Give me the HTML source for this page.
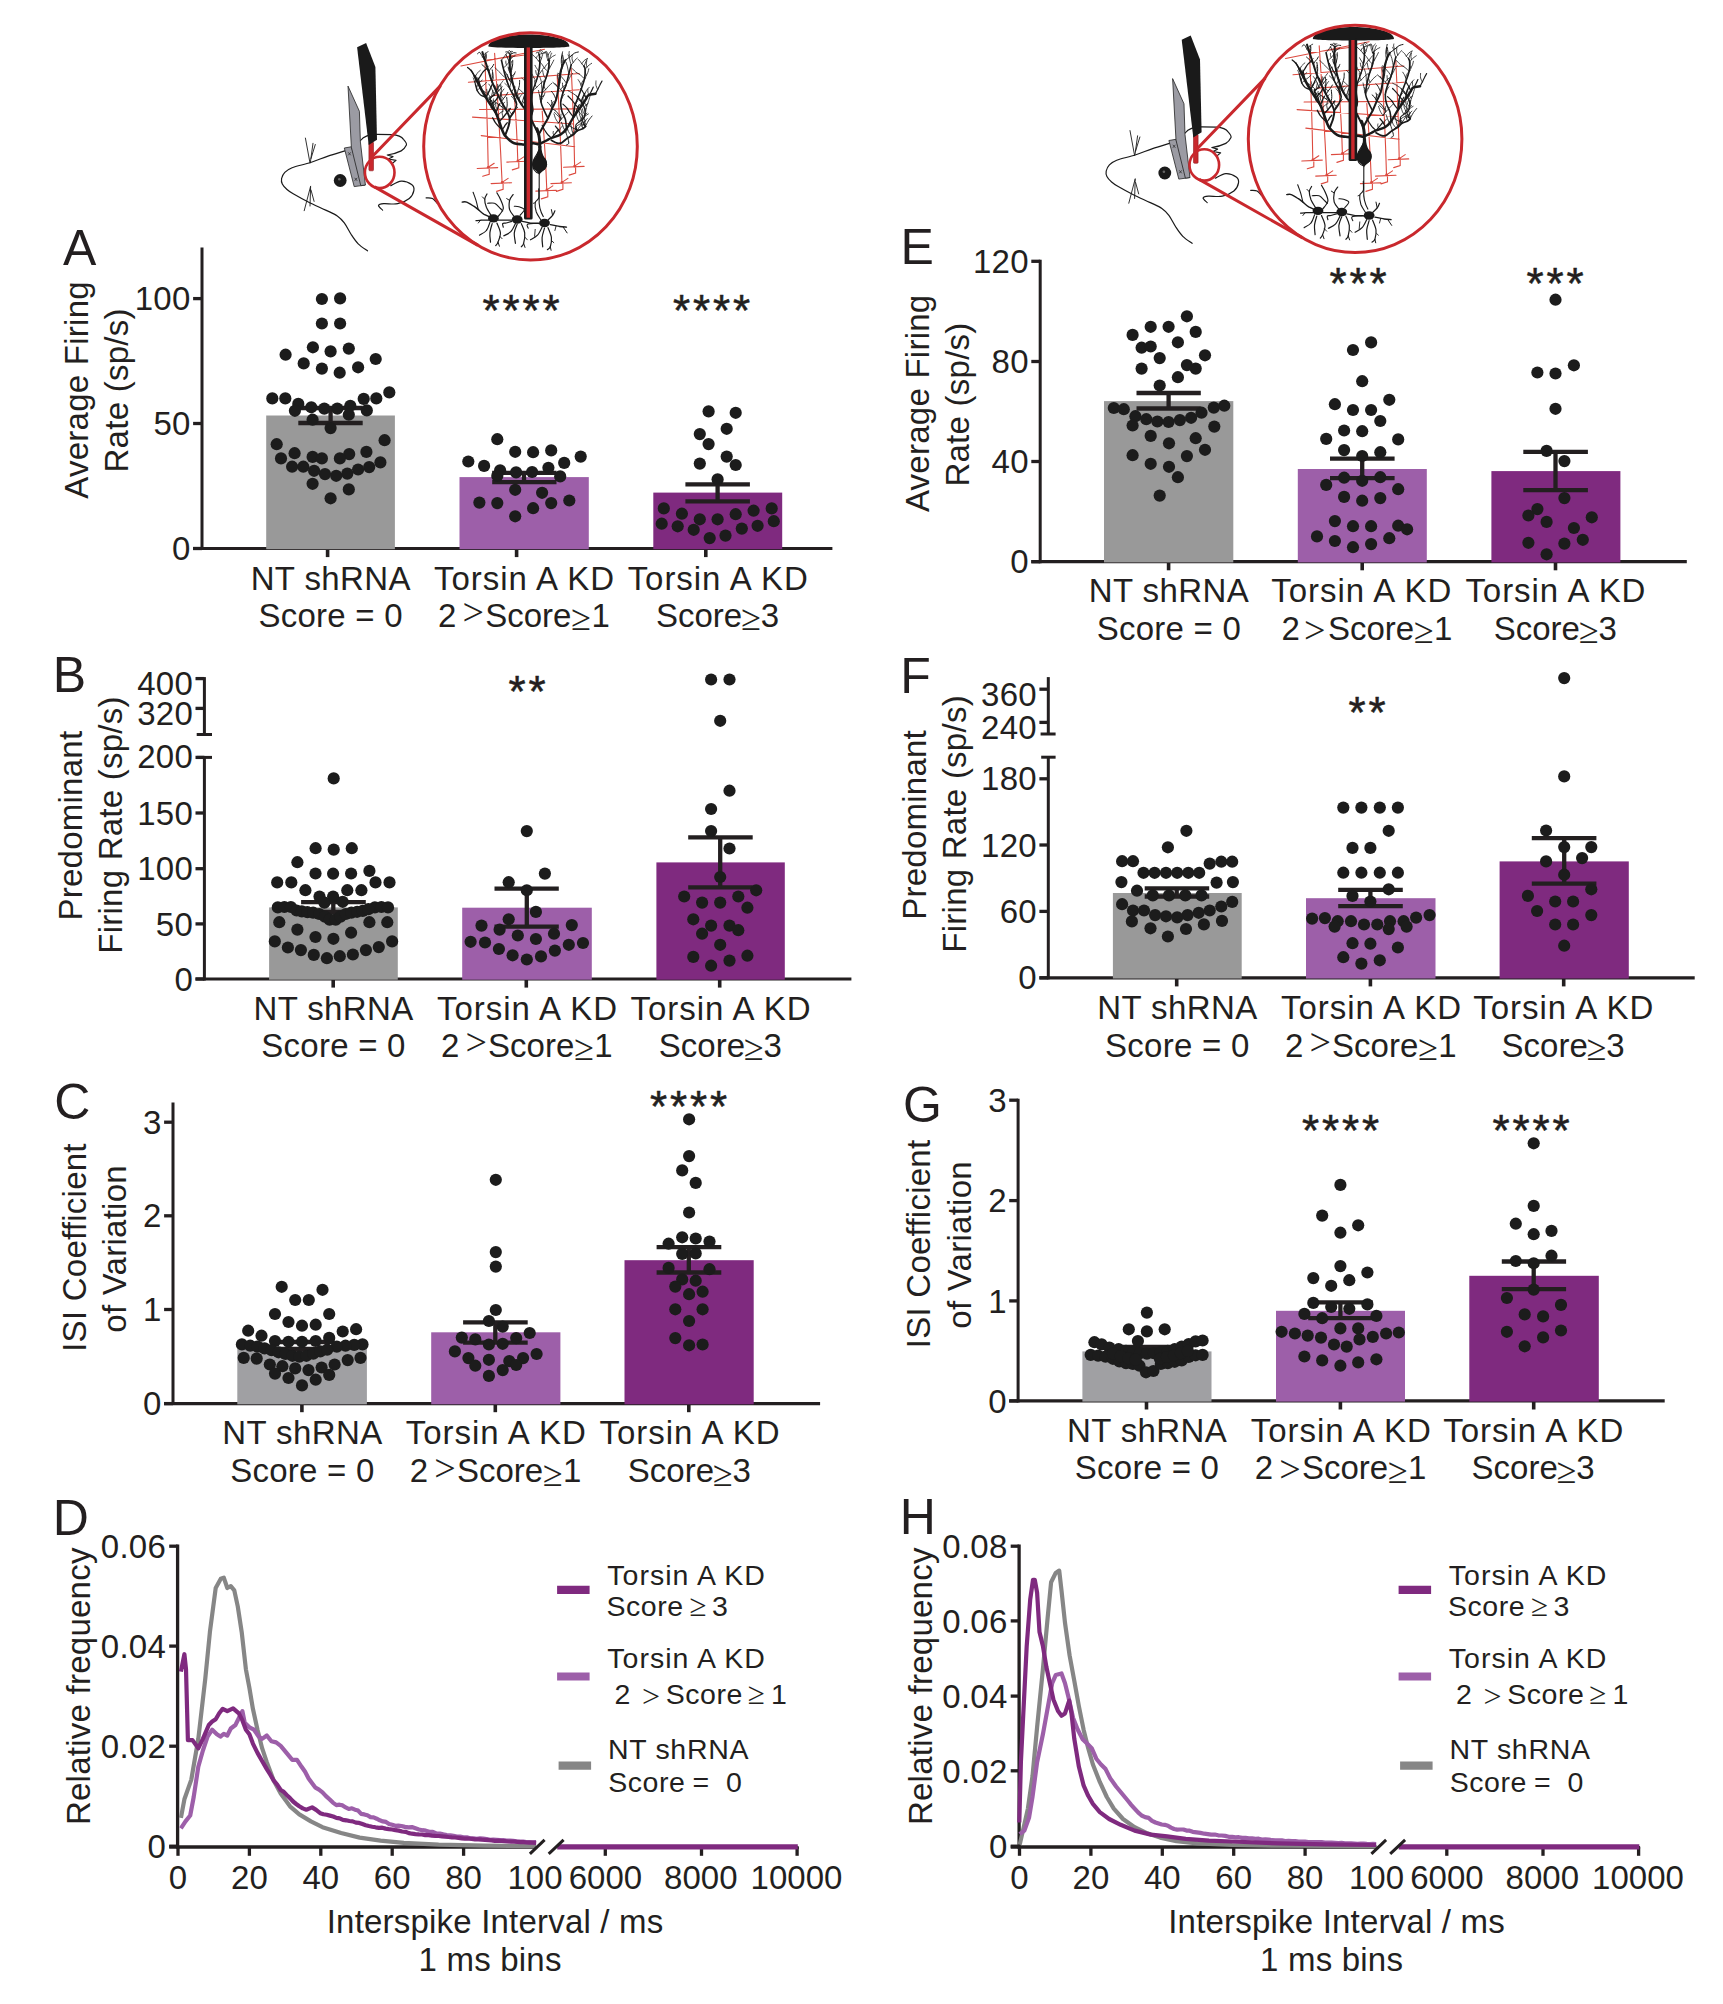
<!DOCTYPE html>
<html lang="en"><head><meta charset="utf-8"><title>Figure</title>
<style>html,body{margin:0;padding:0;background:#fff}body{width:1723px;height:2004px;overflow:hidden}svg{display:block}text{font-family:'Liberation Sans', Arial, Helvetica, sans-serif;fill:#231f20}</style>
</head><body>
<svg width="1723" height="2004" viewBox="0 0 1723 2004">
<rect width="1723" height="2004" fill="#fff"/>
<g transform="translate(0.0,0.0)">
<path d="M344.9,150.9 C342.1,151.8 333.7,154.2 328.0,156.1 C322.3,158.0 316.6,160.6 310.6,162.5 C304.6,164.4 296.4,166.1 292.1,167.7 C287.8,169.3 286.6,170.5 284.8,172.3 C283.1,174.1 282.0,176.6 281.6,178.5 C281.2,180.4 281.4,182.2 282.3,184.0 C283.2,185.8 285.2,187.9 287.0,189.5 C288.8,191.1 289.6,191.7 293.2,193.8 C296.8,195.9 302.9,199.3 308.3,202.0 C313.7,204.7 320.9,207.8 325.7,210.1 C330.5,212.4 334.2,213.8 337.3,215.9 C340.4,218.0 342.0,219.8 344.3,222.9 C346.6,226.0 348.9,231.0 351.2,234.5 C353.5,238.0 355.5,241.1 358.2,243.8 C360.9,246.5 365.9,249.6 367.5,250.8" fill="none" stroke="#1a1a1a" stroke-width="1.2" stroke-linecap="round" stroke-linejoin="round"/>
<path d="M305.4,138.1 L310,163 M313,143.3 L310.4,162 M315.3,144.5 L311,158.5 M304.2,210.7 L310.6,186.3 M310,206 L310.6,187 M314.1,201.4 L311,190" fill="none" stroke="#1a1a1a" stroke-width="0.9" stroke-linecap="round"/>
<path d="M360.5,140.5 C364,136 369,134.4 377,134.4 L391.9,134.6 C398,135 402,137 403.5,139.3 C406,142 406.8,144 406.4,145.1 C405,148 403,150 401.2,150.9 C397,153 392,154.5 387.2,155 L393,156.7 L388.4,159 L396,160.4 L391.9,163.7" fill="none" stroke="#1a1a1a" stroke-width="1.2" stroke-linecap="round" stroke-linejoin="round"/>
<path d="M390.7,185.7 C392.4,184.9 397.7,181.3 401.2,181.1 C404.7,180.9 409.5,183.0 411.6,184.6 C413.7,186.2 414.3,188.1 413.9,190.4 C413.5,192.7 412.0,196.3 409.3,198.5 C406.6,200.7 401.9,202.8 397.7,203.7 C393.4,204.6 387.0,203.4 383.8,203.7 C380.6,204.0 378.7,204.4 378.5,205.5 C378.3,206.6 381.9,209.3 382.6,210.1" fill="none" stroke="#1a1a1a" stroke-width="1.2" stroke-linecap="round" stroke-linejoin="round"/>
<path d="M426.1,197.9 C427.2,198.0 430.7,197.6 432.5,198.5 C434.3,199.4 436.3,202.3 437.1,203.1" fill="none" stroke="#1a1a1a" stroke-width="1.2" stroke-linecap="round" stroke-linejoin="round"/>
<circle cx="340.2" cy="180.5" r="6.4" fill="#1a1a1a"/><circle cx="339.3" cy="179.2" r="1.3" fill="#666"/>
<polygon points="344.3,148 351.3,146.8 365.2,185.1 354.2,186.6" fill="#9b9ba3" stroke="#222" stroke-width="0.8"/>
<polygon points="348,86.1 359.4,111.3 360.4,142 365.4,185 360.8,185.7 351.4,147.5" fill="#9b9ba3" stroke="#222" stroke-width="0.8" stroke-linejoin="round"/>
<path d="M348.2,152.3 l2.6,3 M350.8,152.3 l-2.6,3 M354.6,177.8 l2.6,3 M357.2,177.8 l-2.6,3" stroke="#222" stroke-width="0.7" fill="none"/>
<rect x="368.9" y="142" width="4.6" height="28.8" rx="1" fill="#c9282d" stroke="#8e1c20" stroke-width="0.6"/>
<polygon points="357.1,47.2 366.1,43.1 375.4,67.1 377,139.7 368.7,144.9" fill="#1a1a1a"/>
<ellipse cx="379.7" cy="172.4" rx="14.8" ry="15.7" fill="none" stroke="#c9282d" stroke-width="2.6"/>
<path d="M372.1,156.7 L440.6,85.6 M374.5,186.9 L478,245.4" fill="none" stroke="#c9282d" stroke-width="3" stroke-linecap="butt"/>
<path d="M460.9,66.0 L544.5,49.2 M485.3,60.2 L524.7,55.0 M468.4,82.2 L579.3,73.5 M492.2,95.6 L579.3,89.8 M479.5,109.5 L580.5,108.9 M472.5,117.1 L573.5,124.0 M481.2,135.6 L574.7,146.7 M484.7,56.7 Q487.4,117.5 488.2,167.3 M477.2,168.5 L497.7,167.6 M488.2,167.3 L494.2,163.3 M489.2,167.3 L489.2,174.3 L482.7,176.3 M494.6,53.2 Q499.5,124.3 502.1,182.4 M491.1,183.6 L511.6,182.7 M502.1,182.4 L508.1,178.4 M503.1,182.4 L503.1,189.4 L496.6,191.4 M514.3,95.0 Q517.0,131.2 517.8,160.9 M506.8,162.1 L527.3,161.2 M517.8,160.9 L523.8,156.9 M518.8,160.9 L518.8,167.9 L512.3,169.9 M542.2,111.0 Q545.5,154.4 546.8,189.9 M535.8,191.1 L556.3,190.2 M546.8,189.9 L552.8,185.9 M547.8,189.9 L547.8,196.9 L541.3,198.9 M557.2,76.4 Q560.6,134.7 561.9,182.4 M550.9,183.6 L571.4,182.7 M561.9,182.4 L567.9,178.4 M562.9,182.4 L562.9,189.4 L556.4,191.4 M571.2,68.3 Q573.9,122.1 574.6,166.1 M563.6,167.3 L584.1,166.4 M574.6,166.1 L580.6,162.1 M575.6,166.1 L575.6,173.1 L569.1,175.1 " fill="none" stroke="#dc4a3f" stroke-width="1.1" stroke-linecap="round"/>
<circle cx="488.2" cy="167.3" r="1.3" fill="#dc4a3f"/>
<circle cx="502.1" cy="182.4" r="1.3" fill="#dc4a3f"/>
<circle cx="517.8" cy="160.9" r="1.3" fill="#dc4a3f"/>
<circle cx="546.8" cy="189.9" r="1.3" fill="#dc4a3f"/>
<circle cx="561.9" cy="182.4" r="1.3" fill="#dc4a3f"/>
<circle cx="574.6" cy="166.1" r="1.3" fill="#dc4a3f"/>
<path d="M539.8,147.2 C539.8,146.1 539.8,142.4 539.6,140.3 C539.4,138.1 539.1,136.4 538.7,134.5 C538.2,132.5 537.2,129.6 536.9,128.7" fill="none" stroke="#1a1a1a" stroke-width="3.0" stroke-linecap="round" stroke-linejoin="round"/>
<path d="M538.7,134.5 C538.0,133.1 536.0,129.1 534.6,126.3 C533.2,123.6 532.0,120.9 530.5,118.2 C529.1,115.5 527.4,112.4 525.9,110.1 C524.3,107.8 522.8,106.8 521.3,104.3 C519.7,101.8 518.0,98.3 516.6,95.0 C515.3,91.7 514.1,88.0 513.1,84.6 C512.2,81.1 511.4,77.4 510.8,74.1 C510.2,70.8 509.7,68.1 509.6,64.8 C509.5,61.5 510.1,56.1 510.2,54.4" fill="none" stroke="#1a1a1a" stroke-width="2.0" stroke-linecap="round" stroke-linejoin="round"/>
<path d="M538.7,134.5 C539.4,133.1 541.8,129.1 543.3,126.3 C544.9,123.6 546.5,121.1 548.0,118.2 C549.4,115.3 550.7,112.0 552.0,108.9 C553.4,105.8 555.0,103.1 556.1,99.6 C557.1,96.2 557.8,91.9 558.4,88.0 C559.0,84.2 559.0,79.9 559.6,76.4 C560.1,72.9 560.9,69.9 561.9,67.1 C562.8,64.4 564.8,61.3 565.4,60.2" fill="none" stroke="#1a1a1a" stroke-width="2.0" stroke-linecap="round" stroke-linejoin="round"/>
<path d="M538.1,144.3 C537.2,144.1 534.5,143.1 532.9,143.2 C531.2,143.3 530.2,144.7 528.2,144.9 C526.3,145.1 523.6,144.6 521.3,144.3 C518.9,144.0 516.2,143.9 514.3,143.2 C512.4,142.5 511.2,141.5 509.6,140.3 C508.1,139.0 506.3,137.4 505.0,135.6 C503.7,133.9 503.1,132.1 502.1,129.8 C501.1,127.5 500.3,124.6 499.2,121.7 C498.1,118.8 497.1,115.1 495.7,112.4 C494.4,109.7 492.7,108.0 491.1,105.4 C489.4,102.9 487.6,100.2 485.9,97.3 C484.1,94.4 482.1,90.7 480.6,88.0 C479.2,85.3 478.1,83.0 477.1,81.1 C476.2,79.1 475.2,77.2 474.8,76.4" fill="none" stroke="#1a1a1a" stroke-width="2.6" stroke-linecap="round" stroke-linejoin="round"/>
<path d="M505.0,135.6 C505.6,134.1 507.7,129.2 508.5,126.3 C509.3,123.4 510.0,120.9 509.6,118.2 C509.3,115.5 507.5,112.8 506.2,110.1 C504.8,107.4 503.1,104.9 501.5,102.0 C500.0,99.1 498.4,96.0 496.9,92.7 C495.3,89.4 493.6,85.7 492.2,82.2 C490.9,78.8 489.9,75.3 488.8,71.8 C487.6,68.3 486.3,64.6 485.3,61.3 C484.2,58.1 482.9,53.6 482.4,52.1" fill="none" stroke="#1a1a1a" stroke-width="2.0" stroke-linecap="round" stroke-linejoin="round"/>
<path d="M509.6,118.2 C510.4,117.1 513.1,113.6 514.3,111.3 C515.4,108.9 516.6,106.6 516.6,104.3 C516.6,102.0 515.4,100.0 514.3,97.3 C513.1,94.6 511.0,91.1 509.6,88.0 C508.3,84.9 507.2,82.0 506.2,78.8 C505.1,75.5 504.0,71.4 503.3,68.3 C502.5,65.2 501.8,61.5 501.5,60.2" fill="none" stroke="#1a1a1a" stroke-width="1.6" stroke-linecap="round" stroke-linejoin="round"/>
<path d="M495.7,112.4 C495.1,110.7 493.2,104.1 492.2,102.0 C491.3,99.8 490.1,100.4 489.9,99.6 C489.7,98.9 490.3,98.1 491.1,97.3 C491.8,96.6 494.0,95.4 494.6,95.0" fill="none" stroke="#1a1a1a" stroke-width="1.2" stroke-linecap="round" stroke-linejoin="round"/>
<path d="M485.9,97.3 C485.0,96.9 482.1,96.2 480.6,95.0 C479.2,93.8 478.0,92.1 477.1,90.4 C476.3,88.6 475.7,85.5 475.4,84.6" fill="none" stroke="#1a1a1a" stroke-width="1.2" stroke-linecap="round" stroke-linejoin="round"/>
<path d="M541.0,143.2 C542.0,142.7 545.0,141.1 546.8,140.3 C548.5,139.4 549.1,138.9 551.4,138.0 C553.8,137.0 558.2,136.0 560.7,134.5 C563.2,132.9 564.4,131.6 566.5,128.7 C568.7,125.8 571.4,120.3 573.5,117.1 C575.6,113.8 577.7,111.1 579.3,108.9 C580.8,106.8 581.6,106.0 582.8,104.3 C583.9,102.5 585.3,100.0 586.3,98.5 C587.2,96.9 587.0,95.8 588.6,95.0 C590.1,94.2 594.4,94.0 595.5,93.8" fill="none" stroke="#1a1a1a" stroke-width="2.4" stroke-linecap="round" stroke-linejoin="round"/>
<path d="M566.5,128.7 C566.3,127.1 566.1,122.3 565.4,119.4 C564.6,116.5 562.7,114.2 561.9,111.3 C561.1,108.4 560.5,105.1 560.7,102.0 C560.9,98.9 562.1,95.8 563.0,92.7 C564.0,89.6 565.6,86.5 566.5,83.4 C567.5,80.3 568.1,77.2 568.8,74.1 C569.6,71.0 570.8,66.4 571.2,64.8" fill="none" stroke="#1a1a1a" stroke-width="1.6" stroke-linecap="round" stroke-linejoin="round"/>
<path d="M573.5,117.1 C573.7,115.3 573.9,109.9 574.6,106.6 C575.4,103.3 577.0,100.4 578.1,97.3 C579.3,94.2 580.5,91.1 581.6,88.0 C582.7,84.9 583.9,81.8 584.5,78.8 C585.1,75.7 585.2,71.6 585.1,69.5 C585.0,67.3 584.1,66.6 583.9,66.0" fill="none" stroke="#1a1a1a" stroke-width="1.6" stroke-linecap="round" stroke-linejoin="round"/>
<path d="M551.4,140.3 C552.4,140.8 555.5,142.8 557.2,143.2 C559.0,143.6 560.1,143.5 561.9,142.6 C563.6,141.7 565.7,139.3 567.7,138.0 C569.6,136.6 571.9,135.6 573.5,134.5 C575.0,133.3 575.4,132.0 577.0,131.0 C578.5,130.0 581.3,129.4 582.8,128.7 C584.2,127.9 585.5,127.0 585.7,126.3 C585.9,125.7 584.2,124.9 583.9,124.6" fill="none" stroke="#1a1a1a" stroke-width="1.8" stroke-linecap="round" stroke-linejoin="round"/>
<path d="M567.7,138.0 C567.9,138.8 569.0,142.0 568.8,143.2 C568.7,144.3 566.9,144.6 566.5,144.9" fill="none" stroke="#1a1a1a" stroke-width="1.0" stroke-linecap="round" stroke-linejoin="round"/>
<path d="M577.0,131.0 C576.8,130.0 575.4,126.7 575.8,125.2 C576.2,123.6 577.9,122.9 579.3,121.7 C580.6,120.5 583.0,120.0 583.9,118.2 C584.9,116.5 585.0,113.0 585.1,111.3 C585.2,109.5 584.6,108.4 584.5,107.8" fill="none" stroke="#1a1a1a" stroke-width="1.2" stroke-linecap="round" stroke-linejoin="round"/>
<path d="M548.0,118.2 C547.4,117.1 545.6,114.0 544.5,111.3 C543.3,108.5 541.4,105.1 541.0,102.0 C540.6,98.9 541.6,96.0 542.1,92.7 C542.7,89.4 543.5,85.7 544.5,82.2 C545.4,78.8 547.2,75.3 548.0,71.8 C548.7,68.3 549.1,63.3 549.1,61.3 C549.1,59.4 548.1,60.4 548.0,60.2" fill="none" stroke="#1a1a1a" stroke-width="1.6" stroke-linecap="round" stroke-linejoin="round"/>
<path d="M530.5,118.2 C530.9,116.9 532.7,113.2 532.9,110.1 C533.1,107.0 531.7,102.9 531.7,99.6 C531.7,96.4 532.1,93.5 532.9,90.4 C533.6,87.3 535.4,84.2 536.3,81.1 C537.3,78.0 538.1,74.9 538.7,71.8 C539.2,68.7 539.7,65.4 539.8,62.5 C539.9,59.6 539.3,55.7 539.2,54.4" fill="none" stroke="#1a1a1a" stroke-width="1.4" stroke-linecap="round" stroke-linejoin="round"/>
<path d="M552.0,108.9 C552.7,109.3 554.6,109.7 556.1,111.3 C557.5,112.8 560.3,116.3 560.7,118.2 C561.1,120.2 558.8,122.1 558.4,122.9" fill="none" stroke="#1a1a1a" stroke-width="1.0" stroke-linecap="round" stroke-linejoin="round"/>
<path d="M530.5,118.2 C530.1,117.6 529.0,115.6 528.2,114.3 C527.4,113.0 526.7,111.6 525.9,110.3 C525.1,109.0 523.8,107.1 523.4,106.5" fill="none" stroke="#1a1a1a" stroke-width="1.0" stroke-linecap="round" stroke-linejoin="round"/>
<path d="M528.2,114.3 C528.3,114.0 528.6,113.1 529.0,112.6 C529.4,112.1 530.2,111.6 530.4,111.3" fill="none" stroke="#1a1a1a" stroke-width="0.8" stroke-linecap="round" stroke-linejoin="round"/>
<path d="M530.5,118.2 C530.6,117.8 530.9,116.5 531.2,115.7 C531.5,114.8 532.0,114.1 532.2,113.2 C532.5,112.4 532.7,111.1 532.8,110.7" fill="none" stroke="#1a1a1a" stroke-width="1.0" stroke-linecap="round" stroke-linejoin="round"/>
<path d="M531.2,115.7 C530.8,115.0 529.4,113.2 529.0,111.7 C528.5,110.3 528.5,107.9 528.4,107.1" fill="none" stroke="#1a1a1a" stroke-width="0.8" stroke-linecap="round" stroke-linejoin="round"/>
<path d="M525.9,110.1 C525.3,109.3 523.4,107.2 522.3,105.6 C521.3,104.0 520.6,102.2 519.6,100.6 C518.6,99.0 516.9,96.7 516.4,95.9" fill="none" stroke="#1a1a1a" stroke-width="1.0" stroke-linecap="round" stroke-linejoin="round"/>
<path d="M522.3,105.6 C522.4,105.2 522.6,103.9 523.0,103.1 C523.4,102.3 524.4,101.3 524.7,100.9" fill="none" stroke="#1a1a1a" stroke-width="0.8" stroke-linecap="round" stroke-linejoin="round"/>
<path d="M521.3,104.3 C520.8,103.7 519.5,101.8 518.7,100.5 C517.8,99.3 517.1,97.9 516.2,96.7 C515.2,95.6 513.5,94.1 512.9,93.6" fill="none" stroke="#1a1a1a" stroke-width="1.0" stroke-linecap="round" stroke-linejoin="round"/>
<path d="M518.7,100.5 C518.9,100.0 519.2,98.1 519.8,97.0 C520.4,95.9 521.8,94.5 522.3,94.0" fill="none" stroke="#1a1a1a" stroke-width="0.8" stroke-linecap="round" stroke-linejoin="round"/>
<path d="M521.3,104.3 C521.5,103.6 522.4,101.6 522.9,100.2 C523.4,98.9 523.6,97.4 524.1,96.1 C524.6,94.7 525.6,92.8 525.9,92.1" fill="none" stroke="#1a1a1a" stroke-width="1.0" stroke-linecap="round" stroke-linejoin="round"/>
<path d="M516.6,95.0 C516.4,94.4 515.6,92.4 515.2,91.1 C514.8,89.8 514.6,88.4 514.2,87.1 C513.8,85.7 513.1,83.8 512.8,83.2" fill="none" stroke="#1a1a1a" stroke-width="1.0" stroke-linecap="round" stroke-linejoin="round"/>
<path d="M516.6,95.0 C516.8,94.2 517.5,91.8 518.0,90.2 C518.5,88.7 519.1,87.1 519.4,85.5 C519.6,83.9 519.6,81.4 519.6,80.5" fill="none" stroke="#1a1a1a" stroke-width="1.0" stroke-linecap="round" stroke-linejoin="round"/>
<path d="M513.1,84.6 C512.6,83.8 510.9,81.7 510.0,80.2 C509.0,78.7 508.1,77.2 507.2,75.6 C506.4,74.0 505.2,71.6 504.7,70.8" fill="none" stroke="#1a1a1a" stroke-width="1.0" stroke-linecap="round" stroke-linejoin="round"/>
<path d="M510.0,80.2 C510.3,79.6 510.9,77.5 511.7,76.4 C512.5,75.3 514.3,73.9 514.9,73.5" fill="none" stroke="#1a1a1a" stroke-width="0.8" stroke-linecap="round" stroke-linejoin="round"/>
<path d="M510.8,74.1 C510.6,73.7 510.0,72.6 509.6,71.9 C509.3,71.1 508.9,70.3 508.6,69.5 C508.4,68.7 508.3,67.5 508.2,67.0" fill="none" stroke="#1a1a1a" stroke-width="1.0" stroke-linecap="round" stroke-linejoin="round"/>
<path d="M510.8,74.1 C511.0,73.4 511.4,71.1 511.7,69.6 C512.0,68.0 512.4,66.5 512.6,65.0 C512.8,63.4 512.7,61.1 512.7,60.3" fill="none" stroke="#1a1a1a" stroke-width="1.0" stroke-linecap="round" stroke-linejoin="round"/>
<path d="M511.7,69.6 C511.6,68.9 510.9,67.0 510.8,65.7 C510.8,64.4 511.4,62.3 511.5,61.6" fill="none" stroke="#1a1a1a" stroke-width="0.8" stroke-linecap="round" stroke-linejoin="round"/>
<path d="M509.6,64.8 C509.5,64.2 509.3,62.4 509.0,61.2 C508.6,60.0 508.0,58.9 507.5,57.8 C507.0,56.7 506.3,55.0 506.0,54.5" fill="none" stroke="#1a1a1a" stroke-width="1.0" stroke-linecap="round" stroke-linejoin="round"/>
<path d="M509.0,61.2 C509.4,60.7 510.4,58.8 511.4,57.9 C512.4,57.0 514.5,56.1 515.1,55.7" fill="none" stroke="#1a1a1a" stroke-width="0.8" stroke-linecap="round" stroke-linejoin="round"/>
<path d="M510.2,54.4 C510.1,54.3 509.7,54.1 509.3,53.7 C508.9,53.3 508.3,52.2 507.8,51.9 C507.2,51.6 506.2,52.0 505.8,52.0" fill="none" stroke="#1a1a1a" stroke-width="1.0" stroke-linecap="round" stroke-linejoin="round"/>
<path d="M509.3,53.7 C509.5,53.3 509.9,51.9 510.5,51.5 C511.0,51.1 512.2,51.5 512.5,51.5" fill="none" stroke="#1a1a1a" stroke-width="0.8" stroke-linecap="round" stroke-linejoin="round"/>
<path d="M510.2,54.4 C510.5,54.3 511.3,54.0 511.9,53.7 C512.6,53.4 513.2,52.8 513.9,52.7 C514.6,52.6 515.7,53.0 516.1,53.0" fill="none" stroke="#1a1a1a" stroke-width="1.0" stroke-linecap="round" stroke-linejoin="round"/>
<path d="M511.9,53.7 C511.5,53.2 510.1,50.9 509.5,50.5 C508.9,50.1 508.6,51.3 508.5,51.5" fill="none" stroke="#1a1a1a" stroke-width="0.8" stroke-linecap="round" stroke-linejoin="round"/>
<path d="M552.0,108.9 C551.8,108.5 551.4,107.2 551.0,106.4 C550.6,105.7 550.1,104.9 549.5,104.2 C548.9,103.6 547.9,102.7 547.5,102.4" fill="none" stroke="#1a1a1a" stroke-width="1.0" stroke-linecap="round" stroke-linejoin="round"/>
<path d="M551.0,106.4 C551.1,106.0 551.3,104.6 551.8,103.8 C552.2,103.0 553.2,102.0 553.5,101.6" fill="none" stroke="#1a1a1a" stroke-width="0.8" stroke-linecap="round" stroke-linejoin="round"/>
<path d="M552.0,108.9 C552.0,108.5 552.1,107.0 552.2,106.1 C552.2,105.1 552.2,104.2 552.1,103.2 C552.0,102.3 551.5,100.9 551.4,100.5" fill="none" stroke="#1a1a1a" stroke-width="1.0" stroke-linecap="round" stroke-linejoin="round"/>
<path d="M556.1,99.6 C555.9,99.2 555.3,97.7 554.8,96.7 C554.4,95.7 554.0,94.7 553.4,93.8 C552.8,92.9 551.8,91.7 551.4,91.3" fill="none" stroke="#1a1a1a" stroke-width="1.0" stroke-linecap="round" stroke-linejoin="round"/>
<path d="M558.4,88.0 C558.1,87.7 557.3,86.7 556.7,86.0 C556.1,85.4 555.5,84.7 554.9,84.1 C554.3,83.5 553.2,82.8 552.9,82.5" fill="none" stroke="#1a1a1a" stroke-width="1.0" stroke-linecap="round" stroke-linejoin="round"/>
<path d="M558.4,88.0 C558.7,87.1 559.6,84.5 559.9,82.6 C560.3,80.8 560.3,78.9 560.5,77.0 C560.7,75.1 561.1,72.4 561.2,71.4" fill="none" stroke="#1a1a1a" stroke-width="1.0" stroke-linecap="round" stroke-linejoin="round"/>
<path d="M559.9,82.6 C559.6,81.9 558.3,80.0 557.9,78.5 C557.5,77.0 557.6,74.6 557.5,73.8" fill="none" stroke="#1a1a1a" stroke-width="0.8" stroke-linecap="round" stroke-linejoin="round"/>
<path d="M559.6,76.4 C559.7,75.8 560.0,74.1 560.3,72.9 C560.7,71.8 561.1,70.7 561.6,69.5 C562.0,68.4 562.6,66.7 562.8,66.2" fill="none" stroke="#1a1a1a" stroke-width="1.0" stroke-linecap="round" stroke-linejoin="round"/>
<path d="M561.9,67.1 C561.8,66.3 561.3,63.7 561.3,62.0 C561.2,60.3 561.3,58.6 561.6,56.9 C561.8,55.2 562.5,52.7 562.6,51.9" fill="none" stroke="#1a1a1a" stroke-width="1.0" stroke-linecap="round" stroke-linejoin="round"/>
<path d="M561.9,67.1 C562.1,66.5 562.8,64.5 563.1,63.2 C563.3,61.8 563.4,60.4 563.3,59.1 C563.2,57.7 562.7,55.7 562.6,55.0" fill="none" stroke="#1a1a1a" stroke-width="1.0" stroke-linecap="round" stroke-linejoin="round"/>
<path d="M563.1,63.2 C562.9,62.6 562.0,60.9 561.9,59.6 C561.7,58.4 562.1,56.4 562.1,55.8" fill="none" stroke="#1a1a1a" stroke-width="0.8" stroke-linecap="round" stroke-linejoin="round"/>
<path d="M565.4,60.2 C566.1,59.6 568.5,58.0 570.0,56.8 C571.6,55.6 573.1,53.9 574.5,53.1 C575.9,52.3 577.7,52.2 578.4,52.0" fill="none" stroke="#1a1a1a" stroke-width="1.0" stroke-linecap="round" stroke-linejoin="round"/>
<path d="M570.0,56.8 C569.9,56.2 569.1,54.3 569.0,53.4 C568.9,52.5 569.3,51.8 569.3,51.5" fill="none" stroke="#1a1a1a" stroke-width="0.8" stroke-linecap="round" stroke-linejoin="round"/>
<path d="M502.1,129.8 C501.5,129.2 499.6,127.5 498.5,126.2 C497.3,125.0 496.1,123.7 495.2,122.3 C494.2,120.9 493.2,118.6 492.7,117.8" fill="none" stroke="#1a1a1a" stroke-width="1.3" stroke-linecap="round" stroke-linejoin="round"/>
<path d="M502.1,129.8 C502.4,129.4 503.3,128.3 503.8,127.5 C504.4,126.6 504.8,125.7 505.4,124.9 C506.0,124.2 507.0,123.1 507.3,122.7" fill="none" stroke="#1a1a1a" stroke-width="1.3" stroke-linecap="round" stroke-linejoin="round"/>
<path d="M499.2,121.7 C498.9,120.8 498.1,118.1 497.3,116.4 C496.6,114.7 495.7,113.0 494.6,111.5 C493.6,109.9 491.6,107.9 491.0,107.1" fill="none" stroke="#1a1a1a" stroke-width="1.3" stroke-linecap="round" stroke-linejoin="round"/>
<path d="M497.3,116.4 C497.7,115.9 498.8,114.1 499.8,113.2 C500.8,112.3 502.9,111.4 503.5,111.0" fill="none" stroke="#1a1a1a" stroke-width="0.8" stroke-linecap="round" stroke-linejoin="round"/>
<path d="M499.2,121.7 C499.8,121.0 501.8,118.9 503.1,117.5 C504.3,116.0 505.4,114.5 506.6,113.0 C507.8,111.5 509.7,109.3 510.3,108.5" fill="none" stroke="#1a1a1a" stroke-width="1.3" stroke-linecap="round" stroke-linejoin="round"/>
<path d="M503.1,117.5 C502.9,116.7 502.1,114.5 502.1,113.0 C502.1,111.5 502.9,109.1 503.0,108.4" fill="none" stroke="#1a1a1a" stroke-width="0.8" stroke-linecap="round" stroke-linejoin="round"/>
<path d="M495.7,112.4 C495.2,111.6 493.6,109.3 492.8,107.7 C492.0,106.0 491.4,104.2 490.9,102.4 C490.3,100.7 489.9,97.9 489.8,97.0" fill="none" stroke="#1a1a1a" stroke-width="1.3" stroke-linecap="round" stroke-linejoin="round"/>
<path d="M492.8,107.7 C493.0,107.2 493.2,105.9 493.7,105.2 C494.1,104.5 495.1,103.5 495.4,103.2" fill="none" stroke="#1a1a1a" stroke-width="0.8" stroke-linecap="round" stroke-linejoin="round"/>
<path d="M495.7,112.4 C496.0,111.9 496.8,110.6 497.3,109.6 C497.7,108.6 497.8,107.5 498.3,106.5 C498.7,105.5 499.6,104.2 499.9,103.7" fill="none" stroke="#1a1a1a" stroke-width="1.3" stroke-linecap="round" stroke-linejoin="round"/>
<path d="M497.3,109.6 C497.0,109.1 496.1,107.6 495.8,106.5 C495.6,105.4 495.7,103.5 495.7,102.9" fill="none" stroke="#1a1a1a" stroke-width="0.8" stroke-linecap="round" stroke-linejoin="round"/>
<path d="M491.1,105.4 C491.5,104.9 492.9,103.4 493.8,102.4 C494.7,101.4 495.7,100.5 496.5,99.4 C497.3,98.3 498.1,96.4 498.4,95.8" fill="none" stroke="#1a1a1a" stroke-width="1.3" stroke-linecap="round" stroke-linejoin="round"/>
<path d="M493.8,102.4 C493.7,102.1 493.3,101.3 493.3,100.7 C493.2,100.1 493.4,99.2 493.5,98.9" fill="none" stroke="#1a1a1a" stroke-width="0.8" stroke-linecap="round" stroke-linejoin="round"/>
<path d="M485.9,97.3 C486.2,96.6 487.5,94.5 488.2,93.1 C489.0,91.7 489.6,90.2 490.2,88.7 C490.9,87.2 492.0,85.0 492.3,84.3" fill="none" stroke="#1a1a1a" stroke-width="1.3" stroke-linecap="round" stroke-linejoin="round"/>
<path d="M488.2,93.1 C488.0,92.8 487.4,92.0 487.1,91.4 C486.8,90.8 486.7,89.7 486.7,89.3" fill="none" stroke="#1a1a1a" stroke-width="0.8" stroke-linecap="round" stroke-linejoin="round"/>
<path d="M480.6,88.0 C480.5,87.5 480.1,85.9 479.9,84.8 C479.6,83.8 479.3,82.7 479.1,81.6 C478.9,80.6 478.5,79.0 478.4,78.4" fill="none" stroke="#1a1a1a" stroke-width="1.3" stroke-linecap="round" stroke-linejoin="round"/>
<path d="M477.1,81.1 C476.8,80.5 475.7,78.8 475.0,77.6 C474.4,76.4 473.8,75.1 473.2,73.9 C472.6,72.7 471.7,70.9 471.3,70.3" fill="none" stroke="#1a1a1a" stroke-width="1.3" stroke-linecap="round" stroke-linejoin="round"/>
<path d="M475.0,77.6 C475.3,76.9 476.0,74.7 476.9,73.5 C477.8,72.3 479.8,70.9 480.3,70.4" fill="none" stroke="#1a1a1a" stroke-width="0.8" stroke-linecap="round" stroke-linejoin="round"/>
<path d="M477.1,81.1 C477.6,80.3 479.1,77.9 480.2,76.4 C481.2,74.8 482.1,73.1 483.3,71.7 C484.5,70.3 486.7,68.5 487.4,67.9" fill="none" stroke="#1a1a1a" stroke-width="1.3" stroke-linecap="round" stroke-linejoin="round"/>
<path d="M474.8,76.4 C474.5,75.9 473.6,74.2 472.9,73.1 C472.2,72.0 471.4,71.0 470.5,70.0 C469.7,69.1 468.1,67.9 467.6,67.5" fill="none" stroke="#1a1a1a" stroke-width="1.3" stroke-linecap="round" stroke-linejoin="round"/>
<path d="M509.6,118.2 C510.0,117.5 510.8,115.3 511.6,114.0 C512.3,112.7 513.2,111.4 514.3,110.3 C515.3,109.1 517.2,107.7 517.7,107.2" fill="none" stroke="#1a1a1a" stroke-width="1.0" stroke-linecap="round" stroke-linejoin="round"/>
<path d="M511.6,114.0 C511.3,113.6 510.2,112.6 509.8,111.8 C509.3,110.9 509.1,109.3 508.9,108.9" fill="none" stroke="#1a1a1a" stroke-width="0.8" stroke-linecap="round" stroke-linejoin="round"/>
<path d="M506.2,110.1 C505.5,109.6 503.4,107.9 502.0,106.9 C500.6,105.9 499.2,104.9 497.8,103.9 C496.4,102.8 494.3,101.3 493.6,100.8" fill="none" stroke="#1a1a1a" stroke-width="1.0" stroke-linecap="round" stroke-linejoin="round"/>
<path d="M502.0,106.9 C502.2,106.5 502.4,105.1 502.8,104.4 C503.2,103.6 504.3,102.6 504.6,102.2" fill="none" stroke="#1a1a1a" stroke-width="0.8" stroke-linecap="round" stroke-linejoin="round"/>
<path d="M506.2,110.1 C506.3,109.4 507.0,107.4 507.1,106.0 C507.3,104.6 507.2,103.1 507.1,101.7 C507.0,100.3 506.7,98.2 506.7,97.5" fill="none" stroke="#1a1a1a" stroke-width="1.0" stroke-linecap="round" stroke-linejoin="round"/>
<path d="M501.5,102.0 C501.4,101.0 500.8,98.2 500.7,96.3 C500.7,94.4 501.3,92.5 501.3,90.5 C501.3,88.6 500.8,85.8 500.7,84.8" fill="none" stroke="#1a1a1a" stroke-width="1.0" stroke-linecap="round" stroke-linejoin="round"/>
<path d="M500.7,96.3 C500.9,95.6 501.1,93.6 501.6,92.4 C502.1,91.1 503.6,89.5 504.0,89.0" fill="none" stroke="#1a1a1a" stroke-width="0.8" stroke-linecap="round" stroke-linejoin="round"/>
<path d="M501.5,102.0 C501.8,101.4 502.7,99.7 503.4,98.7 C504.1,97.6 505.1,96.8 505.8,95.7 C506.5,94.7 507.5,93.1 507.8,92.5" fill="none" stroke="#1a1a1a" stroke-width="1.0" stroke-linecap="round" stroke-linejoin="round"/>
<path d="M503.4,98.7 C503.1,98.2 501.8,97.0 501.3,96.0 C500.8,95.0 500.5,93.2 500.4,92.6" fill="none" stroke="#1a1a1a" stroke-width="0.8" stroke-linecap="round" stroke-linejoin="round"/>
<path d="M496.9,92.7 C496.8,92.3 496.6,91.0 496.4,90.2 C496.2,89.4 496.1,88.5 495.8,87.8 C495.5,87.0 494.9,85.9 494.7,85.5" fill="none" stroke="#1a1a1a" stroke-width="1.0" stroke-linecap="round" stroke-linejoin="round"/>
<path d="M496.9,92.7 C497.2,92.4 498.2,91.6 498.8,90.9 C499.4,90.3 499.7,89.4 500.3,88.8 C500.9,88.1 501.9,87.3 502.2,86.9" fill="none" stroke="#1a1a1a" stroke-width="1.0" stroke-linecap="round" stroke-linejoin="round"/>
<path d="M498.8,90.9 C498.6,90.4 497.8,88.9 497.6,87.8 C497.4,86.7 497.7,84.9 497.7,84.3" fill="none" stroke="#1a1a1a" stroke-width="0.8" stroke-linecap="round" stroke-linejoin="round"/>
<path d="M492.2,82.2 C492.4,81.6 492.9,79.5 493.0,78.1 C493.1,76.8 493.1,75.4 492.9,74.0 C492.8,72.6 492.3,70.6 492.2,69.9" fill="none" stroke="#1a1a1a" stroke-width="1.0" stroke-linecap="round" stroke-linejoin="round"/>
<path d="M493.0,78.1 C492.9,77.7 492.3,76.5 492.2,75.6 C492.1,74.7 492.4,73.3 492.5,72.9" fill="none" stroke="#1a1a1a" stroke-width="0.8" stroke-linecap="round" stroke-linejoin="round"/>
<path d="M488.8,71.8 C488.4,71.3 487.5,69.9 486.8,69.1 C486.1,68.3 485.2,67.5 484.4,66.8 C483.6,66.0 482.3,65.0 481.9,64.6" fill="none" stroke="#1a1a1a" stroke-width="1.0" stroke-linecap="round" stroke-linejoin="round"/>
<path d="M486.8,69.1 C486.9,68.8 487.1,67.9 487.4,67.4 C487.7,66.9 488.4,66.2 488.6,66.0" fill="none" stroke="#1a1a1a" stroke-width="0.8" stroke-linecap="round" stroke-linejoin="round"/>
<path d="M488.8,71.8 C489.0,71.4 489.6,70.0 490.2,69.2 C490.8,68.4 491.6,67.8 492.2,67.0 C492.8,66.2 493.5,64.8 493.7,64.4" fill="none" stroke="#1a1a1a" stroke-width="1.0" stroke-linecap="round" stroke-linejoin="round"/>
<path d="M485.3,61.3 C484.8,60.6 483.4,58.4 482.5,56.9 C481.6,55.4 480.6,52.9 479.8,52.4 C479.0,51.9 477.9,53.5 477.5,53.8" fill="none" stroke="#1a1a1a" stroke-width="1.0" stroke-linecap="round" stroke-linejoin="round"/>
<path d="M482.5,56.9 C482.9,56.4 483.8,54.7 484.7,53.8 C485.6,52.9 487.5,52.0 488.1,51.7" fill="none" stroke="#1a1a1a" stroke-width="0.8" stroke-linecap="round" stroke-linejoin="round"/>
<path d="M485.3,61.3 C485.4,60.8 485.9,59.1 486.1,57.9 C486.2,56.7 486.3,55.2 486.2,54.4 C486.2,53.6 485.7,53.4 485.6,53.2" fill="none" stroke="#1a1a1a" stroke-width="1.0" stroke-linecap="round" stroke-linejoin="round"/>
<path d="M486.1,57.9 C486.0,57.6 485.6,56.7 485.5,56.0 C485.5,55.3 485.7,54.3 485.7,53.9" fill="none" stroke="#1a1a1a" stroke-width="0.8" stroke-linecap="round" stroke-linejoin="round"/>
<path d="M516.6,104.3 C516.4,103.8 515.6,102.4 515.1,101.5 C514.6,100.6 514.1,99.6 513.6,98.7 C513.0,97.9 511.9,96.7 511.5,96.3" fill="none" stroke="#1a1a1a" stroke-width="0.8" stroke-linecap="round" stroke-linejoin="round"/>
<path d="M515.1,101.5 C515.4,100.8 515.8,98.5 516.6,97.2 C517.4,95.9 519.2,94.3 519.7,93.7" fill="none" stroke="#1a1a1a" stroke-width="0.8" stroke-linecap="round" stroke-linejoin="round"/>
<path d="M514.3,97.3 C513.9,96.5 512.6,93.9 511.7,92.2 C510.8,90.6 510.0,88.9 508.8,87.4 C507.7,85.9 505.4,84.0 504.8,83.4" fill="none" stroke="#1a1a1a" stroke-width="0.8" stroke-linecap="round" stroke-linejoin="round"/>
<path d="M511.7,92.2 C512.0,91.8 512.4,90.2 513.1,89.4 C513.7,88.5 515.1,87.5 515.5,87.1" fill="none" stroke="#1a1a1a" stroke-width="0.8" stroke-linecap="round" stroke-linejoin="round"/>
<path d="M514.3,97.3 C514.4,97.0 515.0,95.9 515.2,95.2 C515.4,94.4 515.5,93.6 515.6,92.9 C515.7,92.1 515.8,90.9 515.9,90.5" fill="none" stroke="#1a1a1a" stroke-width="0.8" stroke-linecap="round" stroke-linejoin="round"/>
<path d="M515.2,95.2 C515.1,94.7 514.6,93.5 514.6,92.6 C514.6,91.7 515.0,90.4 515.1,89.9" fill="none" stroke="#1a1a1a" stroke-width="0.8" stroke-linecap="round" stroke-linejoin="round"/>
<path d="M509.6,88.0 C509.4,87.4 508.5,85.5 508.0,84.2 C507.4,82.9 507.0,81.6 506.6,80.3 C506.2,79.0 505.8,76.9 505.6,76.3" fill="none" stroke="#1a1a1a" stroke-width="0.8" stroke-linecap="round" stroke-linejoin="round"/>
<path d="M509.6,88.0 C509.9,87.1 510.4,84.3 511.0,82.4 C511.6,80.6 512.3,78.8 513.0,77.0 C513.7,75.3 514.9,72.7 515.3,71.8" fill="none" stroke="#1a1a1a" stroke-width="0.8" stroke-linecap="round" stroke-linejoin="round"/>
<path d="M511.0,82.4 C510.6,81.9 509.1,80.2 508.5,78.9 C507.9,77.6 507.7,75.3 507.5,74.5" fill="none" stroke="#1a1a1a" stroke-width="0.8" stroke-linecap="round" stroke-linejoin="round"/>
<path d="M506.2,78.8 C505.5,78.2 503.7,76.4 502.5,75.2 C501.3,73.9 500.1,72.7 498.8,71.5 C497.6,70.3 495.8,68.5 495.2,67.9" fill="none" stroke="#1a1a1a" stroke-width="0.8" stroke-linecap="round" stroke-linejoin="round"/>
<path d="M503.3,68.3 C503.8,67.8 505.6,66.2 506.6,65.0 C507.6,63.8 508.7,62.6 509.5,61.3 C510.3,60.0 511.1,57.7 511.4,57.0" fill="none" stroke="#1a1a1a" stroke-width="0.8" stroke-linecap="round" stroke-linejoin="round"/>
<path d="M506.6,65.0 C506.5,64.7 506.0,63.8 505.9,63.1 C505.7,62.4 505.9,61.3 505.9,61.0" fill="none" stroke="#1a1a1a" stroke-width="0.8" stroke-linecap="round" stroke-linejoin="round"/>
<path d="M501.5,60.2 C502.0,59.6 503.4,57.8 504.3,56.6 C505.2,55.4 506.2,53.6 507.0,53.0 C507.7,52.5 508.4,53.3 508.7,53.3" fill="none" stroke="#1a1a1a" stroke-width="0.8" stroke-linecap="round" stroke-linejoin="round"/>
<path d="M489.9,99.6 C489.4,99.1 487.8,97.4 486.8,96.2 C485.9,95.0 485.1,93.6 484.1,92.5 C483.2,91.3 481.6,89.6 481.0,89.0" fill="none" stroke="#1a1a1a" stroke-width="0.8" stroke-linecap="round" stroke-linejoin="round"/>
<path d="M486.8,96.2 C487.0,95.6 487.4,93.7 488.1,92.6 C488.7,91.5 490.3,90.1 490.7,89.6" fill="none" stroke="#1a1a1a" stroke-width="0.8" stroke-linecap="round" stroke-linejoin="round"/>
<path d="M489.9,99.6 C490.5,98.9 492.2,96.6 493.2,95.0 C494.3,93.4 495.2,91.8 496.3,90.1 C497.3,88.5 498.7,86.1 499.2,85.2" fill="none" stroke="#1a1a1a" stroke-width="0.8" stroke-linecap="round" stroke-linejoin="round"/>
<path d="M491.1,97.3 C490.5,96.8 489.0,95.0 487.9,94.1 C486.8,93.1 485.5,92.2 484.2,91.4 C482.9,90.6 480.9,89.6 480.2,89.2" fill="none" stroke="#1a1a1a" stroke-width="0.8" stroke-linecap="round" stroke-linejoin="round"/>
<path d="M491.1,97.3 C491.2,96.9 491.6,95.8 491.8,95.1 C492.0,94.3 492.1,93.5 492.3,92.8 C492.5,92.0 492.8,90.9 492.9,90.5" fill="none" stroke="#1a1a1a" stroke-width="0.8" stroke-linecap="round" stroke-linejoin="round"/>
<path d="M494.6,95.0 C494.3,94.4 493.5,92.5 492.9,91.2 C492.3,90.0 491.9,88.7 491.2,87.5 C490.5,86.3 489.2,84.7 488.8,84.1" fill="none" stroke="#1a1a1a" stroke-width="0.8" stroke-linecap="round" stroke-linejoin="round"/>
<path d="M494.6,95.0 C495.0,94.2 496.3,91.7 497.2,90.1 C498.1,88.5 498.8,86.7 499.8,85.1 C500.8,83.6 502.6,81.4 503.1,80.7" fill="none" stroke="#1a1a1a" stroke-width="0.8" stroke-linecap="round" stroke-linejoin="round"/>
<path d="M477.1,90.4 C477.1,89.9 476.9,88.3 476.7,87.3 C476.4,86.4 476.0,85.4 475.7,84.4 C475.4,83.5 475.1,82.0 474.9,81.5" fill="none" stroke="#1a1a1a" stroke-width="0.8" stroke-linecap="round" stroke-linejoin="round"/>
<path d="M476.7,87.3 C477.0,86.7 477.7,84.5 478.7,83.3 C479.6,82.1 481.6,80.8 482.2,80.2" fill="none" stroke="#1a1a1a" stroke-width="0.8" stroke-linecap="round" stroke-linejoin="round"/>
<path d="M477.1,90.4 C477.7,89.9 479.2,88.5 480.2,87.7 C481.3,86.8 482.5,86.2 483.6,85.3 C484.6,84.4 486.1,83.0 486.6,82.5" fill="none" stroke="#1a1a1a" stroke-width="0.8" stroke-linecap="round" stroke-linejoin="round"/>
<path d="M475.4,84.6 C475.3,84.2 475.0,83.1 474.8,82.3 C474.6,81.6 474.4,80.8 474.1,80.1 C473.9,79.3 473.4,78.3 473.2,77.9" fill="none" stroke="#1a1a1a" stroke-width="0.8" stroke-linecap="round" stroke-linejoin="round"/>
<path d="M474.8,82.3 C474.9,81.9 475.3,80.6 475.8,79.8 C476.2,79.1 477.3,78.2 477.7,77.8" fill="none" stroke="#1a1a1a" stroke-width="0.8" stroke-linecap="round" stroke-linejoin="round"/>
<path d="M551.4,138.0 C550.8,137.4 548.7,135.7 547.6,134.4 C546.5,133.0 545.6,131.5 544.6,130.0 C543.7,128.5 542.6,126.2 542.2,125.4" fill="none" stroke="#1a1a1a" stroke-width="1.2" stroke-linecap="round" stroke-linejoin="round"/>
<path d="M551.4,138.0 C551.8,137.5 553.0,136.0 553.8,135.1 C554.6,134.2 555.4,133.3 556.2,132.3 C557.0,131.4 558.1,129.9 558.5,129.4" fill="none" stroke="#1a1a1a" stroke-width="1.2" stroke-linecap="round" stroke-linejoin="round"/>
<path d="M553.8,135.1 C553.7,134.8 553.2,133.9 553.1,133.3 C553.1,132.7 553.2,131.7 553.3,131.4" fill="none" stroke="#1a1a1a" stroke-width="0.8" stroke-linecap="round" stroke-linejoin="round"/>
<path d="M560.7,134.5 C560.5,134.0 559.8,132.4 559.3,131.5 C558.7,130.5 558.1,129.6 557.5,128.7 C556.8,127.8 555.7,126.6 555.4,126.1" fill="none" stroke="#1a1a1a" stroke-width="1.2" stroke-linecap="round" stroke-linejoin="round"/>
<path d="M559.3,131.5 C559.4,131.0 559.7,129.6 560.1,128.8 C560.5,128.0 561.7,126.9 562.0,126.5" fill="none" stroke="#1a1a1a" stroke-width="0.8" stroke-linecap="round" stroke-linejoin="round"/>
<path d="M573.5,117.1 C572.9,116.3 571.1,114.2 570.0,112.7 C568.9,111.2 568.1,109.4 566.9,108.0 C565.8,106.6 563.6,104.7 562.9,104.1" fill="none" stroke="#1a1a1a" stroke-width="1.2" stroke-linecap="round" stroke-linejoin="round"/>
<path d="M573.5,117.1 C573.9,116.4 575.2,114.5 575.8,113.1 C576.4,111.7 576.5,110.1 577.1,108.7 C577.7,107.3 578.9,105.4 579.3,104.7" fill="none" stroke="#1a1a1a" stroke-width="1.2" stroke-linecap="round" stroke-linejoin="round"/>
<path d="M575.8,113.1 C575.6,112.7 574.8,111.5 574.6,110.6 C574.4,109.7 574.5,108.2 574.5,107.8" fill="none" stroke="#1a1a1a" stroke-width="0.8" stroke-linecap="round" stroke-linejoin="round"/>
<path d="M579.3,108.9 C578.6,108.2 576.7,106.2 575.4,104.7 C574.2,103.2 573.2,101.6 571.9,100.2 C570.7,98.7 568.6,96.7 568.0,96.0" fill="none" stroke="#1a1a1a" stroke-width="1.2" stroke-linecap="round" stroke-linejoin="round"/>
<path d="M575.4,104.7 C575.6,104.4 575.9,103.3 576.3,102.7 C576.7,102.0 577.7,101.3 577.9,101.0" fill="none" stroke="#1a1a1a" stroke-width="0.8" stroke-linecap="round" stroke-linejoin="round"/>
<path d="M579.3,108.9 C579.6,108.1 580.7,105.5 581.2,103.8 C581.7,102.0 581.8,100.2 582.3,98.4 C582.9,96.7 584.2,94.3 584.5,93.4" fill="none" stroke="#1a1a1a" stroke-width="1.2" stroke-linecap="round" stroke-linejoin="round"/>
<path d="M582.8,104.3 C582.5,103.9 581.8,102.5 581.3,101.7 C580.7,100.9 580.2,100.0 579.6,99.2 C578.9,98.5 577.8,97.5 577.4,97.2" fill="none" stroke="#1a1a1a" stroke-width="1.2" stroke-linecap="round" stroke-linejoin="round"/>
<path d="M581.3,101.7 C581.5,101.2 581.8,99.5 582.4,98.5 C582.9,97.5 584.3,96.3 584.7,95.8" fill="none" stroke="#1a1a1a" stroke-width="0.8" stroke-linecap="round" stroke-linejoin="round"/>
<path d="M586.3,98.5 C586.0,97.9 585.2,96.2 584.6,95.1 C584.1,94.0 583.5,92.9 582.8,91.8 C582.2,90.7 581.1,89.2 580.7,88.7" fill="none" stroke="#1a1a1a" stroke-width="1.2" stroke-linecap="round" stroke-linejoin="round"/>
<path d="M584.6,95.1 C584.9,94.4 585.4,92.1 586.2,90.8 C586.9,89.5 588.8,87.9 589.3,87.3" fill="none" stroke="#1a1a1a" stroke-width="0.8" stroke-linecap="round" stroke-linejoin="round"/>
<path d="M586.3,98.5 C586.7,97.9 588.2,96.2 589.1,95.0 C590.0,93.8 590.7,92.4 591.4,91.1 C592.1,89.8 593.0,87.7 593.3,87.0" fill="none" stroke="#1a1a1a" stroke-width="1.2" stroke-linecap="round" stroke-linejoin="round"/>
<path d="M589.1,95.0 C588.9,94.5 588.1,93.2 587.9,92.2 C587.7,91.2 587.9,89.6 587.9,89.0" fill="none" stroke="#1a1a1a" stroke-width="0.8" stroke-linecap="round" stroke-linejoin="round"/>
<path d="M595.5,93.8 C595.9,93.1 597.0,91.0 597.7,89.6 C598.4,88.1 599.0,86.7 599.8,85.2 C600.5,83.8 601.7,81.7 602.0,81.0" fill="none" stroke="#1a1a1a" stroke-width="1.2" stroke-linecap="round" stroke-linejoin="round"/>
<path d="M597.7,89.6 C597.4,88.9 596.3,86.9 596.0,85.5 C595.7,84.0 596.0,81.6 596.0,80.9" fill="none" stroke="#1a1a1a" stroke-width="0.8" stroke-linecap="round" stroke-linejoin="round"/>
<path d="M560.7,102.0 C560.9,101.5 561.3,100.1 561.6,99.2 C561.9,98.4 562.3,97.4 562.7,96.6 C563.2,95.8 564.1,94.7 564.4,94.3" fill="none" stroke="#1a1a1a" stroke-width="0.8" stroke-linecap="round" stroke-linejoin="round"/>
<path d="M563.0,92.7 C562.7,92.1 561.7,90.4 560.8,89.5 C560.0,88.5 558.8,87.8 557.9,86.8 C557.0,85.9 555.8,84.3 555.4,83.8" fill="none" stroke="#1a1a1a" stroke-width="0.8" stroke-linecap="round" stroke-linejoin="round"/>
<path d="M560.8,89.5 C561.2,89.0 562.1,87.4 563.0,86.6 C563.9,85.8 565.7,85.1 566.3,84.7" fill="none" stroke="#1a1a1a" stroke-width="0.8" stroke-linecap="round" stroke-linejoin="round"/>
<path d="M563.0,92.7 C563.2,92.2 563.8,90.7 564.2,89.7 C564.7,88.7 565.3,87.9 565.7,86.9 C566.1,85.9 566.5,84.3 566.6,83.8" fill="none" stroke="#1a1a1a" stroke-width="0.8" stroke-linecap="round" stroke-linejoin="round"/>
<path d="M564.2,89.7 C564.0,89.2 563.0,87.7 562.7,86.6 C562.4,85.5 562.5,83.7 562.5,83.1" fill="none" stroke="#1a1a1a" stroke-width="0.8" stroke-linecap="round" stroke-linejoin="round"/>
<path d="M566.5,83.4 C566.1,82.8 564.9,80.9 564.0,79.8 C563.1,78.6 562.1,77.5 561.1,76.4 C560.2,75.3 558.7,73.7 558.2,73.1" fill="none" stroke="#1a1a1a" stroke-width="0.8" stroke-linecap="round" stroke-linejoin="round"/>
<path d="M566.5,83.4 C566.9,82.8 568.0,81.2 568.6,80.0 C569.3,78.9 569.6,77.5 570.3,76.4 C571.0,75.3 572.3,73.8 572.7,73.3" fill="none" stroke="#1a1a1a" stroke-width="0.8" stroke-linecap="round" stroke-linejoin="round"/>
<path d="M568.8,74.1 C568.7,73.4 568.4,71.4 568.1,70.1 C567.9,68.8 567.6,67.4 567.3,66.1 C566.9,64.8 566.2,63.0 566.0,62.3" fill="none" stroke="#1a1a1a" stroke-width="0.8" stroke-linecap="round" stroke-linejoin="round"/>
<path d="M571.2,64.8 C571.0,64.3 570.4,62.6 570.1,61.5 C569.8,60.4 569.7,59.2 569.4,58.1 C569.0,57.0 568.3,55.3 568.1,54.8" fill="none" stroke="#1a1a1a" stroke-width="0.8" stroke-linecap="round" stroke-linejoin="round"/>
<path d="M571.2,64.8 C571.5,64.4 572.6,63.4 573.2,62.6 C573.9,61.8 574.4,60.9 575.0,60.1 C575.7,59.4 576.8,58.4 577.2,58.0" fill="none" stroke="#1a1a1a" stroke-width="0.8" stroke-linecap="round" stroke-linejoin="round"/>
<path d="M573.2,62.6 C573.0,61.9 572.1,60.1 572.0,58.8 C571.9,57.5 572.3,55.4 572.3,54.7" fill="none" stroke="#1a1a1a" stroke-width="0.8" stroke-linecap="round" stroke-linejoin="round"/>
<path d="M578.1,97.3 C577.6,96.9 576.1,95.5 575.0,94.8 C573.9,94.0 572.7,93.3 571.6,92.6 C570.4,92.0 568.6,91.0 568.0,90.7" fill="none" stroke="#1a1a1a" stroke-width="0.8" stroke-linecap="round" stroke-linejoin="round"/>
<path d="M581.6,88.0 C581.5,87.5 581.3,86.0 581.0,85.0 C580.7,84.1 580.3,83.1 579.8,82.2 C579.3,81.3 578.3,80.1 578.1,79.7" fill="none" stroke="#1a1a1a" stroke-width="0.8" stroke-linecap="round" stroke-linejoin="round"/>
<path d="M581.0,85.0 C581.3,84.4 581.8,82.2 582.7,81.0 C583.5,79.8 585.3,78.4 585.9,77.8" fill="none" stroke="#1a1a1a" stroke-width="0.8" stroke-linecap="round" stroke-linejoin="round"/>
<path d="M584.5,78.8 C583.8,78.1 581.9,76.1 580.4,75.0 C578.9,73.9 577.2,73.1 575.7,72.0 C574.3,70.8 572.5,68.6 571.8,68.0" fill="none" stroke="#1a1a1a" stroke-width="0.8" stroke-linecap="round" stroke-linejoin="round"/>
<path d="M584.5,78.8 C584.8,78.2 585.8,76.7 586.3,75.6 C586.9,74.5 587.4,73.4 587.9,72.3 C588.3,71.2 588.7,69.4 588.8,68.8" fill="none" stroke="#1a1a1a" stroke-width="0.8" stroke-linecap="round" stroke-linejoin="round"/>
<path d="M586.3,75.6 C586.2,75.2 585.5,73.9 585.4,73.0 C585.3,72.1 585.5,70.6 585.6,70.1" fill="none" stroke="#1a1a1a" stroke-width="0.8" stroke-linecap="round" stroke-linejoin="round"/>
<path d="M585.1,69.5 C585.4,69.1 586.3,67.8 587.0,67.1 C587.6,66.3 588.4,65.6 589.2,65.0 C590.0,64.4 591.3,63.6 591.7,63.3" fill="none" stroke="#1a1a1a" stroke-width="0.8" stroke-linecap="round" stroke-linejoin="round"/>
<path d="M587.0,67.1 C586.8,66.6 586.3,65.1 586.3,64.0 C586.2,63.0 586.7,61.4 586.8,60.8" fill="none" stroke="#1a1a1a" stroke-width="0.8" stroke-linecap="round" stroke-linejoin="round"/>
<path d="M583.9,66.0 C583.6,65.6 582.5,64.6 581.8,63.9 C581.2,63.1 580.8,62.1 580.2,61.3 C579.6,60.6 578.4,59.6 578.0,59.3" fill="none" stroke="#1a1a1a" stroke-width="0.8" stroke-linecap="round" stroke-linejoin="round"/>
<path d="M581.8,63.9 C582.2,63.3 583.1,61.5 584.1,60.6 C585.0,59.7 587.0,58.7 587.6,58.4" fill="none" stroke="#1a1a1a" stroke-width="0.8" stroke-linecap="round" stroke-linejoin="round"/>
<path d="M583.9,66.0 C584.1,65.6 584.8,64.5 585.1,63.7 C585.4,63.0 585.6,62.1 586.0,61.3 C586.3,60.6 587.0,59.5 587.2,59.1" fill="none" stroke="#1a1a1a" stroke-width="0.8" stroke-linecap="round" stroke-linejoin="round"/>
<path d="M567.7,138.0 C567.4,137.1 566.6,134.3 565.9,132.6 C565.2,130.9 564.1,129.2 563.4,127.5 C562.7,125.8 561.9,123.0 561.5,122.2" fill="none" stroke="#1a1a1a" stroke-width="0.9" stroke-linecap="round" stroke-linejoin="round"/>
<path d="M565.9,132.6 C566.0,132.3 566.1,131.4 566.4,130.9 C566.7,130.4 567.5,129.8 567.7,129.6" fill="none" stroke="#1a1a1a" stroke-width="0.8" stroke-linecap="round" stroke-linejoin="round"/>
<path d="M567.7,138.0 C568.3,137.5 570.2,136.3 571.3,135.2 C572.4,134.2 573.3,133.0 574.2,131.8 C575.1,130.5 576.2,128.6 576.6,127.9" fill="none" stroke="#1a1a1a" stroke-width="0.9" stroke-linecap="round" stroke-linejoin="round"/>
<path d="M571.3,135.2 C570.8,134.7 569.2,133.1 568.5,131.7 C567.8,130.4 567.4,128.0 567.2,127.2" fill="none" stroke="#1a1a1a" stroke-width="0.8" stroke-linecap="round" stroke-linejoin="round"/>
<path d="M573.5,134.5 C573.3,133.9 572.4,132.1 572.1,130.9 C571.7,129.7 571.8,128.4 571.4,127.2 C571.1,125.9 570.4,124.1 570.2,123.5" fill="none" stroke="#1a1a1a" stroke-width="0.9" stroke-linecap="round" stroke-linejoin="round"/>
<path d="M573.5,134.5 C574.0,133.8 575.7,132.0 576.8,130.7 C577.8,129.4 578.8,128.0 579.7,126.6 C580.6,125.2 581.9,123.0 582.3,122.3" fill="none" stroke="#1a1a1a" stroke-width="0.9" stroke-linecap="round" stroke-linejoin="round"/>
<path d="M576.8,130.7 C576.6,130.4 575.9,129.7 575.7,129.0 C575.4,128.4 575.3,127.4 575.3,127.0" fill="none" stroke="#1a1a1a" stroke-width="0.8" stroke-linecap="round" stroke-linejoin="round"/>
<path d="M577.0,131.0 C576.6,130.6 575.5,129.5 574.6,128.9 C573.7,128.3 572.7,127.9 571.8,127.4 C570.9,126.8 569.5,126.0 569.0,125.8" fill="none" stroke="#1a1a1a" stroke-width="0.9" stroke-linecap="round" stroke-linejoin="round"/>
<path d="M574.6,128.9 C575.0,128.3 576.2,126.5 577.3,125.6 C578.4,124.6 580.6,123.8 581.3,123.5" fill="none" stroke="#1a1a1a" stroke-width="0.8" stroke-linecap="round" stroke-linejoin="round"/>
<path d="M582.8,128.7 C582.6,128.2 582.2,127.0 582.0,126.1 C581.8,125.3 581.7,124.4 581.5,123.5 C581.3,122.6 581.0,121.3 580.9,120.9" fill="none" stroke="#1a1a1a" stroke-width="0.9" stroke-linecap="round" stroke-linejoin="round"/>
<path d="M582.0,126.1 C582.2,125.6 582.7,123.8 583.4,122.9 C584.1,121.9 585.6,120.7 586.1,120.3" fill="none" stroke="#1a1a1a" stroke-width="0.8" stroke-linecap="round" stroke-linejoin="round"/>
<path d="M582.8,128.7 C583.3,128.0 585.2,126.1 586.2,124.7 C587.2,123.2 587.8,121.5 588.8,120.1 C589.8,118.6 591.6,116.7 592.1,116.0" fill="none" stroke="#1a1a1a" stroke-width="0.9" stroke-linecap="round" stroke-linejoin="round"/>
<path d="M586.2,124.7 C586.0,124.2 585.1,123.1 584.9,122.2 C584.6,121.3 584.7,119.7 584.6,119.2" fill="none" stroke="#1a1a1a" stroke-width="0.8" stroke-linecap="round" stroke-linejoin="round"/>
<path d="M585.7,126.3 C585.4,125.9 584.8,124.4 584.2,123.5 C583.7,122.6 582.8,121.9 582.3,121.0 C581.7,120.1 581.1,118.6 580.9,118.1" fill="none" stroke="#1a1a1a" stroke-width="0.9" stroke-linecap="round" stroke-linejoin="round"/>
<path d="M584.2,123.5 C584.4,123.1 584.7,121.6 585.2,120.8 C585.8,120.0 587.0,119.0 587.3,118.6" fill="none" stroke="#1a1a1a" stroke-width="0.8" stroke-linecap="round" stroke-linejoin="round"/>
<path d="M583.9,124.6 C583.7,123.8 582.8,121.4 582.5,119.7 C582.2,118.0 582.5,116.2 582.2,114.5 C582.0,112.9 581.2,110.4 581.0,109.6" fill="none" stroke="#1a1a1a" stroke-width="0.9" stroke-linecap="round" stroke-linejoin="round"/>
<path d="M582.5,119.7 C582.9,119.1 583.9,117.2 584.9,116.3 C585.9,115.3 587.9,114.3 588.5,113.9" fill="none" stroke="#1a1a1a" stroke-width="0.8" stroke-linecap="round" stroke-linejoin="round"/>
<path d="M579.3,121.7 C579.1,121.3 578.2,120.2 577.9,119.4 C577.5,118.5 577.3,117.6 577.0,116.8 C576.7,115.9 576.4,114.6 576.3,114.1" fill="none" stroke="#1a1a1a" stroke-width="0.8" stroke-linecap="round" stroke-linejoin="round"/>
<path d="M579.3,121.7 C579.6,121.2 580.6,119.5 581.4,118.4 C582.1,117.4 582.9,116.3 583.9,115.4 C584.8,114.6 586.5,113.5 587.0,113.1" fill="none" stroke="#1a1a1a" stroke-width="0.8" stroke-linecap="round" stroke-linejoin="round"/>
<path d="M581.4,118.4 C581.1,117.9 580.0,116.4 579.7,115.3 C579.3,114.2 579.4,112.3 579.3,111.6" fill="none" stroke="#1a1a1a" stroke-width="0.8" stroke-linecap="round" stroke-linejoin="round"/>
<path d="M583.9,118.2 C583.7,117.8 582.9,116.6 582.4,115.9 C581.8,115.1 581.2,114.5 580.6,113.7 C580.0,113.0 579.1,111.9 578.8,111.5" fill="none" stroke="#1a1a1a" stroke-width="0.8" stroke-linecap="round" stroke-linejoin="round"/>
<path d="M583.9,118.2 C584.1,117.7 584.8,116.1 585.1,115.0 C585.4,113.9 585.6,112.7 585.7,111.6 C585.9,110.4 586.0,108.7 586.1,108.1" fill="none" stroke="#1a1a1a" stroke-width="0.8" stroke-linecap="round" stroke-linejoin="round"/>
<path d="M585.1,115.0 C584.8,114.5 583.7,113.2 583.2,112.2 C582.8,111.2 582.6,109.4 582.5,108.8" fill="none" stroke="#1a1a1a" stroke-width="0.8" stroke-linecap="round" stroke-linejoin="round"/>
<path d="M585.1,111.3 C584.9,110.7 584.4,108.9 584.1,107.7 C583.8,106.5 583.7,105.2 583.3,104.1 C583.0,102.9 582.1,101.2 581.9,100.7" fill="none" stroke="#1a1a1a" stroke-width="0.8" stroke-linecap="round" stroke-linejoin="round"/>
<path d="M584.1,107.7 C584.3,107.3 585.0,105.9 585.6,105.2 C586.3,104.5 587.7,103.7 588.1,103.4" fill="none" stroke="#1a1a1a" stroke-width="0.8" stroke-linecap="round" stroke-linejoin="round"/>
<path d="M585.1,111.3 C585.4,110.4 586.2,107.7 586.8,105.9 C587.4,104.1 588.1,102.4 588.7,100.6 C589.3,98.8 590.0,96.0 590.2,95.1" fill="none" stroke="#1a1a1a" stroke-width="0.8" stroke-linecap="round" stroke-linejoin="round"/>
<path d="M586.8,105.9 C586.4,105.3 584.7,103.5 584.1,102.1 C583.4,100.7 583.1,98.2 582.9,97.5" fill="none" stroke="#1a1a1a" stroke-width="0.8" stroke-linecap="round" stroke-linejoin="round"/>
<path d="M584.5,107.8 C584.1,107.1 583.1,104.8 582.2,103.5 C581.3,102.2 579.9,101.2 578.9,99.9 C577.9,98.6 576.8,96.5 576.4,95.8" fill="none" stroke="#1a1a1a" stroke-width="0.8" stroke-linecap="round" stroke-linejoin="round"/>
<path d="M582.2,103.5 C582.5,103.1 583.2,101.8 583.9,101.1 C584.6,100.4 586.0,99.7 586.4,99.5" fill="none" stroke="#1a1a1a" stroke-width="0.8" stroke-linecap="round" stroke-linejoin="round"/>
<path d="M541.0,102.0 C540.9,101.6 540.5,100.5 540.3,99.7 C540.1,98.9 539.8,98.2 539.7,97.4 C539.6,96.6 539.7,95.4 539.6,95.0" fill="none" stroke="#1a1a1a" stroke-width="0.8" stroke-linecap="round" stroke-linejoin="round"/>
<path d="M540.3,99.7 C540.5,99.3 541.0,98.0 541.7,97.2 C542.3,96.5 543.6,95.7 544.0,95.4" fill="none" stroke="#1a1a1a" stroke-width="0.8" stroke-linecap="round" stroke-linejoin="round"/>
<path d="M541.0,102.0 C541.2,101.4 541.6,99.8 542.1,98.8 C542.5,97.8 543.3,97.0 543.8,96.0 C544.3,95.0 544.7,93.4 544.9,92.9" fill="none" stroke="#1a1a1a" stroke-width="0.8" stroke-linecap="round" stroke-linejoin="round"/>
<path d="M542.1,98.8 C541.6,98.2 540.1,96.5 539.5,95.1 C538.9,93.7 538.7,91.2 538.5,90.5" fill="none" stroke="#1a1a1a" stroke-width="0.8" stroke-linecap="round" stroke-linejoin="round"/>
<path d="M542.1,92.7 C542.1,91.7 541.9,89.0 541.7,87.1 C541.6,85.2 541.6,83.3 541.3,81.5 C540.9,79.7 539.8,77.1 539.6,76.2" fill="none" stroke="#1a1a1a" stroke-width="0.8" stroke-linecap="round" stroke-linejoin="round"/>
<path d="M542.1,92.7 C542.7,92.2 544.5,90.8 545.6,89.8 C546.6,88.7 547.4,87.4 548.4,86.3 C549.5,85.3 551.2,83.8 551.8,83.3" fill="none" stroke="#1a1a1a" stroke-width="0.8" stroke-linecap="round" stroke-linejoin="round"/>
<path d="M545.6,89.8 C545.3,89.1 544.2,87.3 543.9,85.9 C543.6,84.5 543.9,82.3 543.9,81.5" fill="none" stroke="#1a1a1a" stroke-width="0.8" stroke-linecap="round" stroke-linejoin="round"/>
<path d="M544.5,82.2 C544.7,81.7 545.4,79.9 545.8,78.8 C546.2,77.6 546.7,76.4 546.9,75.2 C547.2,74.0 547.3,72.2 547.4,71.5" fill="none" stroke="#1a1a1a" stroke-width="0.8" stroke-linecap="round" stroke-linejoin="round"/>
<path d="M545.8,78.8 C545.4,78.2 544.0,76.4 543.5,75.1 C543.0,73.7 542.9,71.4 542.7,70.6" fill="none" stroke="#1a1a1a" stroke-width="0.8" stroke-linecap="round" stroke-linejoin="round"/>
<path d="M548.0,71.8 C547.4,71.2 545.6,69.5 544.5,68.2 C543.5,66.9 542.8,65.4 541.8,64.1 C540.7,62.8 538.8,61.2 538.3,60.6" fill="none" stroke="#1a1a1a" stroke-width="0.8" stroke-linecap="round" stroke-linejoin="round"/>
<path d="M544.5,68.2 C544.8,67.7 545.4,66.0 546.2,65.0 C546.9,64.1 548.5,63.0 549.0,62.6" fill="none" stroke="#1a1a1a" stroke-width="0.8" stroke-linecap="round" stroke-linejoin="round"/>
<path d="M548.0,71.8 C548.2,71.1 549.1,69.1 549.7,67.8 C550.4,66.5 551.2,65.3 551.8,64.0 C552.5,62.7 553.5,60.8 553.8,60.1" fill="none" stroke="#1a1a1a" stroke-width="0.8" stroke-linecap="round" stroke-linejoin="round"/>
<path d="M549.7,67.8 C549.6,67.2 549.0,65.5 549.0,64.4 C549.0,63.2 549.5,61.3 549.7,60.7" fill="none" stroke="#1a1a1a" stroke-width="0.8" stroke-linecap="round" stroke-linejoin="round"/>
<path d="M549.1,61.3 C548.9,60.5 548.4,58.1 548.0,56.5 C547.6,54.9 547.3,52.3 546.8,51.7 C546.2,51.0 545.1,52.4 544.8,52.6" fill="none" stroke="#1a1a1a" stroke-width="0.8" stroke-linecap="round" stroke-linejoin="round"/>
<path d="M548.0,56.5 C548.1,56.0 548.3,54.4 548.8,53.6 C549.2,52.8 550.3,51.8 550.7,51.5" fill="none" stroke="#1a1a1a" stroke-width="0.8" stroke-linecap="round" stroke-linejoin="round"/>
<path d="M549.1,61.3 C549.3,60.7 549.7,58.7 550.1,57.4 C550.5,56.0 551.1,54.2 551.3,53.5 C551.6,52.8 551.7,53.2 551.8,53.2" fill="none" stroke="#1a1a1a" stroke-width="0.8" stroke-linecap="round" stroke-linejoin="round"/>
<path d="M548.0,60.2 C547.7,59.5 546.9,57.7 546.6,56.3 C546.3,55.0 546.4,52.8 546.1,52.3 C545.9,51.8 545.2,53.3 545.0,53.5" fill="none" stroke="#1a1a1a" stroke-width="0.8" stroke-linecap="round" stroke-linejoin="round"/>
<path d="M548.0,60.2 C548.3,59.9 549.5,58.9 550.3,58.3 C551.1,57.7 551.8,57.0 552.6,56.4 C553.5,55.9 554.9,55.4 555.3,55.1" fill="none" stroke="#1a1a1a" stroke-width="0.8" stroke-linecap="round" stroke-linejoin="round"/>
<path d="M531.7,99.6 C531.0,99.0 528.9,97.2 527.5,96.0 C526.0,94.9 524.4,93.9 523.0,92.7 C521.6,91.5 519.7,89.5 519.0,88.9" fill="none" stroke="#1a1a1a" stroke-width="0.8" stroke-linecap="round" stroke-linejoin="round"/>
<path d="M527.5,96.0 C527.7,95.7 528.4,94.6 529.0,94.0 C529.6,93.4 530.9,92.9 531.3,92.7" fill="none" stroke="#1a1a1a" stroke-width="0.8" stroke-linecap="round" stroke-linejoin="round"/>
<path d="M532.9,90.4 C532.3,89.6 530.7,87.4 529.5,86.0 C528.3,84.6 527.0,83.3 525.7,82.0 C524.4,80.6 522.5,78.6 521.9,78.0" fill="none" stroke="#1a1a1a" stroke-width="0.8" stroke-linecap="round" stroke-linejoin="round"/>
<path d="M529.5,86.0 C529.6,85.6 529.7,84.4 530.0,83.7 C530.3,83.0 531.2,82.1 531.4,81.8" fill="none" stroke="#1a1a1a" stroke-width="0.8" stroke-linecap="round" stroke-linejoin="round"/>
<path d="M532.9,90.4 C533.5,89.9 535.4,88.6 536.6,87.5 C537.7,86.5 538.6,85.1 539.8,84.1 C540.9,83.0 542.8,81.6 543.4,81.1" fill="none" stroke="#1a1a1a" stroke-width="0.8" stroke-linecap="round" stroke-linejoin="round"/>
<path d="M536.6,87.5 C536.3,87.0 535.3,85.5 535.0,84.3 C534.7,83.1 534.7,81.2 534.7,80.6" fill="none" stroke="#1a1a1a" stroke-width="0.8" stroke-linecap="round" stroke-linejoin="round"/>
<path d="M536.3,81.1 C535.9,80.5 534.5,78.9 533.8,77.7 C533.0,76.5 532.7,75.1 531.9,73.9 C531.2,72.7 529.8,71.0 529.3,70.5" fill="none" stroke="#1a1a1a" stroke-width="0.8" stroke-linecap="round" stroke-linejoin="round"/>
<path d="M536.3,81.1 C536.6,80.3 537.3,77.8 538.0,76.2 C538.7,74.7 539.8,73.4 540.8,72.0 C541.7,70.6 543.2,68.5 543.7,67.8" fill="none" stroke="#1a1a1a" stroke-width="0.8" stroke-linecap="round" stroke-linejoin="round"/>
<path d="M538.0,76.2 C537.7,75.8 536.7,74.7 536.3,73.7 C536.0,72.8 535.8,71.2 535.7,70.6" fill="none" stroke="#1a1a1a" stroke-width="0.8" stroke-linecap="round" stroke-linejoin="round"/>
<path d="M538.7,71.8 C538.5,71.4 538.0,70.3 537.6,69.6 C537.1,68.8 536.6,68.2 536.2,67.5 C535.7,66.8 535.2,65.7 535.0,65.3" fill="none" stroke="#1a1a1a" stroke-width="0.8" stroke-linecap="round" stroke-linejoin="round"/>
<path d="M538.7,71.8 C538.9,71.3 539.5,69.7 539.8,68.6 C540.0,67.5 540.1,66.3 540.1,65.2 C540.1,64.0 539.9,62.3 539.9,61.8" fill="none" stroke="#1a1a1a" stroke-width="0.8" stroke-linecap="round" stroke-linejoin="round"/>
<path d="M539.8,62.5 C539.2,61.8 537.6,59.6 536.4,58.3 C535.1,57.0 533.6,55.8 532.4,54.6 C531.1,53.5 529.3,52.0 528.7,51.5" fill="none" stroke="#1a1a1a" stroke-width="0.8" stroke-linecap="round" stroke-linejoin="round"/>
<path d="M536.4,58.3 C536.5,58.0 536.7,57.0 537.1,56.4 C537.5,55.8 538.4,55.1 538.6,54.9" fill="none" stroke="#1a1a1a" stroke-width="0.8" stroke-linecap="round" stroke-linejoin="round"/>
<path d="M539.8,62.5 C540.1,61.8 541.1,59.9 541.5,58.5 C542.0,57.1 542.2,55.3 542.7,54.3 C543.1,53.3 543.8,52.9 544.0,52.6" fill="none" stroke="#1a1a1a" stroke-width="0.8" stroke-linecap="round" stroke-linejoin="round"/>
<path d="M541.5,58.5 C541.3,58.2 540.4,57.3 540.0,56.6 C539.7,55.9 539.5,54.5 539.3,54.1" fill="none" stroke="#1a1a1a" stroke-width="0.8" stroke-linecap="round" stroke-linejoin="round"/>
<path d="M539.2,54.4 C539.2,54.2 538.9,53.7 538.7,53.3 C538.5,52.9 538.4,52.1 538.0,52.1 C537.6,52.0 536.5,52.8 536.2,53.0" fill="none" stroke="#1a1a1a" stroke-width="0.8" stroke-linecap="round" stroke-linejoin="round"/>
<path d="M538.7,53.3 C539.0,52.7 539.4,50.2 540.1,49.9 C540.7,49.6 542.2,51.2 542.7,51.5" fill="none" stroke="#1a1a1a" stroke-width="0.8" stroke-linecap="round" stroke-linejoin="round"/>
<path d="M539.2,54.4 C539.7,54.2 541.2,53.8 542.0,53.6 C542.7,53.3 543.2,53.0 543.7,52.7 C544.3,52.5 545.0,52.1 545.2,52.0" fill="none" stroke="#1a1a1a" stroke-width="0.8" stroke-linecap="round" stroke-linejoin="round"/>
<path d="M542.0,53.6 C541.8,53.3 541.2,52.4 541.0,52.1 C540.8,51.7 540.7,51.6 540.6,51.5" fill="none" stroke="#1a1a1a" stroke-width="0.8" stroke-linecap="round" stroke-linejoin="round"/>
<path d="M560.7,118.2 C560.4,117.9 559.3,117.0 558.6,116.4 C557.9,115.8 557.2,115.1 556.5,114.5 C555.8,113.8 554.8,112.9 554.5,112.5" fill="none" stroke="#1a1a1a" stroke-width="0.8" stroke-linecap="round" stroke-linejoin="round"/>
<path d="M558.4,122.9 C558.1,122.4 557.0,121.1 556.4,120.1 C555.8,119.2 555.4,118.1 555.0,117.1 C554.6,116.0 554.2,114.4 554.0,113.9" fill="none" stroke="#1a1a1a" stroke-width="0.8" stroke-linecap="round" stroke-linejoin="round"/>
<path d="M558.4,122.9 C558.9,122.2 560.3,120.2 561.4,119.0 C562.5,117.7 563.7,116.6 564.8,115.5 C566.0,114.3 567.6,112.5 568.2,111.9" fill="none" stroke="#1a1a1a" stroke-width="0.8" stroke-linecap="round" stroke-linejoin="round"/>
<path d="M561.4,119.0 C561.3,118.6 560.8,117.4 560.8,116.6 C560.7,115.8 561.1,114.6 561.1,114.1" fill="none" stroke="#1a1a1a" stroke-width="0.8" stroke-linecap="round" stroke-linejoin="round"/>
<path d="M539.8,146 C541,152 533,156 532.6,164.4 C532.6,169.5 536,172.3 539.2,173.5 L539.2,198 C538.6,205 540,211 543.5,217" fill="none" stroke="#1a1a1a" stroke-width="1.1"/>
<path d="M538.4,146 C538.6,151 536.8,154.6 535.2,157.6 C531.4,160.6 531.6,168 535.6,170.6 C537.2,171.8 538.6,173 539.3,175 C540.4,173 541.8,171.8 543.6,170.6 C548,168 548.2,160.6 544.4,157.6 C542.6,154.6 541.4,151 541.4,146 Z" fill="#1a1a1a"/>
<circle cx="539.8" cy="164.2" r="7.3" fill="#1a1a1a"/>
<path d="M493.4,218.4 C491.8,217.7 486.6,215.7 484.1,214.3 C481.6,212.8 480.0,211.0 478.3,209.6 C476.6,208.3 475.6,207.4 473.7,206.2 C471.7,204.9 468.6,202.8 466.7,202.1 C464.8,201.4 462.8,202.1 462.1,202.1" fill="none" stroke="#1a1a1a" stroke-width="1.4" stroke-linecap="round" stroke-linejoin="round"/>
<path d="M478.3,209.6 C477.9,208.1 476.9,203.3 476.0,200.4 C475.1,197.5 473.6,193.6 473.1,192.2" fill="none" stroke="#1a1a1a" stroke-width="1.1" stroke-linecap="round" stroke-linejoin="round"/>
<path d="M491.1,215.4 C490.3,214.1 487.5,210.0 486.4,207.3 C485.4,204.6 484.6,201.4 484.7,199.2 C484.8,197.0 486.6,194.8 487.0,194.0" fill="none" stroke="#1a1a1a" stroke-width="1.2" stroke-linecap="round" stroke-linejoin="round"/>
<path d="M484.7,199.2 L482.4,196.9" fill="none" stroke="#1a1a1a" stroke-width="1.0" stroke-linecap="round" stroke-linejoin="round"/>
<path d="M487.6,203.3 C488.8,203.3 492.4,202.4 494.6,203.3 C496.7,204.1 499.0,207.2 500.4,208.5 C501.7,209.7 502.3,210.4 502.7,210.8" fill="none" stroke="#1a1a1a" stroke-width="1.1" stroke-linecap="round" stroke-linejoin="round"/>
<path d="M498.0,216.6 C498.9,215.3 502.9,211.4 503.3,208.5 C503.6,205.6 501.4,201.8 500.4,199.2 C499.3,196.6 497.5,193.9 496.9,192.8" fill="none" stroke="#1a1a1a" stroke-width="1.2" stroke-linecap="round" stroke-linejoin="round"/>
<path d="M488.8,220.1 C487.6,220.1 483.9,220.0 481.8,220.1 C479.7,220.2 477.0,220.6 476.0,220.7" fill="none" stroke="#1a1a1a" stroke-width="1.2" stroke-linecap="round" stroke-linejoin="round"/>
<path d="M480.6,220.1 L478.3,223.0" fill="none" stroke="#1a1a1a" stroke-width="0.9" stroke-linecap="round" stroke-linejoin="round"/>
<path d="M489.9,222.4 C489.3,223.8 488.2,228.4 486.4,230.5 C484.7,232.7 480.6,234.4 479.5,235.2" fill="none" stroke="#1a1a1a" stroke-width="1.2" stroke-linecap="round" stroke-linejoin="round"/>
<path d="M492.2,223.6 C491.8,225.1 490.2,229.8 489.9,232.9 C489.6,236.0 490.4,240.6 490.5,242.1" fill="none" stroke="#1a1a1a" stroke-width="1.2" stroke-linecap="round" stroke-linejoin="round"/>
<path d="M496.9,223.0 C497.5,224.6 500.2,229.7 500.4,232.9 C500.6,236.1 498.8,240.0 498.0,242.1 C497.3,244.3 496.1,245.0 495.7,245.6" fill="none" stroke="#1a1a1a" stroke-width="1.2" stroke-linecap="round" stroke-linejoin="round"/>
<path d="M498.0,242.1 L499.4,246.2" fill="none" stroke="#1a1a1a" stroke-width="1.0" stroke-linecap="round" stroke-linejoin="round"/>
<path d="M499.8,236.3 L502.1,238.7" fill="none" stroke="#1a1a1a" stroke-width="0.9" stroke-linecap="round" stroke-linejoin="round"/>
<path d="M498.0,220.1 C499.2,220.1 502.7,220.1 505.0,220.1 C507.3,220.1 510.8,220.1 512.0,220.1" fill="none" stroke="#1a1a1a" stroke-width="1.2" stroke-linecap="round" stroke-linejoin="round"/>
<path d="M514.3,216.6 C513.5,215.4 510.4,212.4 509.6,209.6 C508.9,206.9 509.1,202.9 509.6,200.4 C510.2,197.8 512.5,195.5 513.1,194.6" fill="none" stroke="#1a1a1a" stroke-width="1.2" stroke-linecap="round" stroke-linejoin="round"/>
<path d="M509.6,200.4 L506.7,198.6" fill="none" stroke="#1a1a1a" stroke-width="1.0" stroke-linecap="round" stroke-linejoin="round"/>
<path d="M520.1,215.4 C520.8,214.5 524.3,211.1 524.2,209.6 C524.0,208.2 520.6,207.3 518.9,206.7 C517.3,206.2 515.1,206.3 514.3,206.2" fill="none" stroke="#1a1a1a" stroke-width="1.1" stroke-linecap="round" stroke-linejoin="round"/>
<path d="M512.0,221.3 C511.0,221.5 507.7,222.6 506.2,223.0 C504.6,223.4 503.2,222.9 502.7,223.6 C502.2,224.3 503.2,226.5 503.3,227.1" fill="none" stroke="#1a1a1a" stroke-width="1.2" stroke-linecap="round" stroke-linejoin="round"/>
<path d="M515.4,223.6 C514.7,224.9 512.7,229.7 510.8,231.7 C508.9,233.7 505.0,235.1 503.8,235.8" fill="none" stroke="#1a1a1a" stroke-width="1.2" stroke-linecap="round" stroke-linejoin="round"/>
<path d="M517.2,224.2 C516.7,225.6 514.6,229.7 514.3,232.9 C514.0,236.1 515.3,241.6 515.4,243.3" fill="none" stroke="#1a1a1a" stroke-width="1.2" stroke-linecap="round" stroke-linejoin="round"/>
<path d="M521.3,223.6 C521.8,225.1 524.3,229.6 524.7,232.9 C525.1,236.2 524.2,241.0 523.6,243.3 C523.0,245.6 521.6,246.2 521.3,246.8" fill="none" stroke="#1a1a1a" stroke-width="1.2" stroke-linecap="round" stroke-linejoin="round"/>
<path d="M523.6,243.3 L525.0,247.4" fill="none" stroke="#1a1a1a" stroke-width="1.0" stroke-linecap="round" stroke-linejoin="round"/>
<path d="M525.3,237.5 L527.3,239.8" fill="none" stroke="#1a1a1a" stroke-width="0.9" stroke-linecap="round" stroke-linejoin="round"/>
<path d="M522.4,221.3 C523.8,221.5 527.8,222.7 530.5,223.0 C533.2,223.3 537.3,223.0 538.7,223.0" fill="none" stroke="#1a1a1a" stroke-width="1.2" stroke-linecap="round" stroke-linejoin="round"/>
<path d="M541.0,220.1 C540.2,218.7 537.3,214.9 536.3,212.0 C535.4,209.1 534.8,205.0 535.2,202.7 C535.6,200.4 538.1,200.4 538.7,198.0 C539.2,195.7 538.7,190.3 538.7,188.8" fill="none" stroke="#1a1a1a" stroke-width="1.1" stroke-linecap="round" stroke-linejoin="round"/>
<path d="M535.2,202.7 L533.4,203.3" fill="none" stroke="#1a1a1a" stroke-width="0.9" stroke-linecap="round" stroke-linejoin="round"/>
<path d="M548.0,220.1 C548.7,219.3 551.4,217.0 552.6,215.4 C553.8,213.9 554.5,211.6 554.9,210.8" fill="none" stroke="#1a1a1a" stroke-width="1.2" stroke-linecap="round" stroke-linejoin="round"/>
<path d="M552.6,215.4 L551.4,209.6" fill="none" stroke="#1a1a1a" stroke-width="1.0" stroke-linecap="round" stroke-linejoin="round"/>
<path d="M550.3,224.7 C551.8,225.0 556.9,226.1 559.6,226.5 C562.3,226.9 565.4,227.0 566.5,227.1" fill="none" stroke="#1a1a1a" stroke-width="1.3" stroke-linecap="round" stroke-linejoin="round"/>
<path d="M563.0,226.8 L567.1,232.9" fill="none" stroke="#1a1a1a" stroke-width="1.0" stroke-linecap="round" stroke-linejoin="round"/>
<path d="M556.1,225.9 L554.9,230.5" fill="none" stroke="#1a1a1a" stroke-width="0.9" stroke-linecap="round" stroke-linejoin="round"/>
<path d="M539.8,223.6 C538.3,223.6 532.7,223.4 530.5,223.6 C528.4,223.8 527.4,224.0 527.1,224.7 C526.7,225.5 528.0,227.6 528.2,228.2" fill="none" stroke="#1a1a1a" stroke-width="1.1" stroke-linecap="round" stroke-linejoin="round"/>
<path d="M542.1,227.1 C541.4,228.4 539.4,233.1 537.5,235.2 C535.6,237.3 531.7,239.1 530.5,239.8" fill="none" stroke="#1a1a1a" stroke-width="1.2" stroke-linecap="round" stroke-linejoin="round"/>
<path d="M535.2,229.4 L534.6,236.3" fill="none" stroke="#1a1a1a" stroke-width="0.9" stroke-linecap="round" stroke-linejoin="round"/>
<path d="M544.5,228.2 C544.1,229.8 542.4,234.4 542.1,237.5 C541.9,240.6 542.6,245.2 542.7,246.8" fill="none" stroke="#1a1a1a" stroke-width="1.2" stroke-linecap="round" stroke-linejoin="round"/>
<path d="M548.0,227.6 C548.5,229.3 551.0,234.3 551.4,237.5 C551.8,240.7 550.9,244.8 550.3,246.8 C549.6,248.8 547.9,249.2 547.4,249.7" fill="none" stroke="#1a1a1a" stroke-width="1.2" stroke-linecap="round" stroke-linejoin="round"/>
<path d="M550.3,246.8 L551.1,250.3" fill="none" stroke="#1a1a1a" stroke-width="1.0" stroke-linecap="round" stroke-linejoin="round"/>
<path d="M552.0,241.0 L553.8,242.7" fill="none" stroke="#1a1a1a" stroke-width="0.9" stroke-linecap="round" stroke-linejoin="round"/>
<ellipse cx="493.4" cy="218.4" rx="5.4" ry="4.2" fill="#1a1a1a"/>
<ellipse cx="517.2" cy="219.5" rx="5.4" ry="4.2" fill="#1a1a1a"/>
<ellipse cx="544.5" cy="223.0" rx="5.4" ry="4.2" fill="#1a1a1a"/>
<path d="M488.2,46.3 C489,38.5 510,34.6 528.8,34.6 C548,34.6 569,38.5 569.4,46.3 C569.4,48.6 488.2,48.6 488.2,46.3 Z" fill="#1a1a1a"/>
<rect x="524.0" y="46" width="8.6" height="173.5" rx="1.5" fill="#1a1a1a"/>
<rect x="526.6" y="47.5" width="3.4" height="170.2" fill="#c9282d"/>
<ellipse cx="530.5" cy="146.4" rx="106.8" ry="113.6" fill="none" stroke="#c9282d" stroke-width="3"/>
</g>
<g transform="translate(824.6,-7.5)">
<path d="M344.9,150.9 C342.1,151.8 333.7,154.2 328.0,156.1 C322.3,158.0 316.6,160.6 310.6,162.5 C304.6,164.4 296.4,166.1 292.1,167.7 C287.8,169.3 286.6,170.5 284.8,172.3 C283.1,174.1 282.0,176.6 281.6,178.5 C281.2,180.4 281.4,182.2 282.3,184.0 C283.2,185.8 285.2,187.9 287.0,189.5 C288.8,191.1 289.6,191.7 293.2,193.8 C296.8,195.9 302.9,199.3 308.3,202.0 C313.7,204.7 320.9,207.8 325.7,210.1 C330.5,212.4 334.2,213.8 337.3,215.9 C340.4,218.0 342.0,219.8 344.3,222.9 C346.6,226.0 348.9,231.0 351.2,234.5 C353.5,238.0 355.5,241.1 358.2,243.8 C360.9,246.5 365.9,249.6 367.5,250.8" fill="none" stroke="#1a1a1a" stroke-width="1.2" stroke-linecap="round" stroke-linejoin="round"/>
<path d="M305.4,138.1 L310,163 M313,143.3 L310.4,162 M315.3,144.5 L311,158.5 M304.2,210.7 L310.6,186.3 M310,206 L310.6,187 M314.1,201.4 L311,190" fill="none" stroke="#1a1a1a" stroke-width="0.9" stroke-linecap="round"/>
<path d="M360.5,140.5 C364,136 369,134.4 377,134.4 L391.9,134.6 C398,135 402,137 403.5,139.3 C406,142 406.8,144 406.4,145.1 C405,148 403,150 401.2,150.9 C397,153 392,154.5 387.2,155 L393,156.7 L388.4,159 L396,160.4 L391.9,163.7" fill="none" stroke="#1a1a1a" stroke-width="1.2" stroke-linecap="round" stroke-linejoin="round"/>
<path d="M390.7,185.7 C392.4,184.9 397.7,181.3 401.2,181.1 C404.7,180.9 409.5,183.0 411.6,184.6 C413.7,186.2 414.3,188.1 413.9,190.4 C413.5,192.7 412.0,196.3 409.3,198.5 C406.6,200.7 401.9,202.8 397.7,203.7 C393.4,204.6 387.0,203.4 383.8,203.7 C380.6,204.0 378.7,204.4 378.5,205.5 C378.3,206.6 381.9,209.3 382.6,210.1" fill="none" stroke="#1a1a1a" stroke-width="1.2" stroke-linecap="round" stroke-linejoin="round"/>
<path d="M426.1,197.9 C427.2,198.0 430.7,197.6 432.5,198.5 C434.3,199.4 436.3,202.3 437.1,203.1" fill="none" stroke="#1a1a1a" stroke-width="1.2" stroke-linecap="round" stroke-linejoin="round"/>
<circle cx="340.2" cy="180.5" r="6.4" fill="#1a1a1a"/><circle cx="339.3" cy="179.2" r="1.3" fill="#666"/>
<polygon points="344.3,148 351.3,146.8 365.2,185.1 354.2,186.6" fill="#9b9ba3" stroke="#222" stroke-width="0.8"/>
<polygon points="348,86.1 359.4,111.3 360.4,142 365.4,185 360.8,185.7 351.4,147.5" fill="#9b9ba3" stroke="#222" stroke-width="0.8" stroke-linejoin="round"/>
<path d="M348.2,152.3 l2.6,3 M350.8,152.3 l-2.6,3 M354.6,177.8 l2.6,3 M357.2,177.8 l-2.6,3" stroke="#222" stroke-width="0.7" fill="none"/>
<rect x="368.9" y="142" width="4.6" height="28.8" rx="1" fill="#c9282d" stroke="#8e1c20" stroke-width="0.6"/>
<polygon points="357.1,47.2 366.1,43.1 375.4,67.1 377,139.7 368.7,144.9" fill="#1a1a1a"/>
<ellipse cx="379.7" cy="172.4" rx="14.8" ry="15.7" fill="none" stroke="#c9282d" stroke-width="2.6"/>
<path d="M372.1,156.7 L440.6,85.6 M374.5,186.9 L478,245.4" fill="none" stroke="#c9282d" stroke-width="3" stroke-linecap="butt"/>
<path d="M460.9,66.0 L544.5,49.2 M485.3,60.2 L524.7,55.0 M468.4,82.2 L579.3,73.5 M492.2,95.6 L579.3,89.8 M479.5,109.5 L580.5,108.9 M472.5,117.1 L573.5,124.0 M481.2,135.6 L574.7,146.7 M484.7,56.7 Q487.4,117.5 488.2,167.3 M477.2,168.5 L497.7,167.6 M488.2,167.3 L494.2,163.3 M489.2,167.3 L489.2,174.3 L482.7,176.3 M494.6,53.2 Q499.5,124.3 502.1,182.4 M491.1,183.6 L511.6,182.7 M502.1,182.4 L508.1,178.4 M503.1,182.4 L503.1,189.4 L496.6,191.4 M514.3,95.0 Q517.0,131.2 517.8,160.9 M506.8,162.1 L527.3,161.2 M517.8,160.9 L523.8,156.9 M518.8,160.9 L518.8,167.9 L512.3,169.9 M542.2,111.0 Q545.5,154.4 546.8,189.9 M535.8,191.1 L556.3,190.2 M546.8,189.9 L552.8,185.9 M547.8,189.9 L547.8,196.9 L541.3,198.9 M557.2,76.4 Q560.6,134.7 561.9,182.4 M550.9,183.6 L571.4,182.7 M561.9,182.4 L567.9,178.4 M562.9,182.4 L562.9,189.4 L556.4,191.4 M571.2,68.3 Q573.9,122.1 574.6,166.1 M563.6,167.3 L584.1,166.4 M574.6,166.1 L580.6,162.1 M575.6,166.1 L575.6,173.1 L569.1,175.1 " fill="none" stroke="#dc4a3f" stroke-width="1.1" stroke-linecap="round"/>
<circle cx="488.2" cy="167.3" r="1.3" fill="#dc4a3f"/>
<circle cx="502.1" cy="182.4" r="1.3" fill="#dc4a3f"/>
<circle cx="517.8" cy="160.9" r="1.3" fill="#dc4a3f"/>
<circle cx="546.8" cy="189.9" r="1.3" fill="#dc4a3f"/>
<circle cx="561.9" cy="182.4" r="1.3" fill="#dc4a3f"/>
<circle cx="574.6" cy="166.1" r="1.3" fill="#dc4a3f"/>
<path d="M539.8,147.2 C539.8,146.1 539.8,142.4 539.6,140.3 C539.4,138.1 539.1,136.4 538.7,134.5 C538.2,132.5 537.2,129.6 536.9,128.7" fill="none" stroke="#1a1a1a" stroke-width="3.0" stroke-linecap="round" stroke-linejoin="round"/>
<path d="M538.7,134.5 C538.0,133.1 536.0,129.1 534.6,126.3 C533.2,123.6 532.0,120.9 530.5,118.2 C529.1,115.5 527.4,112.4 525.9,110.1 C524.3,107.8 522.8,106.8 521.3,104.3 C519.7,101.8 518.0,98.3 516.6,95.0 C515.3,91.7 514.1,88.0 513.1,84.6 C512.2,81.1 511.4,77.4 510.8,74.1 C510.2,70.8 509.7,68.1 509.6,64.8 C509.5,61.5 510.1,56.1 510.2,54.4" fill="none" stroke="#1a1a1a" stroke-width="2.0" stroke-linecap="round" stroke-linejoin="round"/>
<path d="M538.7,134.5 C539.4,133.1 541.8,129.1 543.3,126.3 C544.9,123.6 546.5,121.1 548.0,118.2 C549.4,115.3 550.7,112.0 552.0,108.9 C553.4,105.8 555.0,103.1 556.1,99.6 C557.1,96.2 557.8,91.9 558.4,88.0 C559.0,84.2 559.0,79.9 559.6,76.4 C560.1,72.9 560.9,69.9 561.9,67.1 C562.8,64.4 564.8,61.3 565.4,60.2" fill="none" stroke="#1a1a1a" stroke-width="2.0" stroke-linecap="round" stroke-linejoin="round"/>
<path d="M538.1,144.3 C537.2,144.1 534.5,143.1 532.9,143.2 C531.2,143.3 530.2,144.7 528.2,144.9 C526.3,145.1 523.6,144.6 521.3,144.3 C518.9,144.0 516.2,143.9 514.3,143.2 C512.4,142.5 511.2,141.5 509.6,140.3 C508.1,139.0 506.3,137.4 505.0,135.6 C503.7,133.9 503.1,132.1 502.1,129.8 C501.1,127.5 500.3,124.6 499.2,121.7 C498.1,118.8 497.1,115.1 495.7,112.4 C494.4,109.7 492.7,108.0 491.1,105.4 C489.4,102.9 487.6,100.2 485.9,97.3 C484.1,94.4 482.1,90.7 480.6,88.0 C479.2,85.3 478.1,83.0 477.1,81.1 C476.2,79.1 475.2,77.2 474.8,76.4" fill="none" stroke="#1a1a1a" stroke-width="2.6" stroke-linecap="round" stroke-linejoin="round"/>
<path d="M505.0,135.6 C505.6,134.1 507.7,129.2 508.5,126.3 C509.3,123.4 510.0,120.9 509.6,118.2 C509.3,115.5 507.5,112.8 506.2,110.1 C504.8,107.4 503.1,104.9 501.5,102.0 C500.0,99.1 498.4,96.0 496.9,92.7 C495.3,89.4 493.6,85.7 492.2,82.2 C490.9,78.8 489.9,75.3 488.8,71.8 C487.6,68.3 486.3,64.6 485.3,61.3 C484.2,58.1 482.9,53.6 482.4,52.1" fill="none" stroke="#1a1a1a" stroke-width="2.0" stroke-linecap="round" stroke-linejoin="round"/>
<path d="M509.6,118.2 C510.4,117.1 513.1,113.6 514.3,111.3 C515.4,108.9 516.6,106.6 516.6,104.3 C516.6,102.0 515.4,100.0 514.3,97.3 C513.1,94.6 511.0,91.1 509.6,88.0 C508.3,84.9 507.2,82.0 506.2,78.8 C505.1,75.5 504.0,71.4 503.3,68.3 C502.5,65.2 501.8,61.5 501.5,60.2" fill="none" stroke="#1a1a1a" stroke-width="1.6" stroke-linecap="round" stroke-linejoin="round"/>
<path d="M495.7,112.4 C495.1,110.7 493.2,104.1 492.2,102.0 C491.3,99.8 490.1,100.4 489.9,99.6 C489.7,98.9 490.3,98.1 491.1,97.3 C491.8,96.6 494.0,95.4 494.6,95.0" fill="none" stroke="#1a1a1a" stroke-width="1.2" stroke-linecap="round" stroke-linejoin="round"/>
<path d="M485.9,97.3 C485.0,96.9 482.1,96.2 480.6,95.0 C479.2,93.8 478.0,92.1 477.1,90.4 C476.3,88.6 475.7,85.5 475.4,84.6" fill="none" stroke="#1a1a1a" stroke-width="1.2" stroke-linecap="round" stroke-linejoin="round"/>
<path d="M541.0,143.2 C542.0,142.7 545.0,141.1 546.8,140.3 C548.5,139.4 549.1,138.9 551.4,138.0 C553.8,137.0 558.2,136.0 560.7,134.5 C563.2,132.9 564.4,131.6 566.5,128.7 C568.7,125.8 571.4,120.3 573.5,117.1 C575.6,113.8 577.7,111.1 579.3,108.9 C580.8,106.8 581.6,106.0 582.8,104.3 C583.9,102.5 585.3,100.0 586.3,98.5 C587.2,96.9 587.0,95.8 588.6,95.0 C590.1,94.2 594.4,94.0 595.5,93.8" fill="none" stroke="#1a1a1a" stroke-width="2.4" stroke-linecap="round" stroke-linejoin="round"/>
<path d="M566.5,128.7 C566.3,127.1 566.1,122.3 565.4,119.4 C564.6,116.5 562.7,114.2 561.9,111.3 C561.1,108.4 560.5,105.1 560.7,102.0 C560.9,98.9 562.1,95.8 563.0,92.7 C564.0,89.6 565.6,86.5 566.5,83.4 C567.5,80.3 568.1,77.2 568.8,74.1 C569.6,71.0 570.8,66.4 571.2,64.8" fill="none" stroke="#1a1a1a" stroke-width="1.6" stroke-linecap="round" stroke-linejoin="round"/>
<path d="M573.5,117.1 C573.7,115.3 573.9,109.9 574.6,106.6 C575.4,103.3 577.0,100.4 578.1,97.3 C579.3,94.2 580.5,91.1 581.6,88.0 C582.7,84.9 583.9,81.8 584.5,78.8 C585.1,75.7 585.2,71.6 585.1,69.5 C585.0,67.3 584.1,66.6 583.9,66.0" fill="none" stroke="#1a1a1a" stroke-width="1.6" stroke-linecap="round" stroke-linejoin="round"/>
<path d="M551.4,140.3 C552.4,140.8 555.5,142.8 557.2,143.2 C559.0,143.6 560.1,143.5 561.9,142.6 C563.6,141.7 565.7,139.3 567.7,138.0 C569.6,136.6 571.9,135.6 573.5,134.5 C575.0,133.3 575.4,132.0 577.0,131.0 C578.5,130.0 581.3,129.4 582.8,128.7 C584.2,127.9 585.5,127.0 585.7,126.3 C585.9,125.7 584.2,124.9 583.9,124.6" fill="none" stroke="#1a1a1a" stroke-width="1.8" stroke-linecap="round" stroke-linejoin="round"/>
<path d="M567.7,138.0 C567.9,138.8 569.0,142.0 568.8,143.2 C568.7,144.3 566.9,144.6 566.5,144.9" fill="none" stroke="#1a1a1a" stroke-width="1.0" stroke-linecap="round" stroke-linejoin="round"/>
<path d="M577.0,131.0 C576.8,130.0 575.4,126.7 575.8,125.2 C576.2,123.6 577.9,122.9 579.3,121.7 C580.6,120.5 583.0,120.0 583.9,118.2 C584.9,116.5 585.0,113.0 585.1,111.3 C585.2,109.5 584.6,108.4 584.5,107.8" fill="none" stroke="#1a1a1a" stroke-width="1.2" stroke-linecap="round" stroke-linejoin="round"/>
<path d="M548.0,118.2 C547.4,117.1 545.6,114.0 544.5,111.3 C543.3,108.5 541.4,105.1 541.0,102.0 C540.6,98.9 541.6,96.0 542.1,92.7 C542.7,89.4 543.5,85.7 544.5,82.2 C545.4,78.8 547.2,75.3 548.0,71.8 C548.7,68.3 549.1,63.3 549.1,61.3 C549.1,59.4 548.1,60.4 548.0,60.2" fill="none" stroke="#1a1a1a" stroke-width="1.6" stroke-linecap="round" stroke-linejoin="round"/>
<path d="M530.5,118.2 C530.9,116.9 532.7,113.2 532.9,110.1 C533.1,107.0 531.7,102.9 531.7,99.6 C531.7,96.4 532.1,93.5 532.9,90.4 C533.6,87.3 535.4,84.2 536.3,81.1 C537.3,78.0 538.1,74.9 538.7,71.8 C539.2,68.7 539.7,65.4 539.8,62.5 C539.9,59.6 539.3,55.7 539.2,54.4" fill="none" stroke="#1a1a1a" stroke-width="1.4" stroke-linecap="round" stroke-linejoin="round"/>
<path d="M552.0,108.9 C552.7,109.3 554.6,109.7 556.1,111.3 C557.5,112.8 560.3,116.3 560.7,118.2 C561.1,120.2 558.8,122.1 558.4,122.9" fill="none" stroke="#1a1a1a" stroke-width="1.0" stroke-linecap="round" stroke-linejoin="round"/>
<path d="M530.5,118.2 C530.1,117.6 529.0,115.6 528.2,114.3 C527.4,113.0 526.7,111.6 525.9,110.3 C525.1,109.0 523.8,107.1 523.4,106.5" fill="none" stroke="#1a1a1a" stroke-width="1.0" stroke-linecap="round" stroke-linejoin="round"/>
<path d="M528.2,114.3 C528.3,114.0 528.6,113.1 529.0,112.6 C529.4,112.1 530.2,111.6 530.4,111.3" fill="none" stroke="#1a1a1a" stroke-width="0.8" stroke-linecap="round" stroke-linejoin="round"/>
<path d="M530.5,118.2 C530.6,117.8 530.9,116.5 531.2,115.7 C531.5,114.8 532.0,114.1 532.2,113.2 C532.5,112.4 532.7,111.1 532.8,110.7" fill="none" stroke="#1a1a1a" stroke-width="1.0" stroke-linecap="round" stroke-linejoin="round"/>
<path d="M531.2,115.7 C530.8,115.0 529.4,113.2 529.0,111.7 C528.5,110.3 528.5,107.9 528.4,107.1" fill="none" stroke="#1a1a1a" stroke-width="0.8" stroke-linecap="round" stroke-linejoin="round"/>
<path d="M525.9,110.1 C525.3,109.3 523.4,107.2 522.3,105.6 C521.3,104.0 520.6,102.2 519.6,100.6 C518.6,99.0 516.9,96.7 516.4,95.9" fill="none" stroke="#1a1a1a" stroke-width="1.0" stroke-linecap="round" stroke-linejoin="round"/>
<path d="M522.3,105.6 C522.4,105.2 522.6,103.9 523.0,103.1 C523.4,102.3 524.4,101.3 524.7,100.9" fill="none" stroke="#1a1a1a" stroke-width="0.8" stroke-linecap="round" stroke-linejoin="round"/>
<path d="M521.3,104.3 C520.8,103.7 519.5,101.8 518.7,100.5 C517.8,99.3 517.1,97.9 516.2,96.7 C515.2,95.6 513.5,94.1 512.9,93.6" fill="none" stroke="#1a1a1a" stroke-width="1.0" stroke-linecap="round" stroke-linejoin="round"/>
<path d="M518.7,100.5 C518.9,100.0 519.2,98.1 519.8,97.0 C520.4,95.9 521.8,94.5 522.3,94.0" fill="none" stroke="#1a1a1a" stroke-width="0.8" stroke-linecap="round" stroke-linejoin="round"/>
<path d="M521.3,104.3 C521.5,103.6 522.4,101.6 522.9,100.2 C523.4,98.9 523.6,97.4 524.1,96.1 C524.6,94.7 525.6,92.8 525.9,92.1" fill="none" stroke="#1a1a1a" stroke-width="1.0" stroke-linecap="round" stroke-linejoin="round"/>
<path d="M516.6,95.0 C516.4,94.4 515.6,92.4 515.2,91.1 C514.8,89.8 514.6,88.4 514.2,87.1 C513.8,85.7 513.1,83.8 512.8,83.2" fill="none" stroke="#1a1a1a" stroke-width="1.0" stroke-linecap="round" stroke-linejoin="round"/>
<path d="M516.6,95.0 C516.8,94.2 517.5,91.8 518.0,90.2 C518.5,88.7 519.1,87.1 519.4,85.5 C519.6,83.9 519.6,81.4 519.6,80.5" fill="none" stroke="#1a1a1a" stroke-width="1.0" stroke-linecap="round" stroke-linejoin="round"/>
<path d="M513.1,84.6 C512.6,83.8 510.9,81.7 510.0,80.2 C509.0,78.7 508.1,77.2 507.2,75.6 C506.4,74.0 505.2,71.6 504.7,70.8" fill="none" stroke="#1a1a1a" stroke-width="1.0" stroke-linecap="round" stroke-linejoin="round"/>
<path d="M510.0,80.2 C510.3,79.6 510.9,77.5 511.7,76.4 C512.5,75.3 514.3,73.9 514.9,73.5" fill="none" stroke="#1a1a1a" stroke-width="0.8" stroke-linecap="round" stroke-linejoin="round"/>
<path d="M510.8,74.1 C510.6,73.7 510.0,72.6 509.6,71.9 C509.3,71.1 508.9,70.3 508.6,69.5 C508.4,68.7 508.3,67.5 508.2,67.0" fill="none" stroke="#1a1a1a" stroke-width="1.0" stroke-linecap="round" stroke-linejoin="round"/>
<path d="M510.8,74.1 C511.0,73.4 511.4,71.1 511.7,69.6 C512.0,68.0 512.4,66.5 512.6,65.0 C512.8,63.4 512.7,61.1 512.7,60.3" fill="none" stroke="#1a1a1a" stroke-width="1.0" stroke-linecap="round" stroke-linejoin="round"/>
<path d="M511.7,69.6 C511.6,68.9 510.9,67.0 510.8,65.7 C510.8,64.4 511.4,62.3 511.5,61.6" fill="none" stroke="#1a1a1a" stroke-width="0.8" stroke-linecap="round" stroke-linejoin="round"/>
<path d="M509.6,64.8 C509.5,64.2 509.3,62.4 509.0,61.2 C508.6,60.0 508.0,58.9 507.5,57.8 C507.0,56.7 506.3,55.0 506.0,54.5" fill="none" stroke="#1a1a1a" stroke-width="1.0" stroke-linecap="round" stroke-linejoin="round"/>
<path d="M509.0,61.2 C509.4,60.7 510.4,58.8 511.4,57.9 C512.4,57.0 514.5,56.1 515.1,55.7" fill="none" stroke="#1a1a1a" stroke-width="0.8" stroke-linecap="round" stroke-linejoin="round"/>
<path d="M510.2,54.4 C510.1,54.3 509.7,54.1 509.3,53.7 C508.9,53.3 508.3,52.2 507.8,51.9 C507.2,51.6 506.2,52.0 505.8,52.0" fill="none" stroke="#1a1a1a" stroke-width="1.0" stroke-linecap="round" stroke-linejoin="round"/>
<path d="M509.3,53.7 C509.5,53.3 509.9,51.9 510.5,51.5 C511.0,51.1 512.2,51.5 512.5,51.5" fill="none" stroke="#1a1a1a" stroke-width="0.8" stroke-linecap="round" stroke-linejoin="round"/>
<path d="M510.2,54.4 C510.5,54.3 511.3,54.0 511.9,53.7 C512.6,53.4 513.2,52.8 513.9,52.7 C514.6,52.6 515.7,53.0 516.1,53.0" fill="none" stroke="#1a1a1a" stroke-width="1.0" stroke-linecap="round" stroke-linejoin="round"/>
<path d="M511.9,53.7 C511.5,53.2 510.1,50.9 509.5,50.5 C508.9,50.1 508.6,51.3 508.5,51.5" fill="none" stroke="#1a1a1a" stroke-width="0.8" stroke-linecap="round" stroke-linejoin="round"/>
<path d="M552.0,108.9 C551.8,108.5 551.4,107.2 551.0,106.4 C550.6,105.7 550.1,104.9 549.5,104.2 C548.9,103.6 547.9,102.7 547.5,102.4" fill="none" stroke="#1a1a1a" stroke-width="1.0" stroke-linecap="round" stroke-linejoin="round"/>
<path d="M551.0,106.4 C551.1,106.0 551.3,104.6 551.8,103.8 C552.2,103.0 553.2,102.0 553.5,101.6" fill="none" stroke="#1a1a1a" stroke-width="0.8" stroke-linecap="round" stroke-linejoin="round"/>
<path d="M552.0,108.9 C552.0,108.5 552.1,107.0 552.2,106.1 C552.2,105.1 552.2,104.2 552.1,103.2 C552.0,102.3 551.5,100.9 551.4,100.5" fill="none" stroke="#1a1a1a" stroke-width="1.0" stroke-linecap="round" stroke-linejoin="round"/>
<path d="M556.1,99.6 C555.9,99.2 555.3,97.7 554.8,96.7 C554.4,95.7 554.0,94.7 553.4,93.8 C552.8,92.9 551.8,91.7 551.4,91.3" fill="none" stroke="#1a1a1a" stroke-width="1.0" stroke-linecap="round" stroke-linejoin="round"/>
<path d="M558.4,88.0 C558.1,87.7 557.3,86.7 556.7,86.0 C556.1,85.4 555.5,84.7 554.9,84.1 C554.3,83.5 553.2,82.8 552.9,82.5" fill="none" stroke="#1a1a1a" stroke-width="1.0" stroke-linecap="round" stroke-linejoin="round"/>
<path d="M558.4,88.0 C558.7,87.1 559.6,84.5 559.9,82.6 C560.3,80.8 560.3,78.9 560.5,77.0 C560.7,75.1 561.1,72.4 561.2,71.4" fill="none" stroke="#1a1a1a" stroke-width="1.0" stroke-linecap="round" stroke-linejoin="round"/>
<path d="M559.9,82.6 C559.6,81.9 558.3,80.0 557.9,78.5 C557.5,77.0 557.6,74.6 557.5,73.8" fill="none" stroke="#1a1a1a" stroke-width="0.8" stroke-linecap="round" stroke-linejoin="round"/>
<path d="M559.6,76.4 C559.7,75.8 560.0,74.1 560.3,72.9 C560.7,71.8 561.1,70.7 561.6,69.5 C562.0,68.4 562.6,66.7 562.8,66.2" fill="none" stroke="#1a1a1a" stroke-width="1.0" stroke-linecap="round" stroke-linejoin="round"/>
<path d="M561.9,67.1 C561.8,66.3 561.3,63.7 561.3,62.0 C561.2,60.3 561.3,58.6 561.6,56.9 C561.8,55.2 562.5,52.7 562.6,51.9" fill="none" stroke="#1a1a1a" stroke-width="1.0" stroke-linecap="round" stroke-linejoin="round"/>
<path d="M561.9,67.1 C562.1,66.5 562.8,64.5 563.1,63.2 C563.3,61.8 563.4,60.4 563.3,59.1 C563.2,57.7 562.7,55.7 562.6,55.0" fill="none" stroke="#1a1a1a" stroke-width="1.0" stroke-linecap="round" stroke-linejoin="round"/>
<path d="M563.1,63.2 C562.9,62.6 562.0,60.9 561.9,59.6 C561.7,58.4 562.1,56.4 562.1,55.8" fill="none" stroke="#1a1a1a" stroke-width="0.8" stroke-linecap="round" stroke-linejoin="round"/>
<path d="M565.4,60.2 C566.1,59.6 568.5,58.0 570.0,56.8 C571.6,55.6 573.1,53.9 574.5,53.1 C575.9,52.3 577.7,52.2 578.4,52.0" fill="none" stroke="#1a1a1a" stroke-width="1.0" stroke-linecap="round" stroke-linejoin="round"/>
<path d="M570.0,56.8 C569.9,56.2 569.1,54.3 569.0,53.4 C568.9,52.5 569.3,51.8 569.3,51.5" fill="none" stroke="#1a1a1a" stroke-width="0.8" stroke-linecap="round" stroke-linejoin="round"/>
<path d="M502.1,129.8 C501.5,129.2 499.6,127.5 498.5,126.2 C497.3,125.0 496.1,123.7 495.2,122.3 C494.2,120.9 493.2,118.6 492.7,117.8" fill="none" stroke="#1a1a1a" stroke-width="1.3" stroke-linecap="round" stroke-linejoin="round"/>
<path d="M502.1,129.8 C502.4,129.4 503.3,128.3 503.8,127.5 C504.4,126.6 504.8,125.7 505.4,124.9 C506.0,124.2 507.0,123.1 507.3,122.7" fill="none" stroke="#1a1a1a" stroke-width="1.3" stroke-linecap="round" stroke-linejoin="round"/>
<path d="M499.2,121.7 C498.9,120.8 498.1,118.1 497.3,116.4 C496.6,114.7 495.7,113.0 494.6,111.5 C493.6,109.9 491.6,107.9 491.0,107.1" fill="none" stroke="#1a1a1a" stroke-width="1.3" stroke-linecap="round" stroke-linejoin="round"/>
<path d="M497.3,116.4 C497.7,115.9 498.8,114.1 499.8,113.2 C500.8,112.3 502.9,111.4 503.5,111.0" fill="none" stroke="#1a1a1a" stroke-width="0.8" stroke-linecap="round" stroke-linejoin="round"/>
<path d="M499.2,121.7 C499.8,121.0 501.8,118.9 503.1,117.5 C504.3,116.0 505.4,114.5 506.6,113.0 C507.8,111.5 509.7,109.3 510.3,108.5" fill="none" stroke="#1a1a1a" stroke-width="1.3" stroke-linecap="round" stroke-linejoin="round"/>
<path d="M503.1,117.5 C502.9,116.7 502.1,114.5 502.1,113.0 C502.1,111.5 502.9,109.1 503.0,108.4" fill="none" stroke="#1a1a1a" stroke-width="0.8" stroke-linecap="round" stroke-linejoin="round"/>
<path d="M495.7,112.4 C495.2,111.6 493.6,109.3 492.8,107.7 C492.0,106.0 491.4,104.2 490.9,102.4 C490.3,100.7 489.9,97.9 489.8,97.0" fill="none" stroke="#1a1a1a" stroke-width="1.3" stroke-linecap="round" stroke-linejoin="round"/>
<path d="M492.8,107.7 C493.0,107.2 493.2,105.9 493.7,105.2 C494.1,104.5 495.1,103.5 495.4,103.2" fill="none" stroke="#1a1a1a" stroke-width="0.8" stroke-linecap="round" stroke-linejoin="round"/>
<path d="M495.7,112.4 C496.0,111.9 496.8,110.6 497.3,109.6 C497.7,108.6 497.8,107.5 498.3,106.5 C498.7,105.5 499.6,104.2 499.9,103.7" fill="none" stroke="#1a1a1a" stroke-width="1.3" stroke-linecap="round" stroke-linejoin="round"/>
<path d="M497.3,109.6 C497.0,109.1 496.1,107.6 495.8,106.5 C495.6,105.4 495.7,103.5 495.7,102.9" fill="none" stroke="#1a1a1a" stroke-width="0.8" stroke-linecap="round" stroke-linejoin="round"/>
<path d="M491.1,105.4 C491.5,104.9 492.9,103.4 493.8,102.4 C494.7,101.4 495.7,100.5 496.5,99.4 C497.3,98.3 498.1,96.4 498.4,95.8" fill="none" stroke="#1a1a1a" stroke-width="1.3" stroke-linecap="round" stroke-linejoin="round"/>
<path d="M493.8,102.4 C493.7,102.1 493.3,101.3 493.3,100.7 C493.2,100.1 493.4,99.2 493.5,98.9" fill="none" stroke="#1a1a1a" stroke-width="0.8" stroke-linecap="round" stroke-linejoin="round"/>
<path d="M485.9,97.3 C486.2,96.6 487.5,94.5 488.2,93.1 C489.0,91.7 489.6,90.2 490.2,88.7 C490.9,87.2 492.0,85.0 492.3,84.3" fill="none" stroke="#1a1a1a" stroke-width="1.3" stroke-linecap="round" stroke-linejoin="round"/>
<path d="M488.2,93.1 C488.0,92.8 487.4,92.0 487.1,91.4 C486.8,90.8 486.7,89.7 486.7,89.3" fill="none" stroke="#1a1a1a" stroke-width="0.8" stroke-linecap="round" stroke-linejoin="round"/>
<path d="M480.6,88.0 C480.5,87.5 480.1,85.9 479.9,84.8 C479.6,83.8 479.3,82.7 479.1,81.6 C478.9,80.6 478.5,79.0 478.4,78.4" fill="none" stroke="#1a1a1a" stroke-width="1.3" stroke-linecap="round" stroke-linejoin="round"/>
<path d="M477.1,81.1 C476.8,80.5 475.7,78.8 475.0,77.6 C474.4,76.4 473.8,75.1 473.2,73.9 C472.6,72.7 471.7,70.9 471.3,70.3" fill="none" stroke="#1a1a1a" stroke-width="1.3" stroke-linecap="round" stroke-linejoin="round"/>
<path d="M475.0,77.6 C475.3,76.9 476.0,74.7 476.9,73.5 C477.8,72.3 479.8,70.9 480.3,70.4" fill="none" stroke="#1a1a1a" stroke-width="0.8" stroke-linecap="round" stroke-linejoin="round"/>
<path d="M477.1,81.1 C477.6,80.3 479.1,77.9 480.2,76.4 C481.2,74.8 482.1,73.1 483.3,71.7 C484.5,70.3 486.7,68.5 487.4,67.9" fill="none" stroke="#1a1a1a" stroke-width="1.3" stroke-linecap="round" stroke-linejoin="round"/>
<path d="M474.8,76.4 C474.5,75.9 473.6,74.2 472.9,73.1 C472.2,72.0 471.4,71.0 470.5,70.0 C469.7,69.1 468.1,67.9 467.6,67.5" fill="none" stroke="#1a1a1a" stroke-width="1.3" stroke-linecap="round" stroke-linejoin="round"/>
<path d="M509.6,118.2 C510.0,117.5 510.8,115.3 511.6,114.0 C512.3,112.7 513.2,111.4 514.3,110.3 C515.3,109.1 517.2,107.7 517.7,107.2" fill="none" stroke="#1a1a1a" stroke-width="1.0" stroke-linecap="round" stroke-linejoin="round"/>
<path d="M511.6,114.0 C511.3,113.6 510.2,112.6 509.8,111.8 C509.3,110.9 509.1,109.3 508.9,108.9" fill="none" stroke="#1a1a1a" stroke-width="0.8" stroke-linecap="round" stroke-linejoin="round"/>
<path d="M506.2,110.1 C505.5,109.6 503.4,107.9 502.0,106.9 C500.6,105.9 499.2,104.9 497.8,103.9 C496.4,102.8 494.3,101.3 493.6,100.8" fill="none" stroke="#1a1a1a" stroke-width="1.0" stroke-linecap="round" stroke-linejoin="round"/>
<path d="M502.0,106.9 C502.2,106.5 502.4,105.1 502.8,104.4 C503.2,103.6 504.3,102.6 504.6,102.2" fill="none" stroke="#1a1a1a" stroke-width="0.8" stroke-linecap="round" stroke-linejoin="round"/>
<path d="M506.2,110.1 C506.3,109.4 507.0,107.4 507.1,106.0 C507.3,104.6 507.2,103.1 507.1,101.7 C507.0,100.3 506.7,98.2 506.7,97.5" fill="none" stroke="#1a1a1a" stroke-width="1.0" stroke-linecap="round" stroke-linejoin="round"/>
<path d="M501.5,102.0 C501.4,101.0 500.8,98.2 500.7,96.3 C500.7,94.4 501.3,92.5 501.3,90.5 C501.3,88.6 500.8,85.8 500.7,84.8" fill="none" stroke="#1a1a1a" stroke-width="1.0" stroke-linecap="round" stroke-linejoin="round"/>
<path d="M500.7,96.3 C500.9,95.6 501.1,93.6 501.6,92.4 C502.1,91.1 503.6,89.5 504.0,89.0" fill="none" stroke="#1a1a1a" stroke-width="0.8" stroke-linecap="round" stroke-linejoin="round"/>
<path d="M501.5,102.0 C501.8,101.4 502.7,99.7 503.4,98.7 C504.1,97.6 505.1,96.8 505.8,95.7 C506.5,94.7 507.5,93.1 507.8,92.5" fill="none" stroke="#1a1a1a" stroke-width="1.0" stroke-linecap="round" stroke-linejoin="round"/>
<path d="M503.4,98.7 C503.1,98.2 501.8,97.0 501.3,96.0 C500.8,95.0 500.5,93.2 500.4,92.6" fill="none" stroke="#1a1a1a" stroke-width="0.8" stroke-linecap="round" stroke-linejoin="round"/>
<path d="M496.9,92.7 C496.8,92.3 496.6,91.0 496.4,90.2 C496.2,89.4 496.1,88.5 495.8,87.8 C495.5,87.0 494.9,85.9 494.7,85.5" fill="none" stroke="#1a1a1a" stroke-width="1.0" stroke-linecap="round" stroke-linejoin="round"/>
<path d="M496.9,92.7 C497.2,92.4 498.2,91.6 498.8,90.9 C499.4,90.3 499.7,89.4 500.3,88.8 C500.9,88.1 501.9,87.3 502.2,86.9" fill="none" stroke="#1a1a1a" stroke-width="1.0" stroke-linecap="round" stroke-linejoin="round"/>
<path d="M498.8,90.9 C498.6,90.4 497.8,88.9 497.6,87.8 C497.4,86.7 497.7,84.9 497.7,84.3" fill="none" stroke="#1a1a1a" stroke-width="0.8" stroke-linecap="round" stroke-linejoin="round"/>
<path d="M492.2,82.2 C492.4,81.6 492.9,79.5 493.0,78.1 C493.1,76.8 493.1,75.4 492.9,74.0 C492.8,72.6 492.3,70.6 492.2,69.9" fill="none" stroke="#1a1a1a" stroke-width="1.0" stroke-linecap="round" stroke-linejoin="round"/>
<path d="M493.0,78.1 C492.9,77.7 492.3,76.5 492.2,75.6 C492.1,74.7 492.4,73.3 492.5,72.9" fill="none" stroke="#1a1a1a" stroke-width="0.8" stroke-linecap="round" stroke-linejoin="round"/>
<path d="M488.8,71.8 C488.4,71.3 487.5,69.9 486.8,69.1 C486.1,68.3 485.2,67.5 484.4,66.8 C483.6,66.0 482.3,65.0 481.9,64.6" fill="none" stroke="#1a1a1a" stroke-width="1.0" stroke-linecap="round" stroke-linejoin="round"/>
<path d="M486.8,69.1 C486.9,68.8 487.1,67.9 487.4,67.4 C487.7,66.9 488.4,66.2 488.6,66.0" fill="none" stroke="#1a1a1a" stroke-width="0.8" stroke-linecap="round" stroke-linejoin="round"/>
<path d="M488.8,71.8 C489.0,71.4 489.6,70.0 490.2,69.2 C490.8,68.4 491.6,67.8 492.2,67.0 C492.8,66.2 493.5,64.8 493.7,64.4" fill="none" stroke="#1a1a1a" stroke-width="1.0" stroke-linecap="round" stroke-linejoin="round"/>
<path d="M485.3,61.3 C484.8,60.6 483.4,58.4 482.5,56.9 C481.6,55.4 480.6,52.9 479.8,52.4 C479.0,51.9 477.9,53.5 477.5,53.8" fill="none" stroke="#1a1a1a" stroke-width="1.0" stroke-linecap="round" stroke-linejoin="round"/>
<path d="M482.5,56.9 C482.9,56.4 483.8,54.7 484.7,53.8 C485.6,52.9 487.5,52.0 488.1,51.7" fill="none" stroke="#1a1a1a" stroke-width="0.8" stroke-linecap="round" stroke-linejoin="round"/>
<path d="M485.3,61.3 C485.4,60.8 485.9,59.1 486.1,57.9 C486.2,56.7 486.3,55.2 486.2,54.4 C486.2,53.6 485.7,53.4 485.6,53.2" fill="none" stroke="#1a1a1a" stroke-width="1.0" stroke-linecap="round" stroke-linejoin="round"/>
<path d="M486.1,57.9 C486.0,57.6 485.6,56.7 485.5,56.0 C485.5,55.3 485.7,54.3 485.7,53.9" fill="none" stroke="#1a1a1a" stroke-width="0.8" stroke-linecap="round" stroke-linejoin="round"/>
<path d="M516.6,104.3 C516.4,103.8 515.6,102.4 515.1,101.5 C514.6,100.6 514.1,99.6 513.6,98.7 C513.0,97.9 511.9,96.7 511.5,96.3" fill="none" stroke="#1a1a1a" stroke-width="0.8" stroke-linecap="round" stroke-linejoin="round"/>
<path d="M515.1,101.5 C515.4,100.8 515.8,98.5 516.6,97.2 C517.4,95.9 519.2,94.3 519.7,93.7" fill="none" stroke="#1a1a1a" stroke-width="0.8" stroke-linecap="round" stroke-linejoin="round"/>
<path d="M514.3,97.3 C513.9,96.5 512.6,93.9 511.7,92.2 C510.8,90.6 510.0,88.9 508.8,87.4 C507.7,85.9 505.4,84.0 504.8,83.4" fill="none" stroke="#1a1a1a" stroke-width="0.8" stroke-linecap="round" stroke-linejoin="round"/>
<path d="M511.7,92.2 C512.0,91.8 512.4,90.2 513.1,89.4 C513.7,88.5 515.1,87.5 515.5,87.1" fill="none" stroke="#1a1a1a" stroke-width="0.8" stroke-linecap="round" stroke-linejoin="round"/>
<path d="M514.3,97.3 C514.4,97.0 515.0,95.9 515.2,95.2 C515.4,94.4 515.5,93.6 515.6,92.9 C515.7,92.1 515.8,90.9 515.9,90.5" fill="none" stroke="#1a1a1a" stroke-width="0.8" stroke-linecap="round" stroke-linejoin="round"/>
<path d="M515.2,95.2 C515.1,94.7 514.6,93.5 514.6,92.6 C514.6,91.7 515.0,90.4 515.1,89.9" fill="none" stroke="#1a1a1a" stroke-width="0.8" stroke-linecap="round" stroke-linejoin="round"/>
<path d="M509.6,88.0 C509.4,87.4 508.5,85.5 508.0,84.2 C507.4,82.9 507.0,81.6 506.6,80.3 C506.2,79.0 505.8,76.9 505.6,76.3" fill="none" stroke="#1a1a1a" stroke-width="0.8" stroke-linecap="round" stroke-linejoin="round"/>
<path d="M509.6,88.0 C509.9,87.1 510.4,84.3 511.0,82.4 C511.6,80.6 512.3,78.8 513.0,77.0 C513.7,75.3 514.9,72.7 515.3,71.8" fill="none" stroke="#1a1a1a" stroke-width="0.8" stroke-linecap="round" stroke-linejoin="round"/>
<path d="M511.0,82.4 C510.6,81.9 509.1,80.2 508.5,78.9 C507.9,77.6 507.7,75.3 507.5,74.5" fill="none" stroke="#1a1a1a" stroke-width="0.8" stroke-linecap="round" stroke-linejoin="round"/>
<path d="M506.2,78.8 C505.5,78.2 503.7,76.4 502.5,75.2 C501.3,73.9 500.1,72.7 498.8,71.5 C497.6,70.3 495.8,68.5 495.2,67.9" fill="none" stroke="#1a1a1a" stroke-width="0.8" stroke-linecap="round" stroke-linejoin="round"/>
<path d="M503.3,68.3 C503.8,67.8 505.6,66.2 506.6,65.0 C507.6,63.8 508.7,62.6 509.5,61.3 C510.3,60.0 511.1,57.7 511.4,57.0" fill="none" stroke="#1a1a1a" stroke-width="0.8" stroke-linecap="round" stroke-linejoin="round"/>
<path d="M506.6,65.0 C506.5,64.7 506.0,63.8 505.9,63.1 C505.7,62.4 505.9,61.3 505.9,61.0" fill="none" stroke="#1a1a1a" stroke-width="0.8" stroke-linecap="round" stroke-linejoin="round"/>
<path d="M501.5,60.2 C502.0,59.6 503.4,57.8 504.3,56.6 C505.2,55.4 506.2,53.6 507.0,53.0 C507.7,52.5 508.4,53.3 508.7,53.3" fill="none" stroke="#1a1a1a" stroke-width="0.8" stroke-linecap="round" stroke-linejoin="round"/>
<path d="M489.9,99.6 C489.4,99.1 487.8,97.4 486.8,96.2 C485.9,95.0 485.1,93.6 484.1,92.5 C483.2,91.3 481.6,89.6 481.0,89.0" fill="none" stroke="#1a1a1a" stroke-width="0.8" stroke-linecap="round" stroke-linejoin="round"/>
<path d="M486.8,96.2 C487.0,95.6 487.4,93.7 488.1,92.6 C488.7,91.5 490.3,90.1 490.7,89.6" fill="none" stroke="#1a1a1a" stroke-width="0.8" stroke-linecap="round" stroke-linejoin="round"/>
<path d="M489.9,99.6 C490.5,98.9 492.2,96.6 493.2,95.0 C494.3,93.4 495.2,91.8 496.3,90.1 C497.3,88.5 498.7,86.1 499.2,85.2" fill="none" stroke="#1a1a1a" stroke-width="0.8" stroke-linecap="round" stroke-linejoin="round"/>
<path d="M491.1,97.3 C490.5,96.8 489.0,95.0 487.9,94.1 C486.8,93.1 485.5,92.2 484.2,91.4 C482.9,90.6 480.9,89.6 480.2,89.2" fill="none" stroke="#1a1a1a" stroke-width="0.8" stroke-linecap="round" stroke-linejoin="round"/>
<path d="M491.1,97.3 C491.2,96.9 491.6,95.8 491.8,95.1 C492.0,94.3 492.1,93.5 492.3,92.8 C492.5,92.0 492.8,90.9 492.9,90.5" fill="none" stroke="#1a1a1a" stroke-width="0.8" stroke-linecap="round" stroke-linejoin="round"/>
<path d="M494.6,95.0 C494.3,94.4 493.5,92.5 492.9,91.2 C492.3,90.0 491.9,88.7 491.2,87.5 C490.5,86.3 489.2,84.7 488.8,84.1" fill="none" stroke="#1a1a1a" stroke-width="0.8" stroke-linecap="round" stroke-linejoin="round"/>
<path d="M494.6,95.0 C495.0,94.2 496.3,91.7 497.2,90.1 C498.1,88.5 498.8,86.7 499.8,85.1 C500.8,83.6 502.6,81.4 503.1,80.7" fill="none" stroke="#1a1a1a" stroke-width="0.8" stroke-linecap="round" stroke-linejoin="round"/>
<path d="M477.1,90.4 C477.1,89.9 476.9,88.3 476.7,87.3 C476.4,86.4 476.0,85.4 475.7,84.4 C475.4,83.5 475.1,82.0 474.9,81.5" fill="none" stroke="#1a1a1a" stroke-width="0.8" stroke-linecap="round" stroke-linejoin="round"/>
<path d="M476.7,87.3 C477.0,86.7 477.7,84.5 478.7,83.3 C479.6,82.1 481.6,80.8 482.2,80.2" fill="none" stroke="#1a1a1a" stroke-width="0.8" stroke-linecap="round" stroke-linejoin="round"/>
<path d="M477.1,90.4 C477.7,89.9 479.2,88.5 480.2,87.7 C481.3,86.8 482.5,86.2 483.6,85.3 C484.6,84.4 486.1,83.0 486.6,82.5" fill="none" stroke="#1a1a1a" stroke-width="0.8" stroke-linecap="round" stroke-linejoin="round"/>
<path d="M475.4,84.6 C475.3,84.2 475.0,83.1 474.8,82.3 C474.6,81.6 474.4,80.8 474.1,80.1 C473.9,79.3 473.4,78.3 473.2,77.9" fill="none" stroke="#1a1a1a" stroke-width="0.8" stroke-linecap="round" stroke-linejoin="round"/>
<path d="M474.8,82.3 C474.9,81.9 475.3,80.6 475.8,79.8 C476.2,79.1 477.3,78.2 477.7,77.8" fill="none" stroke="#1a1a1a" stroke-width="0.8" stroke-linecap="round" stroke-linejoin="round"/>
<path d="M551.4,138.0 C550.8,137.4 548.7,135.7 547.6,134.4 C546.5,133.0 545.6,131.5 544.6,130.0 C543.7,128.5 542.6,126.2 542.2,125.4" fill="none" stroke="#1a1a1a" stroke-width="1.2" stroke-linecap="round" stroke-linejoin="round"/>
<path d="M551.4,138.0 C551.8,137.5 553.0,136.0 553.8,135.1 C554.6,134.2 555.4,133.3 556.2,132.3 C557.0,131.4 558.1,129.9 558.5,129.4" fill="none" stroke="#1a1a1a" stroke-width="1.2" stroke-linecap="round" stroke-linejoin="round"/>
<path d="M553.8,135.1 C553.7,134.8 553.2,133.9 553.1,133.3 C553.1,132.7 553.2,131.7 553.3,131.4" fill="none" stroke="#1a1a1a" stroke-width="0.8" stroke-linecap="round" stroke-linejoin="round"/>
<path d="M560.7,134.5 C560.5,134.0 559.8,132.4 559.3,131.5 C558.7,130.5 558.1,129.6 557.5,128.7 C556.8,127.8 555.7,126.6 555.4,126.1" fill="none" stroke="#1a1a1a" stroke-width="1.2" stroke-linecap="round" stroke-linejoin="round"/>
<path d="M559.3,131.5 C559.4,131.0 559.7,129.6 560.1,128.8 C560.5,128.0 561.7,126.9 562.0,126.5" fill="none" stroke="#1a1a1a" stroke-width="0.8" stroke-linecap="round" stroke-linejoin="round"/>
<path d="M573.5,117.1 C572.9,116.3 571.1,114.2 570.0,112.7 C568.9,111.2 568.1,109.4 566.9,108.0 C565.8,106.6 563.6,104.7 562.9,104.1" fill="none" stroke="#1a1a1a" stroke-width="1.2" stroke-linecap="round" stroke-linejoin="round"/>
<path d="M573.5,117.1 C573.9,116.4 575.2,114.5 575.8,113.1 C576.4,111.7 576.5,110.1 577.1,108.7 C577.7,107.3 578.9,105.4 579.3,104.7" fill="none" stroke="#1a1a1a" stroke-width="1.2" stroke-linecap="round" stroke-linejoin="round"/>
<path d="M575.8,113.1 C575.6,112.7 574.8,111.5 574.6,110.6 C574.4,109.7 574.5,108.2 574.5,107.8" fill="none" stroke="#1a1a1a" stroke-width="0.8" stroke-linecap="round" stroke-linejoin="round"/>
<path d="M579.3,108.9 C578.6,108.2 576.7,106.2 575.4,104.7 C574.2,103.2 573.2,101.6 571.9,100.2 C570.7,98.7 568.6,96.7 568.0,96.0" fill="none" stroke="#1a1a1a" stroke-width="1.2" stroke-linecap="round" stroke-linejoin="round"/>
<path d="M575.4,104.7 C575.6,104.4 575.9,103.3 576.3,102.7 C576.7,102.0 577.7,101.3 577.9,101.0" fill="none" stroke="#1a1a1a" stroke-width="0.8" stroke-linecap="round" stroke-linejoin="round"/>
<path d="M579.3,108.9 C579.6,108.1 580.7,105.5 581.2,103.8 C581.7,102.0 581.8,100.2 582.3,98.4 C582.9,96.7 584.2,94.3 584.5,93.4" fill="none" stroke="#1a1a1a" stroke-width="1.2" stroke-linecap="round" stroke-linejoin="round"/>
<path d="M582.8,104.3 C582.5,103.9 581.8,102.5 581.3,101.7 C580.7,100.9 580.2,100.0 579.6,99.2 C578.9,98.5 577.8,97.5 577.4,97.2" fill="none" stroke="#1a1a1a" stroke-width="1.2" stroke-linecap="round" stroke-linejoin="round"/>
<path d="M581.3,101.7 C581.5,101.2 581.8,99.5 582.4,98.5 C582.9,97.5 584.3,96.3 584.7,95.8" fill="none" stroke="#1a1a1a" stroke-width="0.8" stroke-linecap="round" stroke-linejoin="round"/>
<path d="M586.3,98.5 C586.0,97.9 585.2,96.2 584.6,95.1 C584.1,94.0 583.5,92.9 582.8,91.8 C582.2,90.7 581.1,89.2 580.7,88.7" fill="none" stroke="#1a1a1a" stroke-width="1.2" stroke-linecap="round" stroke-linejoin="round"/>
<path d="M584.6,95.1 C584.9,94.4 585.4,92.1 586.2,90.8 C586.9,89.5 588.8,87.9 589.3,87.3" fill="none" stroke="#1a1a1a" stroke-width="0.8" stroke-linecap="round" stroke-linejoin="round"/>
<path d="M586.3,98.5 C586.7,97.9 588.2,96.2 589.1,95.0 C590.0,93.8 590.7,92.4 591.4,91.1 C592.1,89.8 593.0,87.7 593.3,87.0" fill="none" stroke="#1a1a1a" stroke-width="1.2" stroke-linecap="round" stroke-linejoin="round"/>
<path d="M589.1,95.0 C588.9,94.5 588.1,93.2 587.9,92.2 C587.7,91.2 587.9,89.6 587.9,89.0" fill="none" stroke="#1a1a1a" stroke-width="0.8" stroke-linecap="round" stroke-linejoin="round"/>
<path d="M595.5,93.8 C595.9,93.1 597.0,91.0 597.7,89.6 C598.4,88.1 599.0,86.7 599.8,85.2 C600.5,83.8 601.7,81.7 602.0,81.0" fill="none" stroke="#1a1a1a" stroke-width="1.2" stroke-linecap="round" stroke-linejoin="round"/>
<path d="M597.7,89.6 C597.4,88.9 596.3,86.9 596.0,85.5 C595.7,84.0 596.0,81.6 596.0,80.9" fill="none" stroke="#1a1a1a" stroke-width="0.8" stroke-linecap="round" stroke-linejoin="round"/>
<path d="M560.7,102.0 C560.9,101.5 561.3,100.1 561.6,99.2 C561.9,98.4 562.3,97.4 562.7,96.6 C563.2,95.8 564.1,94.7 564.4,94.3" fill="none" stroke="#1a1a1a" stroke-width="0.8" stroke-linecap="round" stroke-linejoin="round"/>
<path d="M563.0,92.7 C562.7,92.1 561.7,90.4 560.8,89.5 C560.0,88.5 558.8,87.8 557.9,86.8 C557.0,85.9 555.8,84.3 555.4,83.8" fill="none" stroke="#1a1a1a" stroke-width="0.8" stroke-linecap="round" stroke-linejoin="round"/>
<path d="M560.8,89.5 C561.2,89.0 562.1,87.4 563.0,86.6 C563.9,85.8 565.7,85.1 566.3,84.7" fill="none" stroke="#1a1a1a" stroke-width="0.8" stroke-linecap="round" stroke-linejoin="round"/>
<path d="M563.0,92.7 C563.2,92.2 563.8,90.7 564.2,89.7 C564.7,88.7 565.3,87.9 565.7,86.9 C566.1,85.9 566.5,84.3 566.6,83.8" fill="none" stroke="#1a1a1a" stroke-width="0.8" stroke-linecap="round" stroke-linejoin="round"/>
<path d="M564.2,89.7 C564.0,89.2 563.0,87.7 562.7,86.6 C562.4,85.5 562.5,83.7 562.5,83.1" fill="none" stroke="#1a1a1a" stroke-width="0.8" stroke-linecap="round" stroke-linejoin="round"/>
<path d="M566.5,83.4 C566.1,82.8 564.9,80.9 564.0,79.8 C563.1,78.6 562.1,77.5 561.1,76.4 C560.2,75.3 558.7,73.7 558.2,73.1" fill="none" stroke="#1a1a1a" stroke-width="0.8" stroke-linecap="round" stroke-linejoin="round"/>
<path d="M566.5,83.4 C566.9,82.8 568.0,81.2 568.6,80.0 C569.3,78.9 569.6,77.5 570.3,76.4 C571.0,75.3 572.3,73.8 572.7,73.3" fill="none" stroke="#1a1a1a" stroke-width="0.8" stroke-linecap="round" stroke-linejoin="round"/>
<path d="M568.8,74.1 C568.7,73.4 568.4,71.4 568.1,70.1 C567.9,68.8 567.6,67.4 567.3,66.1 C566.9,64.8 566.2,63.0 566.0,62.3" fill="none" stroke="#1a1a1a" stroke-width="0.8" stroke-linecap="round" stroke-linejoin="round"/>
<path d="M571.2,64.8 C571.0,64.3 570.4,62.6 570.1,61.5 C569.8,60.4 569.7,59.2 569.4,58.1 C569.0,57.0 568.3,55.3 568.1,54.8" fill="none" stroke="#1a1a1a" stroke-width="0.8" stroke-linecap="round" stroke-linejoin="round"/>
<path d="M571.2,64.8 C571.5,64.4 572.6,63.4 573.2,62.6 C573.9,61.8 574.4,60.9 575.0,60.1 C575.7,59.4 576.8,58.4 577.2,58.0" fill="none" stroke="#1a1a1a" stroke-width="0.8" stroke-linecap="round" stroke-linejoin="round"/>
<path d="M573.2,62.6 C573.0,61.9 572.1,60.1 572.0,58.8 C571.9,57.5 572.3,55.4 572.3,54.7" fill="none" stroke="#1a1a1a" stroke-width="0.8" stroke-linecap="round" stroke-linejoin="round"/>
<path d="M578.1,97.3 C577.6,96.9 576.1,95.5 575.0,94.8 C573.9,94.0 572.7,93.3 571.6,92.6 C570.4,92.0 568.6,91.0 568.0,90.7" fill="none" stroke="#1a1a1a" stroke-width="0.8" stroke-linecap="round" stroke-linejoin="round"/>
<path d="M581.6,88.0 C581.5,87.5 581.3,86.0 581.0,85.0 C580.7,84.1 580.3,83.1 579.8,82.2 C579.3,81.3 578.3,80.1 578.1,79.7" fill="none" stroke="#1a1a1a" stroke-width="0.8" stroke-linecap="round" stroke-linejoin="round"/>
<path d="M581.0,85.0 C581.3,84.4 581.8,82.2 582.7,81.0 C583.5,79.8 585.3,78.4 585.9,77.8" fill="none" stroke="#1a1a1a" stroke-width="0.8" stroke-linecap="round" stroke-linejoin="round"/>
<path d="M584.5,78.8 C583.8,78.1 581.9,76.1 580.4,75.0 C578.9,73.9 577.2,73.1 575.7,72.0 C574.3,70.8 572.5,68.6 571.8,68.0" fill="none" stroke="#1a1a1a" stroke-width="0.8" stroke-linecap="round" stroke-linejoin="round"/>
<path d="M584.5,78.8 C584.8,78.2 585.8,76.7 586.3,75.6 C586.9,74.5 587.4,73.4 587.9,72.3 C588.3,71.2 588.7,69.4 588.8,68.8" fill="none" stroke="#1a1a1a" stroke-width="0.8" stroke-linecap="round" stroke-linejoin="round"/>
<path d="M586.3,75.6 C586.2,75.2 585.5,73.9 585.4,73.0 C585.3,72.1 585.5,70.6 585.6,70.1" fill="none" stroke="#1a1a1a" stroke-width="0.8" stroke-linecap="round" stroke-linejoin="round"/>
<path d="M585.1,69.5 C585.4,69.1 586.3,67.8 587.0,67.1 C587.6,66.3 588.4,65.6 589.2,65.0 C590.0,64.4 591.3,63.6 591.7,63.3" fill="none" stroke="#1a1a1a" stroke-width="0.8" stroke-linecap="round" stroke-linejoin="round"/>
<path d="M587.0,67.1 C586.8,66.6 586.3,65.1 586.3,64.0 C586.2,63.0 586.7,61.4 586.8,60.8" fill="none" stroke="#1a1a1a" stroke-width="0.8" stroke-linecap="round" stroke-linejoin="round"/>
<path d="M583.9,66.0 C583.6,65.6 582.5,64.6 581.8,63.9 C581.2,63.1 580.8,62.1 580.2,61.3 C579.6,60.6 578.4,59.6 578.0,59.3" fill="none" stroke="#1a1a1a" stroke-width="0.8" stroke-linecap="round" stroke-linejoin="round"/>
<path d="M581.8,63.9 C582.2,63.3 583.1,61.5 584.1,60.6 C585.0,59.7 587.0,58.7 587.6,58.4" fill="none" stroke="#1a1a1a" stroke-width="0.8" stroke-linecap="round" stroke-linejoin="round"/>
<path d="M583.9,66.0 C584.1,65.6 584.8,64.5 585.1,63.7 C585.4,63.0 585.6,62.1 586.0,61.3 C586.3,60.6 587.0,59.5 587.2,59.1" fill="none" stroke="#1a1a1a" stroke-width="0.8" stroke-linecap="round" stroke-linejoin="round"/>
<path d="M567.7,138.0 C567.4,137.1 566.6,134.3 565.9,132.6 C565.2,130.9 564.1,129.2 563.4,127.5 C562.7,125.8 561.9,123.0 561.5,122.2" fill="none" stroke="#1a1a1a" stroke-width="0.9" stroke-linecap="round" stroke-linejoin="round"/>
<path d="M565.9,132.6 C566.0,132.3 566.1,131.4 566.4,130.9 C566.7,130.4 567.5,129.8 567.7,129.6" fill="none" stroke="#1a1a1a" stroke-width="0.8" stroke-linecap="round" stroke-linejoin="round"/>
<path d="M567.7,138.0 C568.3,137.5 570.2,136.3 571.3,135.2 C572.4,134.2 573.3,133.0 574.2,131.8 C575.1,130.5 576.2,128.6 576.6,127.9" fill="none" stroke="#1a1a1a" stroke-width="0.9" stroke-linecap="round" stroke-linejoin="round"/>
<path d="M571.3,135.2 C570.8,134.7 569.2,133.1 568.5,131.7 C567.8,130.4 567.4,128.0 567.2,127.2" fill="none" stroke="#1a1a1a" stroke-width="0.8" stroke-linecap="round" stroke-linejoin="round"/>
<path d="M573.5,134.5 C573.3,133.9 572.4,132.1 572.1,130.9 C571.7,129.7 571.8,128.4 571.4,127.2 C571.1,125.9 570.4,124.1 570.2,123.5" fill="none" stroke="#1a1a1a" stroke-width="0.9" stroke-linecap="round" stroke-linejoin="round"/>
<path d="M573.5,134.5 C574.0,133.8 575.7,132.0 576.8,130.7 C577.8,129.4 578.8,128.0 579.7,126.6 C580.6,125.2 581.9,123.0 582.3,122.3" fill="none" stroke="#1a1a1a" stroke-width="0.9" stroke-linecap="round" stroke-linejoin="round"/>
<path d="M576.8,130.7 C576.6,130.4 575.9,129.7 575.7,129.0 C575.4,128.4 575.3,127.4 575.3,127.0" fill="none" stroke="#1a1a1a" stroke-width="0.8" stroke-linecap="round" stroke-linejoin="round"/>
<path d="M577.0,131.0 C576.6,130.6 575.5,129.5 574.6,128.9 C573.7,128.3 572.7,127.9 571.8,127.4 C570.9,126.8 569.5,126.0 569.0,125.8" fill="none" stroke="#1a1a1a" stroke-width="0.9" stroke-linecap="round" stroke-linejoin="round"/>
<path d="M574.6,128.9 C575.0,128.3 576.2,126.5 577.3,125.6 C578.4,124.6 580.6,123.8 581.3,123.5" fill="none" stroke="#1a1a1a" stroke-width="0.8" stroke-linecap="round" stroke-linejoin="round"/>
<path d="M582.8,128.7 C582.6,128.2 582.2,127.0 582.0,126.1 C581.8,125.3 581.7,124.4 581.5,123.5 C581.3,122.6 581.0,121.3 580.9,120.9" fill="none" stroke="#1a1a1a" stroke-width="0.9" stroke-linecap="round" stroke-linejoin="round"/>
<path d="M582.0,126.1 C582.2,125.6 582.7,123.8 583.4,122.9 C584.1,121.9 585.6,120.7 586.1,120.3" fill="none" stroke="#1a1a1a" stroke-width="0.8" stroke-linecap="round" stroke-linejoin="round"/>
<path d="M582.8,128.7 C583.3,128.0 585.2,126.1 586.2,124.7 C587.2,123.2 587.8,121.5 588.8,120.1 C589.8,118.6 591.6,116.7 592.1,116.0" fill="none" stroke="#1a1a1a" stroke-width="0.9" stroke-linecap="round" stroke-linejoin="round"/>
<path d="M586.2,124.7 C586.0,124.2 585.1,123.1 584.9,122.2 C584.6,121.3 584.7,119.7 584.6,119.2" fill="none" stroke="#1a1a1a" stroke-width="0.8" stroke-linecap="round" stroke-linejoin="round"/>
<path d="M585.7,126.3 C585.4,125.9 584.8,124.4 584.2,123.5 C583.7,122.6 582.8,121.9 582.3,121.0 C581.7,120.1 581.1,118.6 580.9,118.1" fill="none" stroke="#1a1a1a" stroke-width="0.9" stroke-linecap="round" stroke-linejoin="round"/>
<path d="M584.2,123.5 C584.4,123.1 584.7,121.6 585.2,120.8 C585.8,120.0 587.0,119.0 587.3,118.6" fill="none" stroke="#1a1a1a" stroke-width="0.8" stroke-linecap="round" stroke-linejoin="round"/>
<path d="M583.9,124.6 C583.7,123.8 582.8,121.4 582.5,119.7 C582.2,118.0 582.5,116.2 582.2,114.5 C582.0,112.9 581.2,110.4 581.0,109.6" fill="none" stroke="#1a1a1a" stroke-width="0.9" stroke-linecap="round" stroke-linejoin="round"/>
<path d="M582.5,119.7 C582.9,119.1 583.9,117.2 584.9,116.3 C585.9,115.3 587.9,114.3 588.5,113.9" fill="none" stroke="#1a1a1a" stroke-width="0.8" stroke-linecap="round" stroke-linejoin="round"/>
<path d="M579.3,121.7 C579.1,121.3 578.2,120.2 577.9,119.4 C577.5,118.5 577.3,117.6 577.0,116.8 C576.7,115.9 576.4,114.6 576.3,114.1" fill="none" stroke="#1a1a1a" stroke-width="0.8" stroke-linecap="round" stroke-linejoin="round"/>
<path d="M579.3,121.7 C579.6,121.2 580.6,119.5 581.4,118.4 C582.1,117.4 582.9,116.3 583.9,115.4 C584.8,114.6 586.5,113.5 587.0,113.1" fill="none" stroke="#1a1a1a" stroke-width="0.8" stroke-linecap="round" stroke-linejoin="round"/>
<path d="M581.4,118.4 C581.1,117.9 580.0,116.4 579.7,115.3 C579.3,114.2 579.4,112.3 579.3,111.6" fill="none" stroke="#1a1a1a" stroke-width="0.8" stroke-linecap="round" stroke-linejoin="round"/>
<path d="M583.9,118.2 C583.7,117.8 582.9,116.6 582.4,115.9 C581.8,115.1 581.2,114.5 580.6,113.7 C580.0,113.0 579.1,111.9 578.8,111.5" fill="none" stroke="#1a1a1a" stroke-width="0.8" stroke-linecap="round" stroke-linejoin="round"/>
<path d="M583.9,118.2 C584.1,117.7 584.8,116.1 585.1,115.0 C585.4,113.9 585.6,112.7 585.7,111.6 C585.9,110.4 586.0,108.7 586.1,108.1" fill="none" stroke="#1a1a1a" stroke-width="0.8" stroke-linecap="round" stroke-linejoin="round"/>
<path d="M585.1,115.0 C584.8,114.5 583.7,113.2 583.2,112.2 C582.8,111.2 582.6,109.4 582.5,108.8" fill="none" stroke="#1a1a1a" stroke-width="0.8" stroke-linecap="round" stroke-linejoin="round"/>
<path d="M585.1,111.3 C584.9,110.7 584.4,108.9 584.1,107.7 C583.8,106.5 583.7,105.2 583.3,104.1 C583.0,102.9 582.1,101.2 581.9,100.7" fill="none" stroke="#1a1a1a" stroke-width="0.8" stroke-linecap="round" stroke-linejoin="round"/>
<path d="M584.1,107.7 C584.3,107.3 585.0,105.9 585.6,105.2 C586.3,104.5 587.7,103.7 588.1,103.4" fill="none" stroke="#1a1a1a" stroke-width="0.8" stroke-linecap="round" stroke-linejoin="round"/>
<path d="M585.1,111.3 C585.4,110.4 586.2,107.7 586.8,105.9 C587.4,104.1 588.1,102.4 588.7,100.6 C589.3,98.8 590.0,96.0 590.2,95.1" fill="none" stroke="#1a1a1a" stroke-width="0.8" stroke-linecap="round" stroke-linejoin="round"/>
<path d="M586.8,105.9 C586.4,105.3 584.7,103.5 584.1,102.1 C583.4,100.7 583.1,98.2 582.9,97.5" fill="none" stroke="#1a1a1a" stroke-width="0.8" stroke-linecap="round" stroke-linejoin="round"/>
<path d="M584.5,107.8 C584.1,107.1 583.1,104.8 582.2,103.5 C581.3,102.2 579.9,101.2 578.9,99.9 C577.9,98.6 576.8,96.5 576.4,95.8" fill="none" stroke="#1a1a1a" stroke-width="0.8" stroke-linecap="round" stroke-linejoin="round"/>
<path d="M582.2,103.5 C582.5,103.1 583.2,101.8 583.9,101.1 C584.6,100.4 586.0,99.7 586.4,99.5" fill="none" stroke="#1a1a1a" stroke-width="0.8" stroke-linecap="round" stroke-linejoin="round"/>
<path d="M541.0,102.0 C540.9,101.6 540.5,100.5 540.3,99.7 C540.1,98.9 539.8,98.2 539.7,97.4 C539.6,96.6 539.7,95.4 539.6,95.0" fill="none" stroke="#1a1a1a" stroke-width="0.8" stroke-linecap="round" stroke-linejoin="round"/>
<path d="M540.3,99.7 C540.5,99.3 541.0,98.0 541.7,97.2 C542.3,96.5 543.6,95.7 544.0,95.4" fill="none" stroke="#1a1a1a" stroke-width="0.8" stroke-linecap="round" stroke-linejoin="round"/>
<path d="M541.0,102.0 C541.2,101.4 541.6,99.8 542.1,98.8 C542.5,97.8 543.3,97.0 543.8,96.0 C544.3,95.0 544.7,93.4 544.9,92.9" fill="none" stroke="#1a1a1a" stroke-width="0.8" stroke-linecap="round" stroke-linejoin="round"/>
<path d="M542.1,98.8 C541.6,98.2 540.1,96.5 539.5,95.1 C538.9,93.7 538.7,91.2 538.5,90.5" fill="none" stroke="#1a1a1a" stroke-width="0.8" stroke-linecap="round" stroke-linejoin="round"/>
<path d="M542.1,92.7 C542.1,91.7 541.9,89.0 541.7,87.1 C541.6,85.2 541.6,83.3 541.3,81.5 C540.9,79.7 539.8,77.1 539.6,76.2" fill="none" stroke="#1a1a1a" stroke-width="0.8" stroke-linecap="round" stroke-linejoin="round"/>
<path d="M542.1,92.7 C542.7,92.2 544.5,90.8 545.6,89.8 C546.6,88.7 547.4,87.4 548.4,86.3 C549.5,85.3 551.2,83.8 551.8,83.3" fill="none" stroke="#1a1a1a" stroke-width="0.8" stroke-linecap="round" stroke-linejoin="round"/>
<path d="M545.6,89.8 C545.3,89.1 544.2,87.3 543.9,85.9 C543.6,84.5 543.9,82.3 543.9,81.5" fill="none" stroke="#1a1a1a" stroke-width="0.8" stroke-linecap="round" stroke-linejoin="round"/>
<path d="M544.5,82.2 C544.7,81.7 545.4,79.9 545.8,78.8 C546.2,77.6 546.7,76.4 546.9,75.2 C547.2,74.0 547.3,72.2 547.4,71.5" fill="none" stroke="#1a1a1a" stroke-width="0.8" stroke-linecap="round" stroke-linejoin="round"/>
<path d="M545.8,78.8 C545.4,78.2 544.0,76.4 543.5,75.1 C543.0,73.7 542.9,71.4 542.7,70.6" fill="none" stroke="#1a1a1a" stroke-width="0.8" stroke-linecap="round" stroke-linejoin="round"/>
<path d="M548.0,71.8 C547.4,71.2 545.6,69.5 544.5,68.2 C543.5,66.9 542.8,65.4 541.8,64.1 C540.7,62.8 538.8,61.2 538.3,60.6" fill="none" stroke="#1a1a1a" stroke-width="0.8" stroke-linecap="round" stroke-linejoin="round"/>
<path d="M544.5,68.2 C544.8,67.7 545.4,66.0 546.2,65.0 C546.9,64.1 548.5,63.0 549.0,62.6" fill="none" stroke="#1a1a1a" stroke-width="0.8" stroke-linecap="round" stroke-linejoin="round"/>
<path d="M548.0,71.8 C548.2,71.1 549.1,69.1 549.7,67.8 C550.4,66.5 551.2,65.3 551.8,64.0 C552.5,62.7 553.5,60.8 553.8,60.1" fill="none" stroke="#1a1a1a" stroke-width="0.8" stroke-linecap="round" stroke-linejoin="round"/>
<path d="M549.7,67.8 C549.6,67.2 549.0,65.5 549.0,64.4 C549.0,63.2 549.5,61.3 549.7,60.7" fill="none" stroke="#1a1a1a" stroke-width="0.8" stroke-linecap="round" stroke-linejoin="round"/>
<path d="M549.1,61.3 C548.9,60.5 548.4,58.1 548.0,56.5 C547.6,54.9 547.3,52.3 546.8,51.7 C546.2,51.0 545.1,52.4 544.8,52.6" fill="none" stroke="#1a1a1a" stroke-width="0.8" stroke-linecap="round" stroke-linejoin="round"/>
<path d="M548.0,56.5 C548.1,56.0 548.3,54.4 548.8,53.6 C549.2,52.8 550.3,51.8 550.7,51.5" fill="none" stroke="#1a1a1a" stroke-width="0.8" stroke-linecap="round" stroke-linejoin="round"/>
<path d="M549.1,61.3 C549.3,60.7 549.7,58.7 550.1,57.4 C550.5,56.0 551.1,54.2 551.3,53.5 C551.6,52.8 551.7,53.2 551.8,53.2" fill="none" stroke="#1a1a1a" stroke-width="0.8" stroke-linecap="round" stroke-linejoin="round"/>
<path d="M548.0,60.2 C547.7,59.5 546.9,57.7 546.6,56.3 C546.3,55.0 546.4,52.8 546.1,52.3 C545.9,51.8 545.2,53.3 545.0,53.5" fill="none" stroke="#1a1a1a" stroke-width="0.8" stroke-linecap="round" stroke-linejoin="round"/>
<path d="M548.0,60.2 C548.3,59.9 549.5,58.9 550.3,58.3 C551.1,57.7 551.8,57.0 552.6,56.4 C553.5,55.9 554.9,55.4 555.3,55.1" fill="none" stroke="#1a1a1a" stroke-width="0.8" stroke-linecap="round" stroke-linejoin="round"/>
<path d="M531.7,99.6 C531.0,99.0 528.9,97.2 527.5,96.0 C526.0,94.9 524.4,93.9 523.0,92.7 C521.6,91.5 519.7,89.5 519.0,88.9" fill="none" stroke="#1a1a1a" stroke-width="0.8" stroke-linecap="round" stroke-linejoin="round"/>
<path d="M527.5,96.0 C527.7,95.7 528.4,94.6 529.0,94.0 C529.6,93.4 530.9,92.9 531.3,92.7" fill="none" stroke="#1a1a1a" stroke-width="0.8" stroke-linecap="round" stroke-linejoin="round"/>
<path d="M532.9,90.4 C532.3,89.6 530.7,87.4 529.5,86.0 C528.3,84.6 527.0,83.3 525.7,82.0 C524.4,80.6 522.5,78.6 521.9,78.0" fill="none" stroke="#1a1a1a" stroke-width="0.8" stroke-linecap="round" stroke-linejoin="round"/>
<path d="M529.5,86.0 C529.6,85.6 529.7,84.4 530.0,83.7 C530.3,83.0 531.2,82.1 531.4,81.8" fill="none" stroke="#1a1a1a" stroke-width="0.8" stroke-linecap="round" stroke-linejoin="round"/>
<path d="M532.9,90.4 C533.5,89.9 535.4,88.6 536.6,87.5 C537.7,86.5 538.6,85.1 539.8,84.1 C540.9,83.0 542.8,81.6 543.4,81.1" fill="none" stroke="#1a1a1a" stroke-width="0.8" stroke-linecap="round" stroke-linejoin="round"/>
<path d="M536.6,87.5 C536.3,87.0 535.3,85.5 535.0,84.3 C534.7,83.1 534.7,81.2 534.7,80.6" fill="none" stroke="#1a1a1a" stroke-width="0.8" stroke-linecap="round" stroke-linejoin="round"/>
<path d="M536.3,81.1 C535.9,80.5 534.5,78.9 533.8,77.7 C533.0,76.5 532.7,75.1 531.9,73.9 C531.2,72.7 529.8,71.0 529.3,70.5" fill="none" stroke="#1a1a1a" stroke-width="0.8" stroke-linecap="round" stroke-linejoin="round"/>
<path d="M536.3,81.1 C536.6,80.3 537.3,77.8 538.0,76.2 C538.7,74.7 539.8,73.4 540.8,72.0 C541.7,70.6 543.2,68.5 543.7,67.8" fill="none" stroke="#1a1a1a" stroke-width="0.8" stroke-linecap="round" stroke-linejoin="round"/>
<path d="M538.0,76.2 C537.7,75.8 536.7,74.7 536.3,73.7 C536.0,72.8 535.8,71.2 535.7,70.6" fill="none" stroke="#1a1a1a" stroke-width="0.8" stroke-linecap="round" stroke-linejoin="round"/>
<path d="M538.7,71.8 C538.5,71.4 538.0,70.3 537.6,69.6 C537.1,68.8 536.6,68.2 536.2,67.5 C535.7,66.8 535.2,65.7 535.0,65.3" fill="none" stroke="#1a1a1a" stroke-width="0.8" stroke-linecap="round" stroke-linejoin="round"/>
<path d="M538.7,71.8 C538.9,71.3 539.5,69.7 539.8,68.6 C540.0,67.5 540.1,66.3 540.1,65.2 C540.1,64.0 539.9,62.3 539.9,61.8" fill="none" stroke="#1a1a1a" stroke-width="0.8" stroke-linecap="round" stroke-linejoin="round"/>
<path d="M539.8,62.5 C539.2,61.8 537.6,59.6 536.4,58.3 C535.1,57.0 533.6,55.8 532.4,54.6 C531.1,53.5 529.3,52.0 528.7,51.5" fill="none" stroke="#1a1a1a" stroke-width="0.8" stroke-linecap="round" stroke-linejoin="round"/>
<path d="M536.4,58.3 C536.5,58.0 536.7,57.0 537.1,56.4 C537.5,55.8 538.4,55.1 538.6,54.9" fill="none" stroke="#1a1a1a" stroke-width="0.8" stroke-linecap="round" stroke-linejoin="round"/>
<path d="M539.8,62.5 C540.1,61.8 541.1,59.9 541.5,58.5 C542.0,57.1 542.2,55.3 542.7,54.3 C543.1,53.3 543.8,52.9 544.0,52.6" fill="none" stroke="#1a1a1a" stroke-width="0.8" stroke-linecap="round" stroke-linejoin="round"/>
<path d="M541.5,58.5 C541.3,58.2 540.4,57.3 540.0,56.6 C539.7,55.9 539.5,54.5 539.3,54.1" fill="none" stroke="#1a1a1a" stroke-width="0.8" stroke-linecap="round" stroke-linejoin="round"/>
<path d="M539.2,54.4 C539.2,54.2 538.9,53.7 538.7,53.3 C538.5,52.9 538.4,52.1 538.0,52.1 C537.6,52.0 536.5,52.8 536.2,53.0" fill="none" stroke="#1a1a1a" stroke-width="0.8" stroke-linecap="round" stroke-linejoin="round"/>
<path d="M538.7,53.3 C539.0,52.7 539.4,50.2 540.1,49.9 C540.7,49.6 542.2,51.2 542.7,51.5" fill="none" stroke="#1a1a1a" stroke-width="0.8" stroke-linecap="round" stroke-linejoin="round"/>
<path d="M539.2,54.4 C539.7,54.2 541.2,53.8 542.0,53.6 C542.7,53.3 543.2,53.0 543.7,52.7 C544.3,52.5 545.0,52.1 545.2,52.0" fill="none" stroke="#1a1a1a" stroke-width="0.8" stroke-linecap="round" stroke-linejoin="round"/>
<path d="M542.0,53.6 C541.8,53.3 541.2,52.4 541.0,52.1 C540.8,51.7 540.7,51.6 540.6,51.5" fill="none" stroke="#1a1a1a" stroke-width="0.8" stroke-linecap="round" stroke-linejoin="round"/>
<path d="M560.7,118.2 C560.4,117.9 559.3,117.0 558.6,116.4 C557.9,115.8 557.2,115.1 556.5,114.5 C555.8,113.8 554.8,112.9 554.5,112.5" fill="none" stroke="#1a1a1a" stroke-width="0.8" stroke-linecap="round" stroke-linejoin="round"/>
<path d="M558.4,122.9 C558.1,122.4 557.0,121.1 556.4,120.1 C555.8,119.2 555.4,118.1 555.0,117.1 C554.6,116.0 554.2,114.4 554.0,113.9" fill="none" stroke="#1a1a1a" stroke-width="0.8" stroke-linecap="round" stroke-linejoin="round"/>
<path d="M558.4,122.9 C558.9,122.2 560.3,120.2 561.4,119.0 C562.5,117.7 563.7,116.6 564.8,115.5 C566.0,114.3 567.6,112.5 568.2,111.9" fill="none" stroke="#1a1a1a" stroke-width="0.8" stroke-linecap="round" stroke-linejoin="round"/>
<path d="M561.4,119.0 C561.3,118.6 560.8,117.4 560.8,116.6 C560.7,115.8 561.1,114.6 561.1,114.1" fill="none" stroke="#1a1a1a" stroke-width="0.8" stroke-linecap="round" stroke-linejoin="round"/>
<path d="M539.8,146 C541,152 533,156 532.6,164.4 C532.6,169.5 536,172.3 539.2,173.5 L539.2,198 C538.6,205 540,211 543.5,217" fill="none" stroke="#1a1a1a" stroke-width="1.1"/>
<path d="M538.4,146 C538.6,151 536.8,154.6 535.2,157.6 C531.4,160.6 531.6,168 535.6,170.6 C537.2,171.8 538.6,173 539.3,175 C540.4,173 541.8,171.8 543.6,170.6 C548,168 548.2,160.6 544.4,157.6 C542.6,154.6 541.4,151 541.4,146 Z" fill="#1a1a1a"/>
<circle cx="539.8" cy="164.2" r="7.3" fill="#1a1a1a"/>
<path d="M493.4,218.4 C491.8,217.7 486.6,215.7 484.1,214.3 C481.6,212.8 480.0,211.0 478.3,209.6 C476.6,208.3 475.6,207.4 473.7,206.2 C471.7,204.9 468.6,202.8 466.7,202.1 C464.8,201.4 462.8,202.1 462.1,202.1" fill="none" stroke="#1a1a1a" stroke-width="1.4" stroke-linecap="round" stroke-linejoin="round"/>
<path d="M478.3,209.6 C477.9,208.1 476.9,203.3 476.0,200.4 C475.1,197.5 473.6,193.6 473.1,192.2" fill="none" stroke="#1a1a1a" stroke-width="1.1" stroke-linecap="round" stroke-linejoin="round"/>
<path d="M491.1,215.4 C490.3,214.1 487.5,210.0 486.4,207.3 C485.4,204.6 484.6,201.4 484.7,199.2 C484.8,197.0 486.6,194.8 487.0,194.0" fill="none" stroke="#1a1a1a" stroke-width="1.2" stroke-linecap="round" stroke-linejoin="round"/>
<path d="M484.7,199.2 L482.4,196.9" fill="none" stroke="#1a1a1a" stroke-width="1.0" stroke-linecap="round" stroke-linejoin="round"/>
<path d="M487.6,203.3 C488.8,203.3 492.4,202.4 494.6,203.3 C496.7,204.1 499.0,207.2 500.4,208.5 C501.7,209.7 502.3,210.4 502.7,210.8" fill="none" stroke="#1a1a1a" stroke-width="1.1" stroke-linecap="round" stroke-linejoin="round"/>
<path d="M498.0,216.6 C498.9,215.3 502.9,211.4 503.3,208.5 C503.6,205.6 501.4,201.8 500.4,199.2 C499.3,196.6 497.5,193.9 496.9,192.8" fill="none" stroke="#1a1a1a" stroke-width="1.2" stroke-linecap="round" stroke-linejoin="round"/>
<path d="M488.8,220.1 C487.6,220.1 483.9,220.0 481.8,220.1 C479.7,220.2 477.0,220.6 476.0,220.7" fill="none" stroke="#1a1a1a" stroke-width="1.2" stroke-linecap="round" stroke-linejoin="round"/>
<path d="M480.6,220.1 L478.3,223.0" fill="none" stroke="#1a1a1a" stroke-width="0.9" stroke-linecap="round" stroke-linejoin="round"/>
<path d="M489.9,222.4 C489.3,223.8 488.2,228.4 486.4,230.5 C484.7,232.7 480.6,234.4 479.5,235.2" fill="none" stroke="#1a1a1a" stroke-width="1.2" stroke-linecap="round" stroke-linejoin="round"/>
<path d="M492.2,223.6 C491.8,225.1 490.2,229.8 489.9,232.9 C489.6,236.0 490.4,240.6 490.5,242.1" fill="none" stroke="#1a1a1a" stroke-width="1.2" stroke-linecap="round" stroke-linejoin="round"/>
<path d="M496.9,223.0 C497.5,224.6 500.2,229.7 500.4,232.9 C500.6,236.1 498.8,240.0 498.0,242.1 C497.3,244.3 496.1,245.0 495.7,245.6" fill="none" stroke="#1a1a1a" stroke-width="1.2" stroke-linecap="round" stroke-linejoin="round"/>
<path d="M498.0,242.1 L499.4,246.2" fill="none" stroke="#1a1a1a" stroke-width="1.0" stroke-linecap="round" stroke-linejoin="round"/>
<path d="M499.8,236.3 L502.1,238.7" fill="none" stroke="#1a1a1a" stroke-width="0.9" stroke-linecap="round" stroke-linejoin="round"/>
<path d="M498.0,220.1 C499.2,220.1 502.7,220.1 505.0,220.1 C507.3,220.1 510.8,220.1 512.0,220.1" fill="none" stroke="#1a1a1a" stroke-width="1.2" stroke-linecap="round" stroke-linejoin="round"/>
<path d="M514.3,216.6 C513.5,215.4 510.4,212.4 509.6,209.6 C508.9,206.9 509.1,202.9 509.6,200.4 C510.2,197.8 512.5,195.5 513.1,194.6" fill="none" stroke="#1a1a1a" stroke-width="1.2" stroke-linecap="round" stroke-linejoin="round"/>
<path d="M509.6,200.4 L506.7,198.6" fill="none" stroke="#1a1a1a" stroke-width="1.0" stroke-linecap="round" stroke-linejoin="round"/>
<path d="M520.1,215.4 C520.8,214.5 524.3,211.1 524.2,209.6 C524.0,208.2 520.6,207.3 518.9,206.7 C517.3,206.2 515.1,206.3 514.3,206.2" fill="none" stroke="#1a1a1a" stroke-width="1.1" stroke-linecap="round" stroke-linejoin="round"/>
<path d="M512.0,221.3 C511.0,221.5 507.7,222.6 506.2,223.0 C504.6,223.4 503.2,222.9 502.7,223.6 C502.2,224.3 503.2,226.5 503.3,227.1" fill="none" stroke="#1a1a1a" stroke-width="1.2" stroke-linecap="round" stroke-linejoin="round"/>
<path d="M515.4,223.6 C514.7,224.9 512.7,229.7 510.8,231.7 C508.9,233.7 505.0,235.1 503.8,235.8" fill="none" stroke="#1a1a1a" stroke-width="1.2" stroke-linecap="round" stroke-linejoin="round"/>
<path d="M517.2,224.2 C516.7,225.6 514.6,229.7 514.3,232.9 C514.0,236.1 515.3,241.6 515.4,243.3" fill="none" stroke="#1a1a1a" stroke-width="1.2" stroke-linecap="round" stroke-linejoin="round"/>
<path d="M521.3,223.6 C521.8,225.1 524.3,229.6 524.7,232.9 C525.1,236.2 524.2,241.0 523.6,243.3 C523.0,245.6 521.6,246.2 521.3,246.8" fill="none" stroke="#1a1a1a" stroke-width="1.2" stroke-linecap="round" stroke-linejoin="round"/>
<path d="M523.6,243.3 L525.0,247.4" fill="none" stroke="#1a1a1a" stroke-width="1.0" stroke-linecap="round" stroke-linejoin="round"/>
<path d="M525.3,237.5 L527.3,239.8" fill="none" stroke="#1a1a1a" stroke-width="0.9" stroke-linecap="round" stroke-linejoin="round"/>
<path d="M522.4,221.3 C523.8,221.5 527.8,222.7 530.5,223.0 C533.2,223.3 537.3,223.0 538.7,223.0" fill="none" stroke="#1a1a1a" stroke-width="1.2" stroke-linecap="round" stroke-linejoin="round"/>
<path d="M541.0,220.1 C540.2,218.7 537.3,214.9 536.3,212.0 C535.4,209.1 534.8,205.0 535.2,202.7 C535.6,200.4 538.1,200.4 538.7,198.0 C539.2,195.7 538.7,190.3 538.7,188.8" fill="none" stroke="#1a1a1a" stroke-width="1.1" stroke-linecap="round" stroke-linejoin="round"/>
<path d="M535.2,202.7 L533.4,203.3" fill="none" stroke="#1a1a1a" stroke-width="0.9" stroke-linecap="round" stroke-linejoin="round"/>
<path d="M548.0,220.1 C548.7,219.3 551.4,217.0 552.6,215.4 C553.8,213.9 554.5,211.6 554.9,210.8" fill="none" stroke="#1a1a1a" stroke-width="1.2" stroke-linecap="round" stroke-linejoin="round"/>
<path d="M552.6,215.4 L551.4,209.6" fill="none" stroke="#1a1a1a" stroke-width="1.0" stroke-linecap="round" stroke-linejoin="round"/>
<path d="M550.3,224.7 C551.8,225.0 556.9,226.1 559.6,226.5 C562.3,226.9 565.4,227.0 566.5,227.1" fill="none" stroke="#1a1a1a" stroke-width="1.3" stroke-linecap="round" stroke-linejoin="round"/>
<path d="M563.0,226.8 L567.1,232.9" fill="none" stroke="#1a1a1a" stroke-width="1.0" stroke-linecap="round" stroke-linejoin="round"/>
<path d="M556.1,225.9 L554.9,230.5" fill="none" stroke="#1a1a1a" stroke-width="0.9" stroke-linecap="round" stroke-linejoin="round"/>
<path d="M539.8,223.6 C538.3,223.6 532.7,223.4 530.5,223.6 C528.4,223.8 527.4,224.0 527.1,224.7 C526.7,225.5 528.0,227.6 528.2,228.2" fill="none" stroke="#1a1a1a" stroke-width="1.1" stroke-linecap="round" stroke-linejoin="round"/>
<path d="M542.1,227.1 C541.4,228.4 539.4,233.1 537.5,235.2 C535.6,237.3 531.7,239.1 530.5,239.8" fill="none" stroke="#1a1a1a" stroke-width="1.2" stroke-linecap="round" stroke-linejoin="round"/>
<path d="M535.2,229.4 L534.6,236.3" fill="none" stroke="#1a1a1a" stroke-width="0.9" stroke-linecap="round" stroke-linejoin="round"/>
<path d="M544.5,228.2 C544.1,229.8 542.4,234.4 542.1,237.5 C541.9,240.6 542.6,245.2 542.7,246.8" fill="none" stroke="#1a1a1a" stroke-width="1.2" stroke-linecap="round" stroke-linejoin="round"/>
<path d="M548.0,227.6 C548.5,229.3 551.0,234.3 551.4,237.5 C551.8,240.7 550.9,244.8 550.3,246.8 C549.6,248.8 547.9,249.2 547.4,249.7" fill="none" stroke="#1a1a1a" stroke-width="1.2" stroke-linecap="round" stroke-linejoin="round"/>
<path d="M550.3,246.8 L551.1,250.3" fill="none" stroke="#1a1a1a" stroke-width="1.0" stroke-linecap="round" stroke-linejoin="round"/>
<path d="M552.0,241.0 L553.8,242.7" fill="none" stroke="#1a1a1a" stroke-width="0.9" stroke-linecap="round" stroke-linejoin="round"/>
<ellipse cx="493.4" cy="218.4" rx="5.4" ry="4.2" fill="#1a1a1a"/>
<ellipse cx="517.2" cy="219.5" rx="5.4" ry="4.2" fill="#1a1a1a"/>
<ellipse cx="544.5" cy="223.0" rx="5.4" ry="4.2" fill="#1a1a1a"/>
<path d="M488.2,46.3 C489,38.5 510,34.6 528.8,34.6 C548,34.6 569,38.5 569.4,46.3 C569.4,48.6 488.2,48.6 488.2,46.3 Z" fill="#1a1a1a"/>
<rect x="524.0" y="46" width="8.6" height="122.4" rx="1.5" fill="#1a1a1a"/>
<rect x="526.6" y="47.5" width="3.4" height="119.1" fill="#c9282d"/>
<ellipse cx="530.5" cy="146.4" rx="106.8" ry="113.6" fill="none" stroke="#c9282d" stroke-width="3"/>
</g>
<line x1="202.0" y1="247.4" x2="202.0" y2="550.0" stroke="#231f20" stroke-width="3.0" stroke-linecap="butt"/>
<line x1="193.1" y1="548.5" x2="832.4" y2="548.5" stroke="#231f20" stroke-width="3.2" stroke-linecap="butt"/>
<line x1="193.1" y1="298.6" x2="202.0" y2="298.6" stroke="#231f20" stroke-width="3.3" stroke-linecap="butt"/>
<text x="190.7" y="310.2" font-size="33" text-anchor="end"  letter-spacing="0.30">100</text>
<line x1="193.1" y1="423.5" x2="202.0" y2="423.5" stroke="#231f20" stroke-width="3.3" stroke-linecap="butt"/>
<text x="190.7" y="435.1" font-size="33" text-anchor="end"  letter-spacing="0.30">50</text>
<line x1="193.1" y1="548.5" x2="202.0" y2="548.5" stroke="#231f20" stroke-width="3.3" stroke-linecap="butt"/>
<text x="190.7" y="560.1" font-size="33" text-anchor="end"  letter-spacing="0.30">0</text>
<line x1="327.6" y1="548.5" x2="327.6" y2="557.1" stroke="#231f20" stroke-width="3.6" stroke-linecap="butt"/>
<line x1="516.6" y1="548.5" x2="516.6" y2="557.1" stroke="#231f20" stroke-width="3.6" stroke-linecap="butt"/>
<line x1="705.8" y1="548.5" x2="705.8" y2="557.1" stroke="#231f20" stroke-width="3.6" stroke-linecap="butt"/>
<rect x="266.2" y="415.5" width="128.7" height="133.7" fill="#999999"/>
<rect x="459.5" y="477.1" width="129.3" height="72.1" fill="#9d5fa9"/>
<rect x="653.3" y="492.6" width="128.9" height="56.6" fill="#7f2a7f"/>
<line x1="330.6" y1="408.0" x2="330.6" y2="423.0" stroke="#231f20" stroke-width="4.3" stroke-linecap="butt"/>
<line x1="298.3" y1="408.0" x2="362.7" y2="408.0" stroke="#231f20" stroke-width="4.3" stroke-linecap="butt"/>
<line x1="298.3" y1="423.0" x2="362.7" y2="423.0" stroke="#231f20" stroke-width="4.3" stroke-linecap="butt"/>
<line x1="524.0" y1="472.9" x2="524.0" y2="482.2" stroke="#231f20" stroke-width="4.3" stroke-linecap="butt"/>
<line x1="492.2" y1="472.9" x2="556.5" y2="472.9" stroke="#231f20" stroke-width="4.3" stroke-linecap="butt"/>
<line x1="492.2" y1="482.2" x2="556.5" y2="482.2" stroke="#231f20" stroke-width="4.3" stroke-linecap="butt"/>
<line x1="717.6" y1="484.3" x2="717.6" y2="501.4" stroke="#231f20" stroke-width="4.3" stroke-linecap="butt"/>
<line x1="685.4" y1="484.3" x2="749.9" y2="484.3" stroke="#231f20" stroke-width="4.3" stroke-linecap="butt"/>
<line x1="685.4" y1="501.4" x2="749.9" y2="501.4" stroke="#231f20" stroke-width="4.3" stroke-linecap="butt"/>
<g fill="#1c1c1c"><circle cx="321.9" cy="299.0" r="6.1"/><circle cx="340.1" cy="298.4" r="6.1"/><circle cx="321.9" cy="323.5" r="6.1"/><circle cx="340.1" cy="323.5" r="6.1"/><circle cx="312.9" cy="347.3" r="6.1"/><circle cx="330.6" cy="351.4" r="6.1"/><circle cx="348.8" cy="348.6" r="6.1"/><circle cx="285.6" cy="354.7" r="6.1"/><circle cx="375.7" cy="359.0" r="6.1"/><circle cx="303.7" cy="363.4" r="6.1"/><circle cx="321.9" cy="368.6" r="6.1"/><circle cx="358.1" cy="367.3" r="6.1"/><circle cx="339.7" cy="372.7" r="6.1"/><circle cx="389.3" cy="392.4" r="6.1"/><circle cx="272.3" cy="398.4" r="6.1"/><circle cx="285.3" cy="398.4" r="6.1"/><circle cx="363.7" cy="398.9" r="6.1"/><circle cx="376.3" cy="398.4" r="6.1"/><circle cx="298.3" cy="403.9" r="6.1"/><circle cx="350.3" cy="405.8" r="6.1"/><circle cx="311.3" cy="407.3" r="6.1"/><circle cx="324.3" cy="408.6" r="6.1"/><circle cx="337.3" cy="408.6" r="6.1"/><circle cx="294.9" cy="410.8" r="6.1"/><circle cx="366.8" cy="410.4" r="6.1"/><circle cx="348.8" cy="414.7" r="6.1"/><circle cx="312.6" cy="419.7" r="6.1"/><circle cx="330.6" cy="428.1" r="6.1"/><circle cx="384.6" cy="440.2" r="6.1"/><circle cx="276.7" cy="444.2" r="6.1"/><circle cx="294.6" cy="453.2" r="6.1"/><circle cx="366.4" cy="451.9" r="6.1"/><circle cx="349.2" cy="454.1" r="6.1"/><circle cx="312.6" cy="456.9" r="6.1"/><circle cx="321.9" cy="458.4" r="6.1"/><circle cx="339.9" cy="458.4" r="6.1"/><circle cx="281.0" cy="458.4" r="6.1"/><circle cx="380.4" cy="462.4" r="6.1"/><circle cx="292.1" cy="466.7" r="6.1"/><circle cx="303.3" cy="466.7" r="6.1"/><circle cx="369.2" cy="467.1" r="6.1"/><circle cx="358.1" cy="469.5" r="6.1"/><circle cx="314.1" cy="470.8" r="6.1"/><circle cx="347.3" cy="473.6" r="6.1"/><circle cx="325.0" cy="474.1" r="6.1"/><circle cx="336.2" cy="475.8" r="6.1"/><circle cx="312.6" cy="483.8" r="6.1"/><circle cx="348.8" cy="489.4" r="6.1"/><circle cx="330.6" cy="498.3" r="6.1"/></g>
<g fill="#1c1c1c"><circle cx="497.3" cy="439.2" r="6.1"/><circle cx="515.2" cy="451.8" r="6.1"/><circle cx="533.1" cy="452.2" r="6.1"/><circle cx="551.2" cy="450.4" r="6.1"/><circle cx="580.7" cy="456.6" r="6.1"/><circle cx="468.3" cy="461.5" r="6.1"/><circle cx="564.2" cy="462.9" r="6.1"/><circle cx="484.1" cy="465.9" r="6.1"/><circle cx="500.1" cy="470.3" r="6.1"/><circle cx="548.4" cy="467.8" r="6.1"/><circle cx="516.1" cy="472.4" r="6.1"/><circle cx="532.1" cy="472.0" r="6.1"/><circle cx="497.3" cy="475.9" r="6.1"/><circle cx="560.2" cy="476.4" r="6.1"/><circle cx="515.2" cy="489.8" r="6.1"/><circle cx="542.1" cy="492.8" r="6.1"/><circle cx="479.4" cy="502.6" r="6.1"/><circle cx="497.3" cy="503.1" r="6.1"/><circle cx="551.2" cy="503.1" r="6.1"/><circle cx="569.3" cy="500.5" r="6.1"/><circle cx="533.1" cy="508.2" r="6.1"/><circle cx="515.2" cy="516.3" r="6.1"/></g>
<g fill="#1c1c1c"><circle cx="708.6" cy="411.4" r="6.1"/><circle cx="735.7" cy="412.8" r="6.1"/><circle cx="726.7" cy="428.8" r="6.1"/><circle cx="699.8" cy="434.1" r="6.1"/><circle cx="708.6" cy="444.1" r="6.1"/><circle cx="726.7" cy="456.6" r="6.1"/><circle cx="699.8" cy="463.6" r="6.1"/><circle cx="735.7" cy="465.0" r="6.1"/><circle cx="717.6" cy="479.4" r="6.1"/><circle cx="663.8" cy="508.4" r="6.1"/><circle cx="681.9" cy="513.7" r="6.1"/><circle cx="699.8" cy="519.3" r="6.1"/><circle cx="717.6" cy="519.3" r="6.1"/><circle cx="735.7" cy="514.2" r="6.1"/><circle cx="753.6" cy="510.7" r="6.1"/><circle cx="771.7" cy="508.4" r="6.1"/><circle cx="661.7" cy="523.7" r="6.1"/><circle cx="677.7" cy="526.3" r="6.1"/><circle cx="693.7" cy="529.8" r="6.1"/><circle cx="709.7" cy="538.1" r="6.1"/><circle cx="725.5" cy="535.6" r="6.1"/><circle cx="741.8" cy="528.6" r="6.1"/><circle cx="757.6" cy="525.8" r="6.1"/><circle cx="773.8" cy="521.2" r="6.1"/></g>
<text x="522.5" y="326.3" font-size="44" text-anchor="middle" letter-spacing="2.9" stroke="#231f20" stroke-width="0.5">****</text>
<text x="713.0" y="326.3" font-size="44" text-anchor="middle" letter-spacing="2.9" stroke="#231f20" stroke-width="0.5">****</text>
<text x="330.8" y="589.6" font-size="33" text-anchor="middle"  letter-spacing="0.40">NT shRNA</text>
<text x="330.7" y="626.7" font-size="33" text-anchor="middle"  letter-spacing="0.25">Score = 0</text>
<text x="524.6" y="589.6" font-size="33" text-anchor="middle"  letter-spacing="0.95">Torsin A KD</text>
<text x="718.2" y="589.6" font-size="33" text-anchor="middle"  letter-spacing="0.95">Torsin A KD</text>
<text y="626.7" font-size="33"><tspan x="438.1">2</tspan><tspan x="462.5" dy="-1.5" font-size="38" font-family="'Liberation Serif', 'DejaVu Serif', serif">&gt;</tspan><tspan x="485.2" dy="1.5">Score</tspan><tspan x="571.3" font-family="'Liberation Serif', 'DejaVu Serif', serif" dy="3.5" font-size="36">≥</tspan><tspan x="591.4" dy="-3.5">1</tspan></text>
<text y="626.7" font-size="33"><tspan x="656.0">Score</tspan><tspan x="741.2" font-family="'Liberation Serif', 'DejaVu Serif', serif" dy="3.5" font-size="36">≥</tspan><tspan x="760.7" dy="-3.5">3</tspan></text>
<text transform="translate(88.0,389.9) rotate(-90)" font-size="33" text-anchor="middle" letter-spacing="0.25">Average Firing</text>
<text transform="translate(128.2,390.4) rotate(-90)" font-size="33" text-anchor="middle" letter-spacing="0.25">Rate (sp/s)</text>
<text x="63.1" y="264.8" font-size="50" text-anchor="start" >A</text>
<line x1="204.4" y1="677.1" x2="204.4" y2="734.5" stroke="#231f20" stroke-width="3.0" stroke-linecap="butt"/>
<line x1="204.4" y1="757.4" x2="204.4" y2="980.5" stroke="#231f20" stroke-width="3.0" stroke-linecap="butt"/>
<line x1="195.5" y1="979.0" x2="851.4" y2="979.0" stroke="#231f20" stroke-width="3.2" stroke-linecap="butt"/>
<line x1="195.5" y1="678.6" x2="204.4" y2="678.6" stroke="#231f20" stroke-width="3.3" stroke-linecap="butt"/>
<text x="193.1" y="694.8" font-size="33" text-anchor="end"  letter-spacing="0.30">400</text>
<line x1="195.5" y1="708.4" x2="204.4" y2="708.4" stroke="#231f20" stroke-width="3.3" stroke-linecap="butt"/>
<text x="193.1" y="725.1" font-size="33" text-anchor="end"  letter-spacing="0.30">320</text>
<line x1="195.5" y1="757.4" x2="204.4" y2="757.4" stroke="#231f20" stroke-width="3.3" stroke-linecap="butt"/>
<text x="193.1" y="768.0" font-size="33" text-anchor="end"  letter-spacing="0.30">200</text>
<line x1="195.5" y1="813.0" x2="204.4" y2="813.0" stroke="#231f20" stroke-width="3.3" stroke-linecap="butt"/>
<text x="193.1" y="824.6" font-size="33" text-anchor="end"  letter-spacing="0.30">150</text>
<line x1="195.5" y1="868.7" x2="204.4" y2="868.7" stroke="#231f20" stroke-width="3.3" stroke-linecap="butt"/>
<text x="193.1" y="880.3" font-size="33" text-anchor="end"  letter-spacing="0.30">100</text>
<line x1="195.5" y1="923.9" x2="204.4" y2="923.9" stroke="#231f20" stroke-width="3.3" stroke-linecap="butt"/>
<text x="193.1" y="935.5" font-size="33" text-anchor="end"  letter-spacing="0.30">50</text>
<line x1="195.5" y1="979.0" x2="204.4" y2="979.0" stroke="#231f20" stroke-width="3.3" stroke-linecap="butt"/>
<text x="193.1" y="990.6" font-size="33" text-anchor="end"  letter-spacing="0.30">0</text>
<line x1="196.7" y1="734.5" x2="212.0" y2="734.5" stroke="#231f20" stroke-width="3.0" stroke-linecap="butt"/>
<line x1="196.7" y1="757.4" x2="212.0" y2="757.4" stroke="#231f20" stroke-width="3.0" stroke-linecap="butt"/>
<line x1="333.2" y1="979.0" x2="333.2" y2="987.6" stroke="#231f20" stroke-width="3.6" stroke-linecap="butt"/>
<line x1="526.3" y1="979.0" x2="526.3" y2="987.6" stroke="#231f20" stroke-width="3.6" stroke-linecap="butt"/>
<line x1="719.7" y1="979.0" x2="719.7" y2="987.6" stroke="#231f20" stroke-width="3.6" stroke-linecap="butt"/>
<rect x="269.1" y="907.4" width="128.7" height="72.3" fill="#999999"/>
<rect x="462.2" y="907.7" width="129.6" height="72.0" fill="#9d5fa9"/>
<rect x="656.4" y="862.4" width="128.4" height="117.3" fill="#7f2a7f"/>
<line x1="333.3" y1="902.2" x2="333.3" y2="912.0" stroke="#231f20" stroke-width="4.3" stroke-linecap="butt"/>
<line x1="301.1" y1="902.2" x2="365.8" y2="902.2" stroke="#231f20" stroke-width="4.3" stroke-linecap="butt"/>
<line x1="301.1" y1="912.0" x2="365.8" y2="912.0" stroke="#231f20" stroke-width="4.3" stroke-linecap="butt"/>
<line x1="526.8" y1="888.7" x2="526.8" y2="926.7" stroke="#231f20" stroke-width="4.3" stroke-linecap="butt"/>
<line x1="494.5" y1="888.7" x2="558.8" y2="888.7" stroke="#231f20" stroke-width="4.3" stroke-linecap="butt"/>
<line x1="494.5" y1="926.7" x2="558.8" y2="926.7" stroke="#231f20" stroke-width="4.3" stroke-linecap="butt"/>
<line x1="720.2" y1="837.3" x2="720.2" y2="887.3" stroke="#231f20" stroke-width="4.3" stroke-linecap="butt"/>
<line x1="688.2" y1="837.3" x2="752.7" y2="837.3" stroke="#231f20" stroke-width="4.3" stroke-linecap="butt"/>
<line x1="688.2" y1="887.3" x2="752.7" y2="887.3" stroke="#231f20" stroke-width="4.3" stroke-linecap="butt"/>
<g fill="#1c1c1c"><circle cx="333.7" cy="778.4" r="6.1"/><circle cx="315.6" cy="848.2" r="6.1"/><circle cx="333.7" cy="849.6" r="6.1"/><circle cx="351.8" cy="848.2" r="6.1"/><circle cx="297.4" cy="862.2" r="6.1"/><circle cx="315.5" cy="873.5" r="6.1"/><circle cx="333.1" cy="873.7" r="6.1"/><circle cx="351.1" cy="873.5" r="6.1"/><circle cx="369.4" cy="870.9" r="6.1"/><circle cx="277.2" cy="882.4" r="6.1"/><circle cx="291.3" cy="882.4" r="6.1"/><circle cx="375.5" cy="882.4" r="6.1"/><circle cx="389.5" cy="882.4" r="6.1"/><circle cx="305.4" cy="890.2" r="6.1"/><circle cx="347.3" cy="890.2" r="6.1"/><circle cx="361.4" cy="890.2" r="6.1"/><circle cx="319.5" cy="896.6" r="6.1"/><circle cx="333.1" cy="896.6" r="6.1"/><circle cx="342.7" cy="901.8" r="6.1"/><circle cx="324.4" cy="902.7" r="6.1"/><circle cx="277.8" cy="907.4" r="6.1"/><circle cx="284.4" cy="907.0" r="6.1"/><circle cx="290.9" cy="907.0" r="6.1"/><circle cx="374.9" cy="907.4" r="6.1"/><circle cx="381.4" cy="907.0" r="6.1"/><circle cx="388.0" cy="907.4" r="6.1"/><circle cx="296.6" cy="910.5" r="6.1"/><circle cx="301.8" cy="911.4" r="6.1"/><circle cx="307.4" cy="912.2" r="6.1"/><circle cx="313.1" cy="912.7" r="6.1"/><circle cx="319.2" cy="914.0" r="6.1"/><circle cx="324.9" cy="916.6" r="6.1"/><circle cx="329.6" cy="919.6" r="6.1"/><circle cx="335.7" cy="919.6" r="6.1"/><circle cx="340.5" cy="916.6" r="6.1"/><circle cx="345.8" cy="914.0" r="6.1"/><circle cx="351.4" cy="912.7" r="6.1"/><circle cx="357.1" cy="911.8" r="6.1"/><circle cx="362.7" cy="910.9" r="6.1"/><circle cx="368.4" cy="909.2" r="6.1"/><circle cx="279.3" cy="922.2" r="6.1"/><circle cx="369.4" cy="922.2" r="6.1"/><circle cx="387.3" cy="922.2" r="6.1"/><circle cx="297.4" cy="929.6" r="6.1"/><circle cx="351.1" cy="932.7" r="6.1"/><circle cx="315.5" cy="937.0" r="6.1"/><circle cx="333.4" cy="938.8" r="6.1"/><circle cx="274.8" cy="941.4" r="6.1"/><circle cx="392.1" cy="941.4" r="6.1"/><circle cx="287.9" cy="947.5" r="6.1"/><circle cx="378.8" cy="947.1" r="6.1"/><circle cx="300.9" cy="950.1" r="6.1"/><circle cx="365.9" cy="950.1" r="6.1"/><circle cx="313.8" cy="954.9" r="6.1"/><circle cx="352.9" cy="954.5" r="6.1"/><circle cx="326.9" cy="958.2" r="6.1"/><circle cx="339.8" cy="956.2" r="6.1"/></g>
<g fill="#1c1c1c"><circle cx="526.8" cy="831.1" r="6.1"/><circle cx="544.9" cy="873.6" r="6.1"/><circle cx="508.7" cy="882.2" r="6.1"/><circle cx="526.8" cy="890.3" r="6.1"/><circle cx="535.9" cy="911.9" r="6.1"/><circle cx="508.7" cy="919.3" r="6.1"/><circle cx="481.5" cy="925.6" r="6.1"/><circle cx="571.8" cy="925.1" r="6.1"/><circle cx="499.6" cy="929.7" r="6.1"/><circle cx="554.0" cy="933.7" r="6.1"/><circle cx="517.8" cy="935.5" r="6.1"/><circle cx="535.9" cy="939.0" r="6.1"/><circle cx="470.6" cy="941.8" r="6.1"/><circle cx="485.0" cy="942.5" r="6.1"/><circle cx="583.0" cy="943.0" r="6.1"/><circle cx="568.8" cy="944.8" r="6.1"/><circle cx="498.9" cy="949.0" r="6.1"/><circle cx="554.9" cy="950.6" r="6.1"/><circle cx="512.6" cy="955.3" r="6.1"/><circle cx="541.0" cy="956.4" r="6.1"/><circle cx="526.8" cy="959.5" r="6.1"/></g>
<g fill="#1c1c1c"><circle cx="711.1" cy="679.5" r="6.1"/><circle cx="729.5" cy="679.5" r="6.1"/><circle cx="720.2" cy="720.8" r="6.1"/><circle cx="729.5" cy="790.7" r="6.1"/><circle cx="711.1" cy="809.0" r="6.1"/><circle cx="711.1" cy="831.1" r="6.1"/><circle cx="729.5" cy="848.5" r="6.1"/><circle cx="720.2" cy="877.0" r="6.1"/><circle cx="756.2" cy="890.3" r="6.1"/><circle cx="684.2" cy="896.5" r="6.1"/><circle cx="738.3" cy="896.5" r="6.1"/><circle cx="702.1" cy="902.6" r="6.1"/><circle cx="720.2" cy="902.6" r="6.1"/><circle cx="747.4" cy="907.7" r="6.1"/><circle cx="693.3" cy="919.3" r="6.1"/><circle cx="711.1" cy="925.6" r="6.1"/><circle cx="729.5" cy="925.6" r="6.1"/><circle cx="738.3" cy="930.2" r="6.1"/><circle cx="702.1" cy="933.7" r="6.1"/><circle cx="720.2" cy="944.8" r="6.1"/><circle cx="693.3" cy="956.9" r="6.1"/><circle cx="747.4" cy="955.7" r="6.1"/><circle cx="729.5" cy="960.6" r="6.1"/><circle cx="711.1" cy="965.7" r="6.1"/></g>
<text x="528.5" y="707.0" font-size="44" text-anchor="middle" letter-spacing="2.9" stroke="#231f20" stroke-width="0.5">**</text>
<text x="333.6" y="1019.6" font-size="33" text-anchor="middle"  letter-spacing="0.40">NT shRNA</text>
<text x="333.5" y="1056.7" font-size="33" text-anchor="middle"  letter-spacing="0.25">Score = 0</text>
<text x="527.5" y="1019.6" font-size="33" text-anchor="middle"  letter-spacing="0.95">Torsin A KD</text>
<text x="721.0" y="1019.6" font-size="33" text-anchor="middle"  letter-spacing="0.95">Torsin A KD</text>
<text y="1056.7" font-size="33"><tspan x="441.0">2</tspan><tspan x="465.4" dy="-1.5" font-size="38" font-family="'Liberation Serif', 'DejaVu Serif', serif">&gt;</tspan><tspan x="488.1" dy="1.5">Score</tspan><tspan x="574.2" font-family="'Liberation Serif', 'DejaVu Serif', serif" dy="3.5" font-size="36">≥</tspan><tspan x="594.3" dy="-3.5">1</tspan></text>
<text y="1056.7" font-size="33"><tspan x="658.8">Score</tspan><tspan x="744.0" font-family="'Liberation Serif', 'DejaVu Serif', serif" dy="3.5" font-size="36">≥</tspan><tspan x="763.5" dy="-3.5">3</tspan></text>
<text transform="translate(81.8,825.6) rotate(-90)" font-size="33" text-anchor="middle" letter-spacing="0.25">Predominant</text>
<text transform="translate(122.4,825.0) rotate(-90)" font-size="33" text-anchor="middle" letter-spacing="0.25">Firing Rate (sp/s)</text>
<text x="52.7" y="692.2" font-size="50" text-anchor="start" >B</text>
<line x1="173.0" y1="1102.5" x2="173.0" y2="1405.1" stroke="#231f20" stroke-width="3.0" stroke-linecap="butt"/>
<line x1="164.1" y1="1403.6" x2="820.1" y2="1403.6" stroke="#231f20" stroke-width="3.2" stroke-linecap="butt"/>
<line x1="164.1" y1="1122.2" x2="173.0" y2="1122.2" stroke="#231f20" stroke-width="3.3" stroke-linecap="butt"/>
<text x="161.7" y="1133.8" font-size="33" text-anchor="end"  letter-spacing="0.30">3</text>
<line x1="164.1" y1="1215.8" x2="173.0" y2="1215.8" stroke="#231f20" stroke-width="3.3" stroke-linecap="butt"/>
<text x="161.7" y="1227.4" font-size="33" text-anchor="end"  letter-spacing="0.30">2</text>
<line x1="164.1" y1="1309.5" x2="173.0" y2="1309.5" stroke="#231f20" stroke-width="3.3" stroke-linecap="butt"/>
<text x="161.7" y="1321.1" font-size="33" text-anchor="end"  letter-spacing="0.30">1</text>
<line x1="164.1" y1="1403.6" x2="173.0" y2="1403.6" stroke="#231f20" stroke-width="3.3" stroke-linecap="butt"/>
<text x="161.7" y="1415.2" font-size="33" text-anchor="end"  letter-spacing="0.30">0</text>
<line x1="301.9" y1="1403.6" x2="301.9" y2="1412.2" stroke="#231f20" stroke-width="3.6" stroke-linecap="butt"/>
<line x1="495.3" y1="1403.6" x2="495.3" y2="1412.2" stroke="#231f20" stroke-width="3.6" stroke-linecap="butt"/>
<line x1="688.8" y1="1403.6" x2="688.8" y2="1412.2" stroke="#231f20" stroke-width="3.6" stroke-linecap="butt"/>
<rect x="237.3" y="1348.6" width="129.6" height="55.7" fill="#a0a0a3"/>
<rect x="431.2" y="1332.3" width="129.2" height="72.0" fill="#9d5fa9"/>
<rect x="624.5" y="1260.2" width="129.2" height="144.1" fill="#7f2a7f"/>
<line x1="302.0" y1="1342.0" x2="302.0" y2="1349.0" stroke="#231f20" stroke-width="4.3" stroke-linecap="butt"/>
<line x1="270.0" y1="1342.0" x2="334.5" y2="1342.0" stroke="#231f20" stroke-width="4.3" stroke-linecap="butt"/>
<line x1="270.0" y1="1349.0" x2="334.5" y2="1349.0" stroke="#231f20" stroke-width="4.3" stroke-linecap="butt"/>
<line x1="495.3" y1="1322.3" x2="495.3" y2="1342.7" stroke="#231f20" stroke-width="4.3" stroke-linecap="butt"/>
<line x1="463.1" y1="1322.3" x2="527.7" y2="1322.3" stroke="#231f20" stroke-width="4.3" stroke-linecap="butt"/>
<line x1="463.1" y1="1342.7" x2="527.7" y2="1342.7" stroke="#231f20" stroke-width="4.3" stroke-linecap="butt"/>
<line x1="688.8" y1="1247.2" x2="688.8" y2="1272.5" stroke="#231f20" stroke-width="4.3" stroke-linecap="butt"/>
<line x1="656.6" y1="1247.2" x2="721.3" y2="1247.2" stroke="#231f20" stroke-width="4.3" stroke-linecap="butt"/>
<line x1="656.6" y1="1272.5" x2="721.3" y2="1272.5" stroke="#231f20" stroke-width="4.3" stroke-linecap="butt"/>
<g fill="#1c1c1c"><circle cx="281.7" cy="1286.8" r="6.1"/><circle cx="322.5" cy="1289.8" r="6.1"/><circle cx="295.2" cy="1300.0" r="6.1"/><circle cx="308.8" cy="1300.0" r="6.1"/><circle cx="275.0" cy="1314.0" r="6.1"/><circle cx="329.2" cy="1314.0" r="6.1"/><circle cx="288.5" cy="1322.0" r="6.1"/><circle cx="302.0" cy="1325.7" r="6.1"/><circle cx="315.7" cy="1324.7" r="6.1"/><circle cx="248.2" cy="1330.7" r="6.1"/><circle cx="356.1" cy="1329.2" r="6.1"/><circle cx="261.5" cy="1335.7" r="6.1"/><circle cx="342.7" cy="1331.5" r="6.1"/><circle cx="329.2" cy="1337.9" r="6.1"/><circle cx="275.0" cy="1341.0" r="6.1"/><circle cx="288.5" cy="1341.8" r="6.1"/><circle cx="302.0" cy="1341.8" r="6.1"/><circle cx="315.7" cy="1341.0" r="6.1"/><circle cx="241.9" cy="1344.4" r="6.1"/><circle cx="250.2" cy="1345.7" r="6.1"/><circle cx="362.5" cy="1344.4" r="6.1"/><circle cx="354.2" cy="1344.9" r="6.1"/><circle cx="345.5" cy="1345.7" r="6.1"/><circle cx="336.8" cy="1346.6" r="6.1"/><circle cx="257.6" cy="1346.6" r="6.1"/><circle cx="264.6" cy="1348.4" r="6.1"/><circle cx="271.5" cy="1350.1" r="6.1"/><circle cx="278.5" cy="1352.3" r="6.1"/><circle cx="285.5" cy="1354.0" r="6.1"/><circle cx="292.4" cy="1355.8" r="6.1"/><circle cx="299.4" cy="1356.6" r="6.1"/><circle cx="306.4" cy="1355.8" r="6.1"/><circle cx="313.3" cy="1353.6" r="6.1"/><circle cx="320.3" cy="1351.4" r="6.1"/><circle cx="327.2" cy="1349.7" r="6.1"/><circle cx="243.7" cy="1357.9" r="6.1"/><circle cx="256.7" cy="1358.6" r="6.1"/><circle cx="347.7" cy="1360.1" r="6.1"/><circle cx="360.5" cy="1357.9" r="6.1"/><circle cx="269.8" cy="1364.5" r="6.1"/><circle cx="282.4" cy="1366.2" r="6.1"/><circle cx="295.2" cy="1368.4" r="6.1"/><circle cx="308.5" cy="1370.1" r="6.1"/><circle cx="321.6" cy="1367.5" r="6.1"/><circle cx="334.6" cy="1364.5" r="6.1"/><circle cx="275.0" cy="1373.6" r="6.1"/><circle cx="329.2" cy="1374.9" r="6.1"/><circle cx="288.5" cy="1378.0" r="6.1"/><circle cx="315.7" cy="1379.7" r="6.1"/><circle cx="302.0" cy="1385.4" r="6.1"/></g>
<g fill="#1c1c1c"><circle cx="495.8" cy="1179.8" r="6.1"/><circle cx="495.8" cy="1252.1" r="6.1"/><circle cx="495.8" cy="1266.6" r="6.1"/><circle cx="495.8" cy="1310.0" r="6.1"/><circle cx="488.9" cy="1321.0" r="6.1"/><circle cx="502.7" cy="1326.6" r="6.1"/><circle cx="529.7" cy="1333.0" r="6.1"/><circle cx="461.8" cy="1337.6" r="6.1"/><circle cx="516.2" cy="1338.1" r="6.1"/><circle cx="475.3" cy="1339.4" r="6.1"/><circle cx="488.9" cy="1344.5" r="6.1"/><circle cx="502.7" cy="1343.8" r="6.1"/><circle cx="454.9" cy="1351.4" r="6.1"/><circle cx="536.6" cy="1354.0" r="6.1"/><circle cx="468.4" cy="1358.1" r="6.1"/><circle cx="523.1" cy="1358.1" r="6.1"/><circle cx="488.9" cy="1359.8" r="6.1"/><circle cx="509.3" cy="1361.1" r="6.1"/><circle cx="475.3" cy="1365.7" r="6.1"/><circle cx="516.2" cy="1365.0" r="6.1"/><circle cx="502.7" cy="1370.1" r="6.1"/><circle cx="488.9" cy="1375.9" r="6.1"/></g>
<g fill="#1c1c1c"><circle cx="689.1" cy="1119.3" r="6.1"/><circle cx="689.1" cy="1156.1" r="6.1"/><circle cx="682.2" cy="1170.4" r="6.1"/><circle cx="695.7" cy="1182.9" r="6.1"/><circle cx="689.1" cy="1212.5" r="6.1"/><circle cx="682.2" cy="1237.3" r="6.1"/><circle cx="695.7" cy="1238.5" r="6.1"/><circle cx="668.6" cy="1243.7" r="6.1"/><circle cx="709.5" cy="1241.6" r="6.1"/><circle cx="682.2" cy="1253.9" r="6.1"/><circle cx="695.7" cy="1253.4" r="6.1"/><circle cx="668.6" cy="1267.9" r="6.1"/><circle cx="709.5" cy="1269.2" r="6.1"/><circle cx="682.2" cy="1279.4" r="6.1"/><circle cx="695.7" cy="1280.7" r="6.1"/><circle cx="675.3" cy="1286.6" r="6.1"/><circle cx="702.6" cy="1291.7" r="6.1"/><circle cx="689.1" cy="1294.2" r="6.1"/><circle cx="675.3" cy="1309.3" r="6.1"/><circle cx="702.6" cy="1309.3" r="6.1"/><circle cx="689.1" cy="1321.0" r="6.1"/><circle cx="675.3" cy="1338.1" r="6.1"/><circle cx="689.1" cy="1345.3" r="6.1"/><circle cx="702.6" cy="1344.5" r="6.1"/></g>
<text x="690.0" y="1122.0" font-size="44" text-anchor="middle" letter-spacing="2.9" stroke="#231f20" stroke-width="0.5">****</text>
<text x="302.5" y="1444.2" font-size="33" text-anchor="middle"  letter-spacing="0.40">NT shRNA</text>
<text x="302.4" y="1482.2" font-size="33" text-anchor="middle"  letter-spacing="0.25">Score = 0</text>
<text x="496.3" y="1444.2" font-size="33" text-anchor="middle"  letter-spacing="0.95">Torsin A KD</text>
<text x="690.0" y="1444.2" font-size="33" text-anchor="middle"  letter-spacing="0.95">Torsin A KD</text>
<text y="1482.2" font-size="33"><tspan x="409.8">2</tspan><tspan x="434.2" dy="-1.5" font-size="38" font-family="'Liberation Serif', 'DejaVu Serif', serif">&gt;</tspan><tspan x="456.9" dy="1.5">Score</tspan><tspan x="543.0" font-family="'Liberation Serif', 'DejaVu Serif', serif" dy="3.5" font-size="36">≥</tspan><tspan x="563.1" dy="-3.5">1</tspan></text>
<text y="1482.2" font-size="33"><tspan x="627.8">Score</tspan><tspan x="713.0" font-family="'Liberation Serif', 'DejaVu Serif', serif" dy="3.5" font-size="36">≥</tspan><tspan x="732.5" dy="-3.5">3</tspan></text>
<text transform="translate(85.7,1247.5) rotate(-90)" font-size="33" text-anchor="middle" letter-spacing="0.25">ISI Coefficient</text>
<text transform="translate(126.4,1248.9) rotate(-90)" font-size="33" text-anchor="middle" letter-spacing="0.25">of Variation</text>
<text x="54.2" y="1118.7" font-size="50" text-anchor="start" >C</text>
<line x1="1040.2" y1="259.8" x2="1040.2" y2="563.2" stroke="#231f20" stroke-width="3.0" stroke-linecap="butt"/>
<line x1="1031.3" y1="561.7" x2="1686.8" y2="561.7" stroke="#231f20" stroke-width="3.2" stroke-linecap="butt"/>
<line x1="1031.3" y1="261.3" x2="1040.2" y2="261.3" stroke="#231f20" stroke-width="3.3" stroke-linecap="butt"/>
<text x="1028.9" y="272.9" font-size="33" text-anchor="end"  letter-spacing="0.30">120</text>
<line x1="1031.3" y1="361.5" x2="1040.2" y2="361.5" stroke="#231f20" stroke-width="3.3" stroke-linecap="butt"/>
<text x="1028.9" y="373.1" font-size="33" text-anchor="end"  letter-spacing="0.30">80</text>
<line x1="1031.3" y1="461.5" x2="1040.2" y2="461.5" stroke="#231f20" stroke-width="3.3" stroke-linecap="butt"/>
<text x="1028.9" y="473.1" font-size="33" text-anchor="end"  letter-spacing="0.30">40</text>
<line x1="1031.3" y1="561.7" x2="1040.2" y2="561.7" stroke="#231f20" stroke-width="3.3" stroke-linecap="butt"/>
<text x="1028.9" y="573.3" font-size="33" text-anchor="end"  letter-spacing="0.30">0</text>
<line x1="1168.6" y1="561.7" x2="1168.6" y2="570.3" stroke="#231f20" stroke-width="3.6" stroke-linecap="butt"/>
<line x1="1362.2" y1="561.7" x2="1362.2" y2="570.3" stroke="#231f20" stroke-width="3.6" stroke-linecap="butt"/>
<line x1="1555.5" y1="561.7" x2="1555.5" y2="570.3" stroke="#231f20" stroke-width="3.6" stroke-linecap="butt"/>
<rect x="1104.0" y="401.1" width="129.3" height="161.3" fill="#999999"/>
<rect x="1297.8" y="469.0" width="129.0" height="93.4" fill="#9d5fa9"/>
<rect x="1491.4" y="471.1" width="129.0" height="91.3" fill="#7f2a7f"/>
<line x1="1168.6" y1="393.0" x2="1168.6" y2="408.5" stroke="#231f20" stroke-width="4.3" stroke-linecap="butt"/>
<line x1="1136.5" y1="393.0" x2="1200.8" y2="393.0" stroke="#231f20" stroke-width="4.3" stroke-linecap="butt"/>
<line x1="1136.5" y1="408.5" x2="1200.8" y2="408.5" stroke="#231f20" stroke-width="4.3" stroke-linecap="butt"/>
<line x1="1362.2" y1="458.6" x2="1362.2" y2="478.2" stroke="#231f20" stroke-width="4.3" stroke-linecap="butt"/>
<line x1="1330.0" y1="458.6" x2="1394.6" y2="458.6" stroke="#231f20" stroke-width="4.3" stroke-linecap="butt"/>
<line x1="1330.0" y1="478.2" x2="1394.6" y2="478.2" stroke="#231f20" stroke-width="4.3" stroke-linecap="butt"/>
<line x1="1555.5" y1="451.9" x2="1555.5" y2="490.2" stroke="#231f20" stroke-width="4.3" stroke-linecap="butt"/>
<line x1="1523.3" y1="451.9" x2="1587.9" y2="451.9" stroke="#231f20" stroke-width="4.3" stroke-linecap="butt"/>
<line x1="1523.3" y1="490.2" x2="1587.9" y2="490.2" stroke="#231f20" stroke-width="4.3" stroke-linecap="butt"/>
<g fill="#1c1c1c"><circle cx="1186.9" cy="316.3" r="6.1"/><circle cx="1150.7" cy="326.8" r="6.1"/><circle cx="1168.6" cy="326.8" r="6.1"/><circle cx="1195.7" cy="331.9" r="6.1"/><circle cx="1132.6" cy="334.9" r="6.1"/><circle cx="1177.9" cy="342.3" r="6.1"/><circle cx="1141.6" cy="347.7" r="6.1"/><circle cx="1150.7" cy="346.5" r="6.1"/><circle cx="1205.0" cy="355.3" r="6.1"/><circle cx="1159.7" cy="358.1" r="6.1"/><circle cx="1186.9" cy="365.1" r="6.1"/><circle cx="1141.6" cy="368.6" r="6.1"/><circle cx="1195.7" cy="368.6" r="6.1"/><circle cx="1177.9" cy="377.2" r="6.1"/><circle cx="1159.7" cy="385.5" r="6.1"/><circle cx="1224.3" cy="405.7" r="6.1"/><circle cx="1113.8" cy="408.0" r="6.1"/><circle cx="1213.8" cy="407.6" r="6.1"/><circle cx="1123.8" cy="409.2" r="6.1"/><circle cx="1201.5" cy="412.7" r="6.1"/><circle cx="1135.4" cy="416.2" r="6.1"/><circle cx="1191.1" cy="417.8" r="6.1"/><circle cx="1146.3" cy="419.2" r="6.1"/><circle cx="1157.4" cy="421.5" r="6.1"/><circle cx="1168.6" cy="422.0" r="6.1"/><circle cx="1179.9" cy="420.1" r="6.1"/><circle cx="1132.6" cy="425.5" r="6.1"/><circle cx="1214.3" cy="426.6" r="6.1"/><circle cx="1150.7" cy="435.9" r="6.1"/><circle cx="1195.7" cy="438.2" r="6.1"/><circle cx="1169.0" cy="443.3" r="6.1"/><circle cx="1205.0" cy="449.8" r="6.1"/><circle cx="1132.6" cy="455.2" r="6.1"/><circle cx="1186.9" cy="456.1" r="6.1"/><circle cx="1150.7" cy="463.8" r="6.1"/><circle cx="1169.0" cy="466.8" r="6.1"/><circle cx="1177.9" cy="477.2" r="6.1"/><circle cx="1159.7" cy="495.6" r="6.1"/></g>
<g fill="#1c1c1c"><circle cx="1371.1" cy="342.4" r="6.1"/><circle cx="1353.0" cy="350.0" r="6.1"/><circle cx="1362.2" cy="381.2" r="6.1"/><circle cx="1389.3" cy="399.8" r="6.1"/><circle cx="1334.9" cy="404.2" r="6.1"/><circle cx="1353.0" cy="410.0" r="6.1"/><circle cx="1371.1" cy="410.0" r="6.1"/><circle cx="1380.3" cy="421.0" r="6.1"/><circle cx="1344.1" cy="430.5" r="6.1"/><circle cx="1362.2" cy="431.2" r="6.1"/><circle cx="1326.2" cy="438.9" r="6.1"/><circle cx="1398.2" cy="439.4" r="6.1"/><circle cx="1344.1" cy="450.1" r="6.1"/><circle cx="1380.3" cy="452.2" r="6.1"/><circle cx="1362.2" cy="456.0" r="6.1"/><circle cx="1344.1" cy="477.7" r="6.1"/><circle cx="1380.3" cy="477.2" r="6.1"/><circle cx="1362.2" cy="480.8" r="6.1"/><circle cx="1326.2" cy="484.9" r="6.1"/><circle cx="1398.2" cy="489.2" r="6.1"/><circle cx="1344.1" cy="496.9" r="6.1"/><circle cx="1380.3" cy="498.1" r="6.1"/><circle cx="1362.2" cy="500.7" r="6.1"/><circle cx="1334.9" cy="521.1" r="6.1"/><circle cx="1353.0" cy="526.2" r="6.1"/><circle cx="1371.1" cy="526.2" r="6.1"/><circle cx="1398.2" cy="525.7" r="6.1"/><circle cx="1407.1" cy="529.3" r="6.1"/><circle cx="1317.0" cy="536.4" r="6.1"/><circle cx="1389.3" cy="538.2" r="6.1"/><circle cx="1334.9" cy="541.0" r="6.1"/><circle cx="1371.1" cy="544.1" r="6.1"/><circle cx="1353.0" cy="547.2" r="6.1"/></g>
<g fill="#1c1c1c"><circle cx="1555.5" cy="299.7" r="6.1"/><circle cx="1573.9" cy="365.3" r="6.1"/><circle cx="1537.4" cy="372.5" r="6.1"/><circle cx="1555.5" cy="373.5" r="6.1"/><circle cx="1555.5" cy="408.8" r="6.1"/><circle cx="1546.6" cy="450.9" r="6.1"/><circle cx="1564.4" cy="461.1" r="6.1"/><circle cx="1564.4" cy="498.1" r="6.1"/><circle cx="1537.4" cy="509.1" r="6.1"/><circle cx="1528.4" cy="515.5" r="6.1"/><circle cx="1591.8" cy="517.3" r="6.1"/><circle cx="1546.6" cy="521.9" r="6.1"/><circle cx="1573.9" cy="528.0" r="6.1"/><circle cx="1582.8" cy="539.8" r="6.1"/><circle cx="1528.4" cy="542.8" r="6.1"/><circle cx="1564.4" cy="543.6" r="6.1"/><circle cx="1546.6" cy="554.3" r="6.1"/></g>
<text x="1359.5" y="298.6" font-size="44" text-anchor="middle" letter-spacing="2.9" stroke="#231f20" stroke-width="0.5">***</text>
<text x="1556.5" y="298.6" font-size="44" text-anchor="middle" letter-spacing="2.9" stroke="#231f20" stroke-width="0.5">***</text>
<text x="1169.0" y="602.2" font-size="33" text-anchor="middle"  letter-spacing="0.40">NT shRNA</text>
<text x="1168.9" y="639.5" font-size="33" text-anchor="middle"  letter-spacing="0.25">Score = 0</text>
<text x="1361.8" y="602.2" font-size="33" text-anchor="middle"  letter-spacing="0.95">Torsin A KD</text>
<text x="1555.9" y="602.2" font-size="33" text-anchor="middle"  letter-spacing="0.95">Torsin A KD</text>
<text y="639.5" font-size="33"><tspan x="1281.6">2</tspan><tspan x="1304.1" dy="3.6" font-size="38" font-family="'Liberation Serif', 'DejaVu Serif', serif">&gt;</tspan><tspan x="1327.9" dy="-3.6">Score</tspan><tspan x="1414.0" font-family="'Liberation Serif', 'DejaVu Serif', serif" dy="3.5" font-size="36">≥</tspan><tspan x="1434.1" dy="-3.5">1</tspan></text>
<text y="639.5" font-size="33"><tspan x="1493.7">Score</tspan><tspan x="1578.9" font-family="'Liberation Serif', 'DejaVu Serif', serif" dy="3.5" font-size="36">≥</tspan><tspan x="1598.4" dy="-3.5">3</tspan></text>
<text transform="translate(929.2,403.3) rotate(-90)" font-size="33" text-anchor="middle" letter-spacing="0.25">Average Firing</text>
<text transform="translate(969.4,404.5) rotate(-90)" font-size="33" text-anchor="middle" letter-spacing="0.25">Rate (sp/s)</text>
<text x="900.4" y="264.1" font-size="50" text-anchor="start" >E</text>
<line x1="1048.3" y1="677.1" x2="1048.3" y2="734.0" stroke="#231f20" stroke-width="3.0" stroke-linecap="butt"/>
<line x1="1048.3" y1="757.2" x2="1048.3" y2="979.3" stroke="#231f20" stroke-width="3.0" stroke-linecap="butt"/>
<line x1="1039.4" y1="977.8" x2="1694.7" y2="977.8" stroke="#231f20" stroke-width="3.2" stroke-linecap="butt"/>
<line x1="1039.4" y1="689.2" x2="1048.3" y2="689.2" stroke="#231f20" stroke-width="3.3" stroke-linecap="butt"/>
<text x="1037.0" y="705.6" font-size="33" text-anchor="end"  letter-spacing="0.30">360</text>
<line x1="1039.4" y1="722.4" x2="1048.3" y2="722.4" stroke="#231f20" stroke-width="3.3" stroke-linecap="butt"/>
<text x="1037.0" y="738.8" font-size="33" text-anchor="end"  letter-spacing="0.30">240</text>
<line x1="1039.4" y1="778.8" x2="1048.3" y2="778.8" stroke="#231f20" stroke-width="3.3" stroke-linecap="butt"/>
<text x="1037.0" y="790.4" font-size="33" text-anchor="end"  letter-spacing="0.30">180</text>
<line x1="1039.4" y1="845.0" x2="1048.3" y2="845.0" stroke="#231f20" stroke-width="3.3" stroke-linecap="butt"/>
<text x="1037.0" y="856.6" font-size="33" text-anchor="end"  letter-spacing="0.30">120</text>
<line x1="1039.4" y1="911.4" x2="1048.3" y2="911.4" stroke="#231f20" stroke-width="3.3" stroke-linecap="butt"/>
<text x="1037.0" y="923.0" font-size="33" text-anchor="end"  letter-spacing="0.30">60</text>
<line x1="1039.4" y1="977.8" x2="1048.3" y2="977.8" stroke="#231f20" stroke-width="3.3" stroke-linecap="butt"/>
<text x="1037.0" y="989.4" font-size="33" text-anchor="end"  letter-spacing="0.30">0</text>
<line x1="1040.6" y1="734.0" x2="1055.6" y2="734.0" stroke="#231f20" stroke-width="3.0" stroke-linecap="butt"/>
<line x1="1041.2" y1="757.2" x2="1055.6" y2="757.2" stroke="#231f20" stroke-width="3.0" stroke-linecap="butt"/>
<line x1="1176.7" y1="977.8" x2="1176.7" y2="986.4" stroke="#231f20" stroke-width="3.6" stroke-linecap="butt"/>
<line x1="1370.4" y1="977.8" x2="1370.4" y2="986.4" stroke="#231f20" stroke-width="3.6" stroke-linecap="butt"/>
<line x1="1563.7" y1="977.8" x2="1563.7" y2="986.4" stroke="#231f20" stroke-width="3.6" stroke-linecap="butt"/>
<rect x="1112.9" y="893.0" width="128.8" height="85.5" fill="#999999"/>
<rect x="1306.0" y="898.2" width="129.5" height="80.3" fill="#9d5fa9"/>
<rect x="1499.6" y="861.4" width="129.2" height="117.1" fill="#7f2a7f"/>
<line x1="1176.7" y1="888.4" x2="1176.7" y2="896.5" stroke="#231f20" stroke-width="4.3" stroke-linecap="butt"/>
<line x1="1144.7" y1="888.4" x2="1209.2" y2="888.4" stroke="#231f20" stroke-width="4.3" stroke-linecap="butt"/>
<line x1="1144.7" y1="896.5" x2="1209.2" y2="896.5" stroke="#231f20" stroke-width="4.3" stroke-linecap="butt"/>
<line x1="1370.4" y1="889.8" x2="1370.4" y2="906.1" stroke="#231f20" stroke-width="4.3" stroke-linecap="butt"/>
<line x1="1338.2" y1="889.8" x2="1402.8" y2="889.8" stroke="#231f20" stroke-width="4.3" stroke-linecap="butt"/>
<line x1="1338.2" y1="906.1" x2="1402.8" y2="906.1" stroke="#231f20" stroke-width="4.3" stroke-linecap="butt"/>
<line x1="1564.2" y1="838.2" x2="1564.2" y2="883.7" stroke="#231f20" stroke-width="4.3" stroke-linecap="butt"/>
<line x1="1531.8" y1="838.2" x2="1596.4" y2="838.2" stroke="#231f20" stroke-width="4.3" stroke-linecap="butt"/>
<line x1="1531.8" y1="883.7" x2="1596.4" y2="883.7" stroke="#231f20" stroke-width="4.3" stroke-linecap="butt"/>
<g fill="#1c1c1c"><circle cx="1186.4" cy="830.8" r="6.1"/><circle cx="1167.9" cy="847.3" r="6.1"/><circle cx="1122.1" cy="861.2" r="6.1"/><circle cx="1133.0" cy="861.2" r="6.1"/><circle cx="1209.7" cy="863.6" r="6.1"/><circle cx="1221.3" cy="861.7" r="6.1"/><circle cx="1232.2" cy="861.7" r="6.1"/><circle cx="1143.5" cy="872.8" r="6.1"/><circle cx="1154.6" cy="872.8" r="6.1"/><circle cx="1166.0" cy="872.8" r="6.1"/><circle cx="1177.2" cy="872.8" r="6.1"/><circle cx="1188.3" cy="872.8" r="6.1"/><circle cx="1199.2" cy="872.8" r="6.1"/><circle cx="1121.4" cy="882.1" r="6.1"/><circle cx="1216.6" cy="882.6" r="6.1"/><circle cx="1232.9" cy="882.1" r="6.1"/><circle cx="1137.0" cy="890.7" r="6.1"/><circle cx="1152.8" cy="895.4" r="6.1"/><circle cx="1169.0" cy="895.4" r="6.1"/><circle cx="1185.3" cy="895.4" r="6.1"/><circle cx="1201.5" cy="895.4" r="6.1"/><circle cx="1122.1" cy="904.2" r="6.1"/><circle cx="1232.2" cy="901.9" r="6.1"/><circle cx="1221.3" cy="906.5" r="6.1"/><circle cx="1133.0" cy="910.5" r="6.1"/><circle cx="1144.0" cy="910.5" r="6.1"/><circle cx="1209.7" cy="910.5" r="6.1"/><circle cx="1198.7" cy="912.8" r="6.1"/><circle cx="1155.1" cy="915.1" r="6.1"/><circle cx="1187.6" cy="915.1" r="6.1"/><circle cx="1166.0" cy="916.3" r="6.1"/><circle cx="1177.2" cy="917.4" r="6.1"/><circle cx="1131.9" cy="921.4" r="6.1"/><circle cx="1222.0" cy="920.9" r="6.1"/><circle cx="1203.9" cy="924.4" r="6.1"/><circle cx="1150.5" cy="928.3" r="6.1"/><circle cx="1186.0" cy="929.0" r="6.1"/><circle cx="1167.9" cy="936.5" r="6.1"/></g>
<g fill="#1c1c1c"><circle cx="1343.3" cy="807.6" r="6.1"/><circle cx="1361.4" cy="807.6" r="6.1"/><circle cx="1379.8" cy="807.6" r="6.1"/><circle cx="1397.9" cy="807.6" r="6.1"/><circle cx="1388.7" cy="830.8" r="6.1"/><circle cx="1352.5" cy="847.9" r="6.1"/><circle cx="1370.4" cy="847.9" r="6.1"/><circle cx="1343.3" cy="872.7" r="6.1"/><circle cx="1361.4" cy="872.7" r="6.1"/><circle cx="1379.8" cy="872.7" r="6.1"/><circle cx="1397.9" cy="872.7" r="6.1"/><circle cx="1388.7" cy="889.3" r="6.1"/><circle cx="1352.5" cy="895.9" r="6.1"/><circle cx="1370.4" cy="901.5" r="6.1"/><circle cx="1312.1" cy="918.6" r="6.1"/><circle cx="1324.9" cy="918.1" r="6.1"/><circle cx="1337.7" cy="921.2" r="6.1"/><circle cx="1351.0" cy="921.2" r="6.1"/><circle cx="1429.6" cy="915.1" r="6.1"/><circle cx="1416.1" cy="917.6" r="6.1"/><circle cx="1403.6" cy="921.2" r="6.1"/><circle cx="1390.0" cy="921.2" r="6.1"/><circle cx="1364.0" cy="924.5" r="6.1"/><circle cx="1377.3" cy="924.5" r="6.1"/><circle cx="1334.6" cy="926.6" r="6.1"/><circle cx="1406.6" cy="926.6" r="6.1"/><circle cx="1388.7" cy="929.1" r="6.1"/><circle cx="1352.5" cy="943.2" r="6.1"/><circle cx="1370.4" cy="943.7" r="6.1"/><circle cx="1397.9" cy="947.5" r="6.1"/><circle cx="1343.3" cy="957.2" r="6.1"/><circle cx="1379.8" cy="960.3" r="6.1"/><circle cx="1361.4" cy="963.6" r="6.1"/></g>
<g fill="#1c1c1c"><circle cx="1564.2" cy="678.1" r="6.1"/><circle cx="1564.2" cy="776.4" r="6.1"/><circle cx="1546.1" cy="830.5" r="6.1"/><circle cx="1564.2" cy="847.1" r="6.1"/><circle cx="1591.3" cy="847.1" r="6.1"/><circle cx="1546.1" cy="861.4" r="6.1"/><circle cx="1582.1" cy="858.1" r="6.1"/><circle cx="1564.2" cy="874.7" r="6.1"/><circle cx="1591.3" cy="889.3" r="6.1"/><circle cx="1527.9" cy="895.9" r="6.1"/><circle cx="1555.2" cy="901.5" r="6.1"/><circle cx="1573.1" cy="901.5" r="6.1"/><circle cx="1537.1" cy="911.0" r="6.1"/><circle cx="1591.3" cy="915.1" r="6.1"/><circle cx="1555.2" cy="924.5" r="6.1"/><circle cx="1573.1" cy="924.5" r="6.1"/><circle cx="1564.2" cy="945.7" r="6.1"/></g>
<text x="1368.5" y="727.5" font-size="44" text-anchor="middle" letter-spacing="2.9" stroke="#231f20" stroke-width="0.5">**</text>
<text x="1177.4" y="1019.3" font-size="33" text-anchor="middle"  letter-spacing="0.40">NT shRNA</text>
<text x="1177.3" y="1056.5" font-size="33" text-anchor="middle"  letter-spacing="0.25">Score = 0</text>
<text x="1371.5" y="1019.3" font-size="33" text-anchor="middle"  letter-spacing="0.95">Torsin A KD</text>
<text x="1563.8" y="1019.3" font-size="33" text-anchor="middle"  letter-spacing="0.95">Torsin A KD</text>
<text y="1056.5" font-size="33"><tspan x="1285.0">2</tspan><tspan x="1309.4" dy="-1.5" font-size="38" font-family="'Liberation Serif', 'DejaVu Serif', serif">&gt;</tspan><tspan x="1332.1" dy="1.5">Score</tspan><tspan x="1418.2" font-family="'Liberation Serif', 'DejaVu Serif', serif" dy="3.5" font-size="36">≥</tspan><tspan x="1438.3" dy="-3.5">1</tspan></text>
<text y="1056.5" font-size="33"><tspan x="1501.6">Score</tspan><tspan x="1586.8" font-family="'Liberation Serif', 'DejaVu Serif', serif" dy="3.5" font-size="36">≥</tspan><tspan x="1606.3" dy="-3.5">3</tspan></text>
<text transform="translate(926.4,824.9) rotate(-90)" font-size="33" text-anchor="middle" letter-spacing="0.25">Predominant</text>
<text transform="translate(966.4,823.9) rotate(-90)" font-size="33" text-anchor="middle" letter-spacing="0.25">Firing Rate (sp/s)</text>
<text x="900.2" y="693.4" font-size="50" text-anchor="start" >F</text>
<line x1="1018.1" y1="1098.7" x2="1018.1" y2="1402.4" stroke="#231f20" stroke-width="3.0" stroke-linecap="butt"/>
<line x1="1009.2" y1="1400.9" x2="1664.7" y2="1400.9" stroke="#231f20" stroke-width="3.2" stroke-linecap="butt"/>
<line x1="1009.2" y1="1100.2" x2="1018.1" y2="1100.2" stroke="#231f20" stroke-width="3.3" stroke-linecap="butt"/>
<text x="1006.8" y="1111.8" font-size="33" text-anchor="end"  letter-spacing="0.30">3</text>
<line x1="1009.2" y1="1200.6" x2="1018.1" y2="1200.6" stroke="#231f20" stroke-width="3.3" stroke-linecap="butt"/>
<text x="1006.8" y="1212.2" font-size="33" text-anchor="end"  letter-spacing="0.30">2</text>
<line x1="1009.2" y1="1300.9" x2="1018.1" y2="1300.9" stroke="#231f20" stroke-width="3.3" stroke-linecap="butt"/>
<text x="1006.8" y="1312.5" font-size="33" text-anchor="end"  letter-spacing="0.30">1</text>
<line x1="1009.2" y1="1400.9" x2="1018.1" y2="1400.9" stroke="#231f20" stroke-width="3.3" stroke-linecap="butt"/>
<text x="1006.8" y="1412.5" font-size="33" text-anchor="end"  letter-spacing="0.30">0</text>
<line x1="1146.5" y1="1400.9" x2="1146.5" y2="1409.5" stroke="#231f20" stroke-width="3.6" stroke-linecap="butt"/>
<line x1="1340.4" y1="1400.9" x2="1340.4" y2="1409.5" stroke="#231f20" stroke-width="3.6" stroke-linecap="butt"/>
<line x1="1533.7" y1="1400.9" x2="1533.7" y2="1409.5" stroke="#231f20" stroke-width="3.6" stroke-linecap="butt"/>
<rect x="1082.4" y="1351.4" width="129.1" height="50.2" fill="#a0a0a3"/>
<rect x="1276.0" y="1310.8" width="129.0" height="90.8" fill="#9d5fa9"/>
<rect x="1469.3" y="1275.8" width="129.5" height="125.8" fill="#7f2a7f"/>
<line x1="1146.8" y1="1347.0" x2="1146.8" y2="1352.0" stroke="#231f20" stroke-width="4.3" stroke-linecap="butt"/>
<line x1="1114.6" y1="1347.0" x2="1179.0" y2="1347.0" stroke="#231f20" stroke-width="4.3" stroke-linecap="butt"/>
<line x1="1114.6" y1="1352.0" x2="1179.0" y2="1352.0" stroke="#231f20" stroke-width="4.3" stroke-linecap="butt"/>
<line x1="1340.4" y1="1302.4" x2="1340.4" y2="1318.2" stroke="#231f20" stroke-width="4.3" stroke-linecap="butt"/>
<line x1="1308.2" y1="1302.4" x2="1372.8" y2="1302.4" stroke="#231f20" stroke-width="4.3" stroke-linecap="butt"/>
<line x1="1308.2" y1="1318.2" x2="1372.8" y2="1318.2" stroke="#231f20" stroke-width="4.3" stroke-linecap="butt"/>
<line x1="1533.7" y1="1261.5" x2="1533.7" y2="1289.1" stroke="#231f20" stroke-width="4.3" stroke-linecap="butt"/>
<line x1="1501.8" y1="1261.5" x2="1566.1" y2="1261.5" stroke="#231f20" stroke-width="4.3" stroke-linecap="butt"/>
<line x1="1501.8" y1="1289.1" x2="1566.1" y2="1289.1" stroke="#231f20" stroke-width="4.3" stroke-linecap="butt"/>
<g fill="#1c1c1c"><circle cx="1146.9" cy="1312.6" r="6.1"/><circle cx="1128.8" cy="1329.3" r="6.1"/><circle cx="1146.9" cy="1331.4" r="6.1"/><circle cx="1164.7" cy="1329.3" r="6.1"/><circle cx="1137.9" cy="1341.1" r="6.1"/><circle cx="1094.4" cy="1342.2" r="6.1"/><circle cx="1101.6" cy="1344.4" r="6.1"/><circle cx="1109.4" cy="1347.5" r="6.1"/><circle cx="1118.6" cy="1349.2" r="6.1"/><circle cx="1126.0" cy="1350.9" r="6.1"/><circle cx="1132.9" cy="1352.2" r="6.1"/><circle cx="1139.9" cy="1353.1" r="6.1"/><circle cx="1146.9" cy="1353.6" r="6.1"/><circle cx="1153.8" cy="1353.1" r="6.1"/><circle cx="1160.8" cy="1352.2" r="6.1"/><circle cx="1167.8" cy="1350.9" r="6.1"/><circle cx="1174.7" cy="1349.2" r="6.1"/><circle cx="1181.7" cy="1346.6" r="6.1"/><circle cx="1188.7" cy="1344.0" r="6.1"/><circle cx="1195.6" cy="1341.4" r="6.1"/><circle cx="1202.6" cy="1340.5" r="6.1"/><circle cx="1090.7" cy="1354.9" r="6.1"/><circle cx="1098.1" cy="1355.7" r="6.1"/><circle cx="1105.5" cy="1356.6" r="6.1"/><circle cx="1112.9" cy="1358.8" r="6.1"/><circle cx="1119.4" cy="1361.4" r="6.1"/><circle cx="1126.0" cy="1363.1" r="6.1"/><circle cx="1132.9" cy="1364.0" r="6.1"/><circle cx="1139.5" cy="1365.7" r="6.1"/><circle cx="1146.0" cy="1372.3" r="6.1"/><circle cx="1153.4" cy="1371.0" r="6.1"/><circle cx="1160.8" cy="1364.0" r="6.1"/><circle cx="1167.8" cy="1363.1" r="6.1"/><circle cx="1174.7" cy="1361.8" r="6.1"/><circle cx="1181.7" cy="1360.5" r="6.1"/><circle cx="1188.7" cy="1357.0" r="6.1"/><circle cx="1195.6" cy="1355.3" r="6.1"/><circle cx="1202.6" cy="1354.9" r="6.1"/><circle cx="1112.9" cy="1353.6" r="6.1"/><circle cx="1120.8" cy="1356.2" r="6.1"/><circle cx="1128.6" cy="1358.3" r="6.1"/><circle cx="1135.6" cy="1359.6" r="6.1"/><circle cx="1159.9" cy="1358.8" r="6.1"/><circle cx="1166.9" cy="1357.0" r="6.1"/><circle cx="1173.9" cy="1355.3" r="6.1"/><circle cx="1180.8" cy="1353.1" r="6.1"/><circle cx="1187.8" cy="1350.9" r="6.1"/></g>
<g fill="#1c1c1c"><circle cx="1340.4" cy="1184.9" r="6.1"/><circle cx="1322.2" cy="1215.6" r="6.1"/><circle cx="1358.2" cy="1225.3" r="6.1"/><circle cx="1340.4" cy="1232.7" r="6.1"/><circle cx="1340.4" cy="1266.1" r="6.1"/><circle cx="1367.4" cy="1272.5" r="6.1"/><circle cx="1313.3" cy="1278.1" r="6.1"/><circle cx="1349.3" cy="1280.2" r="6.1"/><circle cx="1331.2" cy="1285.8" r="6.1"/><circle cx="1313.3" cy="1302.9" r="6.1"/><circle cx="1367.4" cy="1304.4" r="6.1"/><circle cx="1331.2" cy="1307.0" r="6.1"/><circle cx="1349.3" cy="1308.8" r="6.1"/><circle cx="1304.4" cy="1313.9" r="6.1"/><circle cx="1376.4" cy="1315.9" r="6.1"/><circle cx="1322.2" cy="1318.2" r="6.1"/><circle cx="1340.4" cy="1328.4" r="6.1"/><circle cx="1358.2" cy="1328.4" r="6.1"/><circle cx="1281.6" cy="1331.8" r="6.1"/><circle cx="1294.9" cy="1333.5" r="6.1"/><circle cx="1307.7" cy="1335.6" r="6.1"/><circle cx="1321.0" cy="1337.6" r="6.1"/><circle cx="1398.8" cy="1332.5" r="6.1"/><circle cx="1386.1" cy="1333.5" r="6.1"/><circle cx="1372.8" cy="1336.9" r="6.1"/><circle cx="1359.5" cy="1339.4" r="6.1"/><circle cx="1334.0" cy="1344.5" r="6.1"/><circle cx="1346.7" cy="1346.6" r="6.1"/><circle cx="1304.4" cy="1356.5" r="6.1"/><circle cx="1376.4" cy="1359.3" r="6.1"/><circle cx="1322.2" cy="1360.4" r="6.1"/><circle cx="1358.2" cy="1362.4" r="6.1"/><circle cx="1340.4" cy="1365.7" r="6.1"/></g>
<g fill="#1c1c1c"><circle cx="1533.7" cy="1143.3" r="6.1"/><circle cx="1533.7" cy="1205.9" r="6.1"/><circle cx="1515.8" cy="1223.7" r="6.1"/><circle cx="1551.5" cy="1230.9" r="6.1"/><circle cx="1533.7" cy="1234.2" r="6.1"/><circle cx="1551.5" cy="1255.7" r="6.1"/><circle cx="1515.8" cy="1261.0" r="6.1"/><circle cx="1533.7" cy="1263.3" r="6.1"/><circle cx="1533.7" cy="1289.6" r="6.1"/><circle cx="1506.9" cy="1298.0" r="6.1"/><circle cx="1561.0" cy="1304.9" r="6.1"/><circle cx="1524.7" cy="1314.4" r="6.1"/><circle cx="1543.1" cy="1316.4" r="6.1"/><circle cx="1506.9" cy="1331.8" r="6.1"/><circle cx="1561.0" cy="1330.5" r="6.1"/><circle cx="1543.1" cy="1337.4" r="6.1"/><circle cx="1524.7" cy="1346.3" r="6.1"/></g>
<text x="1342.0" y="1145.8" font-size="44" text-anchor="middle" letter-spacing="2.9" stroke="#231f20" stroke-width="0.5">****</text>
<text x="1532.5" y="1145.8" font-size="44" text-anchor="middle" letter-spacing="2.9" stroke="#231f20" stroke-width="0.5">****</text>
<text x="1147.1" y="1442.1" font-size="33" text-anchor="middle"  letter-spacing="0.40">NT shRNA</text>
<text x="1147.0" y="1479.2" font-size="33" text-anchor="middle"  letter-spacing="0.25">Score = 0</text>
<text x="1341.3" y="1442.1" font-size="33" text-anchor="middle"  letter-spacing="0.95">Torsin A KD</text>
<text x="1533.8" y="1442.1" font-size="33" text-anchor="middle"  letter-spacing="0.95">Torsin A KD</text>
<text y="1479.2" font-size="33"><tspan x="1254.8">2</tspan><tspan x="1279.2" dy="2.6" font-size="38" font-family="'Liberation Serif', 'DejaVu Serif', serif">&gt;</tspan><tspan x="1301.9" dy="-2.6">Score</tspan><tspan x="1388.0" font-family="'Liberation Serif', 'DejaVu Serif', serif" dy="3.5" font-size="36">≥</tspan><tspan x="1408.1" dy="-3.5">1</tspan></text>
<text y="1479.2" font-size="33"><tspan x="1471.6">Score</tspan><tspan x="1556.8" font-family="'Liberation Serif', 'DejaVu Serif', serif" dy="3.5" font-size="36">≥</tspan><tspan x="1576.3" dy="-3.5">3</tspan></text>
<text transform="translate(929.9,1243.9) rotate(-90)" font-size="33" text-anchor="middle" letter-spacing="0.25">ISI Coefficient</text>
<text transform="translate(970.5,1244.9) rotate(-90)" font-size="33" text-anchor="middle" letter-spacing="0.25">of Variation</text>
<text x="903.1" y="1121.6" font-size="50" text-anchor="start" >G</text>
<line x1="177.6" y1="1544.6" x2="177.6" y2="1848.7" stroke="#231f20" stroke-width="3.3" stroke-linecap="butt"/>
<line x1="169.2" y1="1847.0" x2="535.0" y2="1847.0" stroke="#231f20" stroke-width="3.4" stroke-linecap="butt"/>
<line x1="558.8" y1="1847.6" x2="798.6" y2="1847.6" stroke="#231f20" stroke-width="3.0" stroke-linecap="butt"/>
<line x1="169.2" y1="1546.2" x2="177.6" y2="1546.2" stroke="#231f20" stroke-width="3.3" stroke-linecap="butt"/>
<text x="166.2" y="1558.0" font-size="33" text-anchor="end"  letter-spacing="0.30">0.06</text>
<line x1="169.2" y1="1646.1" x2="177.6" y2="1646.1" stroke="#231f20" stroke-width="3.3" stroke-linecap="butt"/>
<text x="166.2" y="1657.9" font-size="33" text-anchor="end"  letter-spacing="0.30">0.04</text>
<line x1="169.2" y1="1746.2" x2="177.6" y2="1746.2" stroke="#231f20" stroke-width="3.3" stroke-linecap="butt"/>
<text x="166.2" y="1758.0" font-size="33" text-anchor="end"  letter-spacing="0.30">0.02</text>
<line x1="169.2" y1="1846.2" x2="177.6" y2="1846.2" stroke="#231f20" stroke-width="3.3" stroke-linecap="butt"/>
<text x="166.2" y="1858.0" font-size="33" text-anchor="end"  letter-spacing="0.30">0</text>
<line x1="178.0" y1="1847.0" x2="178.0" y2="1855.8" stroke="#231f20" stroke-width="3.3" stroke-linecap="butt"/>
<line x1="249.4" y1="1847.0" x2="249.4" y2="1855.8" stroke="#231f20" stroke-width="3.3" stroke-linecap="butt"/>
<line x1="320.8" y1="1847.0" x2="320.8" y2="1855.8" stroke="#231f20" stroke-width="3.3" stroke-linecap="butt"/>
<line x1="392.2" y1="1847.0" x2="392.2" y2="1855.8" stroke="#231f20" stroke-width="3.3" stroke-linecap="butt"/>
<line x1="463.6" y1="1847.0" x2="463.6" y2="1855.8" stroke="#231f20" stroke-width="3.3" stroke-linecap="butt"/>
<line x1="605.3" y1="1847.0" x2="605.3" y2="1855.8" stroke="#231f20" stroke-width="3.3" stroke-linecap="butt"/>
<line x1="701.5" y1="1847.0" x2="701.5" y2="1855.8" stroke="#231f20" stroke-width="3.3" stroke-linecap="butt"/>
<line x1="797.1" y1="1847.0" x2="797.1" y2="1855.8" stroke="#231f20" stroke-width="3.3" stroke-linecap="butt"/>
<text x="178.0" y="1889.4" font-size="33" text-anchor="middle" >0</text>
<text x="249.4" y="1889.4" font-size="33" text-anchor="middle" >20</text>
<text x="320.8" y="1889.4" font-size="33" text-anchor="middle" >40</text>
<text x="392.2" y="1889.4" font-size="33" text-anchor="middle" >60</text>
<text x="463.6" y="1889.4" font-size="33" text-anchor="middle" >80</text>
<text x="535.0" y="1889.4" font-size="33" text-anchor="middle" >100</text>
<text x="605.4" y="1889.4" font-size="33" text-anchor="middle" >6000</text>
<text x="700.8" y="1889.4" font-size="33" text-anchor="middle" >8000</text>
<text x="796.5" y="1889.4" font-size="33" text-anchor="middle" >10000</text>
<text x="495.1" y="1933.0" font-size="33" text-anchor="middle"  letter-spacing="0.20">Interspike Interval / ms</text>
<text x="490.1" y="1971.0" font-size="33" text-anchor="middle"  letter-spacing="0.20">1 ms bins</text>
<text transform="translate(90.0,1686.2) rotate(-90)" font-size="33" text-anchor="middle" letter-spacing="0.25">Relative frequency</text>
<text x="52.7" y="1535.2" font-size="50" text-anchor="start" >D</text>
<path d="M180.9,1817.9 L184.4,1799.3 L191.3,1779.6 L198.3,1738.9 L205.3,1678.6 L209.9,1632.1 L215.7,1588.0 L220.8,1578.8 L223.8,1577.6 L227.3,1588.0 L230.8,1586.2 L234.3,1590.4 L237.8,1606.6 L241.7,1632.1 L245.9,1669.3 L249.4,1687.9 L252.9,1708.8 L257.5,1729.7 L262.1,1748.2 L266.8,1762.2 L273.8,1780.7 L280.7,1793.5 L290.0,1806.3 L299.3,1814.4 L310.9,1821.4 L322.5,1827.2 L341.1,1833.0 L359.7,1837.6 L380.5,1840.6 L403.8,1842.9 L438.6,1844.6 L485.0,1845.7 L536.1,1846.2" fill="none" stroke="#868686" stroke-width="4.2" stroke-linejoin="round" stroke-linecap="butt"/>
<path d="M180.9,1828.3 L185.5,1821.4 L190.2,1815.5 L193.7,1797.0 L198.3,1766.8 L202.9,1750.5 L207.6,1736.6 L212.2,1729.7 L216.9,1734.3 L220.4,1736.6 L223.8,1733.8 L227.3,1735.5 L230.8,1728.5 L235.4,1725.0 L238.9,1718.0 L242.4,1711.1 L244.7,1722.7 L249.4,1727.3 L254.0,1729.7 L258.7,1736.6 L262.1,1738.9 L266.8,1735.5 L271.4,1741.3 L276.1,1742.4 L280.7,1745.9 L286.5,1752.9 L292.3,1759.8 L297.0,1759.8 L301.6,1766.8 L305.1,1771.8 L308.6,1778.4 L312.1,1783.2 L315.5,1787.7 L319.0,1789.6 L322.5,1792.3 L326.0,1796.1 L329.5,1799.3 L332.9,1802.6 L336.4,1805.1 L339.5,1804.7 L342.6,1805.4 L345.7,1807.4 L348.8,1809.0 L351.9,1808.3 L355.0,1809.7 L358.1,1810.6 L361.2,1813.9 L364.3,1814.4 L367.4,1815.3 L370.5,1817.1 L373.6,1817.4 L376.7,1818.7 L379.8,1820.3 L382.9,1821.4 L386.0,1821.9 L389.1,1823.9 L392.2,1824.8 L395.3,1825.8 L398.3,1825.6 L401.4,1826.0 L404.9,1826.9 L408.4,1827.4 L411.9,1827.1 L415.4,1828.3 L418.9,1829.5 L422.4,1830.2 L425.8,1830.7 L429.3,1831.8 L432.8,1831.8 L436.3,1833.4 L439.8,1833.5 L443.2,1834.4 L446.7,1835.1 L450.2,1835.3 L453.5,1835.9 L456.8,1836.6 L460.1,1836.5 L463.5,1837.3 L466.8,1837.4 L470.1,1838.3 L473.4,1838.3 L476.7,1838.9 L480.0,1838.4 L483.3,1838.7 L486.7,1839.0 L490.0,1839.8 L493.3,1839.6 L496.6,1839.9 L499.9,1840.2 L503.2,1840.2 L506.5,1840.6 L509.9,1840.7 L513.2,1840.9 L516.5,1841.3 L519.8,1841.5 L523.1,1841.7 L526.3,1842.1 L529.6,1842.0 L532.8,1842.4 L536.1,1842.2" fill="none" stroke="#9d5fa9" stroke-width="4.2" stroke-linejoin="round" stroke-linecap="butt"/>
<path d="M180.9,1671.6 L184.4,1654.2 L186.0,1669.3 L187.9,1740.1 L192.5,1740.1 L198.3,1748.2 L202.9,1738.9 L208.8,1725.0 L212.2,1721.6 L215.7,1719.2 L219.2,1713.3 L222.7,1708.8 L227.3,1711.1 L233.1,1708.3 L238.9,1713.4 L242.4,1720.4 L245.9,1729.7 L249.4,1734.3 L252.9,1743.6 L257.5,1752.9 L262.1,1761.0 L266.8,1769.1 L270.3,1774.7 L273.8,1780.7 L277.2,1784.7 L280.7,1790.0 L283.8,1791.9 L286.9,1795.2 L290.0,1798.1 L293.1,1801.5 L296.2,1804.0 L299.3,1806.3 L302.8,1808.4 L306.3,1809.7 L312.1,1807.4 L316.1,1809.9 L320.2,1813.2 L323.4,1814.2 L326.7,1814.8 L329.9,1815.6 L333.2,1816.5 L336.4,1817.9 L339.7,1818.3 L342.9,1819.8 L346.2,1820.3 L349.4,1821.0 L352.7,1821.4 L355.9,1822.6 L359.2,1822.9 L362.4,1824.0 L365.7,1825.2 L368.9,1826.0 L372.2,1826.7 L375.6,1827.3 L378.9,1827.8 L382.2,1827.7 L385.5,1828.6 L388.9,1829.1 L392.2,1829.5 L395.5,1830.2 L398.8,1830.6 L402.1,1831.5 L405.5,1831.8 L408.8,1833.1 L412.1,1833.7 L415.4,1834.1 L418.7,1834.4 L422.0,1834.5 L425.3,1835.2 L428.7,1835.2 L432.0,1835.7 L435.3,1835.9 L438.6,1836.0 L441.9,1836.3 L445.2,1836.6 L448.5,1837.0 L451.9,1837.3 L455.2,1837.5 L458.5,1837.9 L461.8,1838.3 L465.1,1838.7 L468.4,1838.5 L471.7,1838.8 L475.1,1839.3 L478.4,1839.3 L481.7,1839.7 L485.0,1839.9 L488.3,1840.1 L491.6,1840.3 L494.9,1840.8 L498.3,1840.7 L501.6,1841.0 L504.9,1841.1 L508.2,1841.5 L511.3,1841.7 L514.4,1841.7 L517.5,1841.9 L520.6,1842.2 L523.7,1842.2 L526.8,1842.5 L529.9,1842.7 L533.0,1842.6 L536.1,1842.9" fill="none" stroke="#7f2a7f" stroke-width="4.2" stroke-linejoin="round" stroke-linecap="butt"/>
<line x1="557.2" y1="1846.9" x2="797.8" y2="1846.9" stroke="#7f2a7f" stroke-width="5.2" stroke-linecap="butt"/>
<line x1="529.9" y1="1853.8" x2="544.6" y2="1839.9" stroke="#231f20" stroke-width="3.0" stroke-linecap="butt"/>
<line x1="548.7" y1="1853.8" x2="563.6" y2="1839.9" stroke="#231f20" stroke-width="3.0" stroke-linecap="butt"/>
<line x1="557.1" y1="1589.8" x2="589.6" y2="1589.8" stroke="#7f2a7f" stroke-width="8.2" stroke-linecap="butt"/>
<line x1="557.1" y1="1676.5" x2="589.6" y2="1676.5" stroke="#9d5fa9" stroke-width="8.2" stroke-linecap="butt"/>
<line x1="558.6" y1="1765.7" x2="591.1" y2="1765.7" stroke="#868686" stroke-width="8.2" stroke-linecap="butt"/>
<text x="607.3" y="1584.8" font-size="28.5" letter-spacing="1.03">Torsin A KD</text>
<text x="606.6" y="1616.2" font-size="28.5" letter-spacing="0.50">Score</text>
<text x="689.2" y="1616.2" font-size="31" letter-spacing="0.80" style="font-family:'Liberation Serif', 'DejaVu Serif', serif">≥</text>
<text x="712.1" y="1616.2" font-size="28.5" letter-spacing="0.80">3</text>
<text x="607.3" y="1667.5" font-size="28.5" letter-spacing="1.03">Torsin A KD</text>
<text x="614.4" y="1704.1" font-size="28.5" letter-spacing="0.80">2</text>
<text x="641.9" y="1707.0" font-size="32" letter-spacing="0.80" style="font-family:'Liberation Serif', 'DejaVu Serif', serif">&gt;</text>
<text x="665.8" y="1704.1" font-size="28.5" letter-spacing="0.50">Score</text>
<text x="747.5" y="1704.1" font-size="31" letter-spacing="0.80" style="font-family:'Liberation Serif', 'DejaVu Serif', serif">≥</text>
<text x="771.1" y="1704.1" font-size="28.5" letter-spacing="0.80">1</text>
<text x="607.9" y="1758.9" font-size="28.5" letter-spacing="0.70">NT shRNA</text>
<text x="608.3" y="1792.0" font-size="28.5" letter-spacing="0.50">Score</text>
<text x="692.5" y="1792.0" font-size="28.5" letter-spacing="0.80">=</text>
<text x="726.0" y="1792.0" font-size="28.5" letter-spacing="0.80">0</text>
<line x1="1019.1" y1="1544.6" x2="1019.1" y2="1848.7" stroke="#231f20" stroke-width="3.3" stroke-linecap="butt"/>
<line x1="1010.7" y1="1847.0" x2="1376.5" y2="1847.0" stroke="#231f20" stroke-width="3.4" stroke-linecap="butt"/>
<line x1="1400.3" y1="1847.6" x2="1640.1" y2="1847.6" stroke="#231f20" stroke-width="3.0" stroke-linecap="butt"/>
<line x1="1010.7" y1="1546.2" x2="1019.1" y2="1546.2" stroke="#231f20" stroke-width="3.3" stroke-linecap="butt"/>
<text x="1007.7" y="1558.0" font-size="33" text-anchor="end"  letter-spacing="0.30">0.08</text>
<line x1="1010.7" y1="1620.9" x2="1019.1" y2="1620.9" stroke="#231f20" stroke-width="3.3" stroke-linecap="butt"/>
<text x="1007.7" y="1632.7" font-size="33" text-anchor="end"  letter-spacing="0.30">0.06</text>
<line x1="1010.7" y1="1696.1" x2="1019.1" y2="1696.1" stroke="#231f20" stroke-width="3.3" stroke-linecap="butt"/>
<text x="1007.7" y="1707.9" font-size="33" text-anchor="end"  letter-spacing="0.30">0.04</text>
<line x1="1010.7" y1="1770.8" x2="1019.1" y2="1770.8" stroke="#231f20" stroke-width="3.3" stroke-linecap="butt"/>
<text x="1007.7" y="1782.6" font-size="33" text-anchor="end"  letter-spacing="0.30">0.02</text>
<line x1="1010.7" y1="1846.2" x2="1019.1" y2="1846.2" stroke="#231f20" stroke-width="3.3" stroke-linecap="butt"/>
<text x="1007.7" y="1858.0" font-size="33" text-anchor="end"  letter-spacing="0.30">0</text>
<line x1="1019.5" y1="1847.0" x2="1019.5" y2="1855.8" stroke="#231f20" stroke-width="3.3" stroke-linecap="butt"/>
<line x1="1090.9" y1="1847.0" x2="1090.9" y2="1855.8" stroke="#231f20" stroke-width="3.3" stroke-linecap="butt"/>
<line x1="1162.3" y1="1847.0" x2="1162.3" y2="1855.8" stroke="#231f20" stroke-width="3.3" stroke-linecap="butt"/>
<line x1="1233.7" y1="1847.0" x2="1233.7" y2="1855.8" stroke="#231f20" stroke-width="3.3" stroke-linecap="butt"/>
<line x1="1305.1" y1="1847.0" x2="1305.1" y2="1855.8" stroke="#231f20" stroke-width="3.3" stroke-linecap="butt"/>
<line x1="1446.8" y1="1847.0" x2="1446.8" y2="1855.8" stroke="#231f20" stroke-width="3.3" stroke-linecap="butt"/>
<line x1="1543.0" y1="1847.0" x2="1543.0" y2="1855.8" stroke="#231f20" stroke-width="3.3" stroke-linecap="butt"/>
<line x1="1638.6" y1="1847.0" x2="1638.6" y2="1855.8" stroke="#231f20" stroke-width="3.3" stroke-linecap="butt"/>
<text x="1019.5" y="1889.4" font-size="33" text-anchor="middle" >0</text>
<text x="1090.9" y="1889.4" font-size="33" text-anchor="middle" >20</text>
<text x="1162.3" y="1889.4" font-size="33" text-anchor="middle" >40</text>
<text x="1233.7" y="1889.4" font-size="33" text-anchor="middle" >60</text>
<text x="1305.1" y="1889.4" font-size="33" text-anchor="middle" >80</text>
<text x="1376.5" y="1889.4" font-size="33" text-anchor="middle" >100</text>
<text x="1446.9" y="1889.4" font-size="33" text-anchor="middle" >6000</text>
<text x="1542.3" y="1889.4" font-size="33" text-anchor="middle" >8000</text>
<text x="1638.0" y="1889.4" font-size="33" text-anchor="middle" >10000</text>
<text x="1336.6" y="1933.0" font-size="33" text-anchor="middle"  letter-spacing="0.20">Interspike Interval / ms</text>
<text x="1331.6" y="1971.0" font-size="33" text-anchor="middle"  letter-spacing="0.20">1 ms bins</text>
<text transform="translate(931.5,1686.2) rotate(-90)" font-size="33" text-anchor="middle" letter-spacing="0.25">Relative frequency</text>
<text x="899.8" y="1533.8" font-size="50" text-anchor="start" >H</text>
<path d="M1019.7,1844.6 L1023.2,1829.5 L1027.9,1808.6 L1032.5,1776.1 L1037.1,1727.3 L1042.9,1669.3 L1047.6,1618.2 L1051.1,1582.2 L1055.7,1572.9 L1059.2,1570.6 L1061.5,1590.4 L1065.0,1622.9 L1069.6,1655.4 L1074.3,1680.9 L1078.9,1706.4 L1083.6,1729.7 L1088.2,1748.2 L1092.9,1764.5 L1099.8,1781.9 L1106.8,1797.0 L1113.8,1808.6 L1123.0,1819.0 L1134.6,1827.2 L1146.3,1833.0 L1160.2,1837.6 L1176.4,1841.1 L1197.3,1843.4 L1232.2,1845.0 L1278.6,1845.7 L1376.1,1846.2" fill="none" stroke="#868686" stroke-width="4.2" stroke-linejoin="round" stroke-linecap="butt"/>
<path d="M1019.7,1834.1 L1024.4,1830.6 L1029.0,1817.9 L1032.5,1797.0 L1037.1,1762.2 L1042.9,1734.3 L1048.8,1701.8 L1052.2,1683.2 L1055.7,1675.1 L1061.5,1673.5 L1065.0,1683.2 L1068.5,1697.2 L1073.1,1718.0 L1077.8,1729.7 L1082.4,1738.9 L1087.1,1743.6 L1091.7,1748.2 L1096.3,1758.7 L1101.0,1764.5 L1105.6,1769.1 L1110.3,1778.4 L1116.1,1786.5 L1121.9,1793.5 L1127.7,1800.5 L1131.2,1804.8 L1134.6,1808.6 L1138.1,1812.4 L1141.6,1815.5 L1145.1,1817.1 L1148.6,1817.9 L1152.0,1820.8 L1155.5,1822.5 L1158.6,1823.5 L1161.7,1824.5 L1164.8,1824.8 L1167.9,1825.7 L1171.0,1827.6 L1174.1,1829.0 L1177.2,1829.6 L1180.3,1829.5 L1183.4,1829.5 L1186.5,1830.6 L1189.6,1830.7 L1192.7,1831.8 L1196.6,1832.4 L1200.4,1832.9 L1204.3,1833.7 L1207.8,1834.1 L1211.2,1834.6 L1214.7,1834.5 L1218.2,1835.3 L1221.7,1835.5 L1225.2,1835.9 L1228.7,1836.8 L1232.2,1836.9 L1235.5,1837.3 L1238.8,1837.2 L1242.1,1837.9 L1245.5,1837.8 L1248.8,1838.3 L1252.1,1838.3 L1255.4,1838.8 L1258.7,1838.7 L1262.0,1839.5 L1265.3,1839.3 L1268.7,1839.6 L1272.0,1840.2 L1275.3,1840.4 L1278.6,1840.4 L1281.9,1840.4 L1285.2,1841.0 L1288.5,1840.9 L1291.9,1841.1 L1295.2,1841.0 L1298.5,1841.6 L1301.8,1841.5 L1305.1,1841.7 L1308.4,1842.0 L1311.7,1842.1 L1315.1,1842.0 L1318.4,1842.1 L1321.7,1842.2 L1325.0,1842.5 L1328.3,1842.5 L1331.6,1842.6 L1334.9,1842.8 L1338.3,1843.1 L1341.6,1842.9 L1344.9,1843.3 L1348.2,1843.4 L1351.3,1843.4 L1354.4,1843.5 L1357.5,1843.8 L1360.6,1843.7 L1363.7,1843.7 L1366.8,1843.9 L1369.9,1844.0 L1373.0,1843.8 L1376.1,1844.1" fill="none" stroke="#9d5fa9" stroke-width="4.2" stroke-linejoin="round" stroke-linecap="butt"/>
<path d="M1019.3,1822.5 L1020.9,1762.2 L1023.2,1715.7 L1026.7,1646.1 L1030.2,1599.6 L1033.0,1579.9 L1034.8,1579.9 L1037.1,1592.7 L1039.5,1632.1 L1042.9,1646.1 L1046.4,1667.0 L1049.9,1683.2 L1053.4,1699.5 L1058.0,1711.1 L1061.5,1715.7 L1065.0,1713.4 L1069.2,1700.6 L1071.5,1713.4 L1074.3,1738.9 L1078.9,1766.8 L1083.6,1785.4 L1088.2,1795.8 L1092.9,1803.9 L1099.8,1812.1 L1109.1,1819.0 L1120.7,1824.8 L1134.6,1830.6 L1150.9,1834.6 L1167.2,1836.4 L1185.7,1838.8 L1208.9,1840.6 L1232.2,1841.5 L1278.6,1843.4 L1325.0,1844.3 L1376.1,1845.0" fill="none" stroke="#7f2a7f" stroke-width="4.2" stroke-linejoin="round" stroke-linecap="butt"/>
<line x1="1398.7" y1="1846.9" x2="1639.3" y2="1846.9" stroke="#7f2a7f" stroke-width="5.2" stroke-linecap="butt"/>
<line x1="1371.4" y1="1853.8" x2="1386.1" y2="1839.9" stroke="#231f20" stroke-width="3.0" stroke-linecap="butt"/>
<line x1="1390.2" y1="1853.8" x2="1405.1" y2="1839.9" stroke="#231f20" stroke-width="3.0" stroke-linecap="butt"/>
<line x1="1398.6" y1="1589.8" x2="1431.1" y2="1589.8" stroke="#7f2a7f" stroke-width="8.2" stroke-linecap="butt"/>
<line x1="1398.6" y1="1676.5" x2="1431.1" y2="1676.5" stroke="#9d5fa9" stroke-width="8.2" stroke-linecap="butt"/>
<line x1="1400.1" y1="1765.7" x2="1432.6" y2="1765.7" stroke="#868686" stroke-width="8.2" stroke-linecap="butt"/>
<text x="1448.8" y="1584.8" font-size="28.5" letter-spacing="1.03">Torsin A KD</text>
<text x="1448.1" y="1616.2" font-size="28.5" letter-spacing="0.50">Score</text>
<text x="1530.7" y="1616.2" font-size="31" letter-spacing="0.80" style="font-family:'Liberation Serif', 'DejaVu Serif', serif">≥</text>
<text x="1553.6" y="1616.2" font-size="28.5" letter-spacing="0.80">3</text>
<text x="1448.8" y="1667.5" font-size="28.5" letter-spacing="1.03">Torsin A KD</text>
<text x="1455.9" y="1704.1" font-size="28.5" letter-spacing="0.80">2</text>
<text x="1483.4" y="1707.0" font-size="32" letter-spacing="0.80" style="font-family:'Liberation Serif', 'DejaVu Serif', serif">&gt;</text>
<text x="1507.3" y="1704.1" font-size="28.5" letter-spacing="0.50">Score</text>
<text x="1589.0" y="1704.1" font-size="31" letter-spacing="0.80" style="font-family:'Liberation Serif', 'DejaVu Serif', serif">≥</text>
<text x="1612.6" y="1704.1" font-size="28.5" letter-spacing="0.80">1</text>
<text x="1449.4" y="1758.9" font-size="28.5" letter-spacing="0.70">NT shRNA</text>
<text x="1449.8" y="1792.0" font-size="28.5" letter-spacing="0.50">Score</text>
<text x="1534.0" y="1792.0" font-size="28.5" letter-spacing="0.80">=</text>
<text x="1567.5" y="1792.0" font-size="28.5" letter-spacing="0.80">0</text>
</svg>
</body></html>
